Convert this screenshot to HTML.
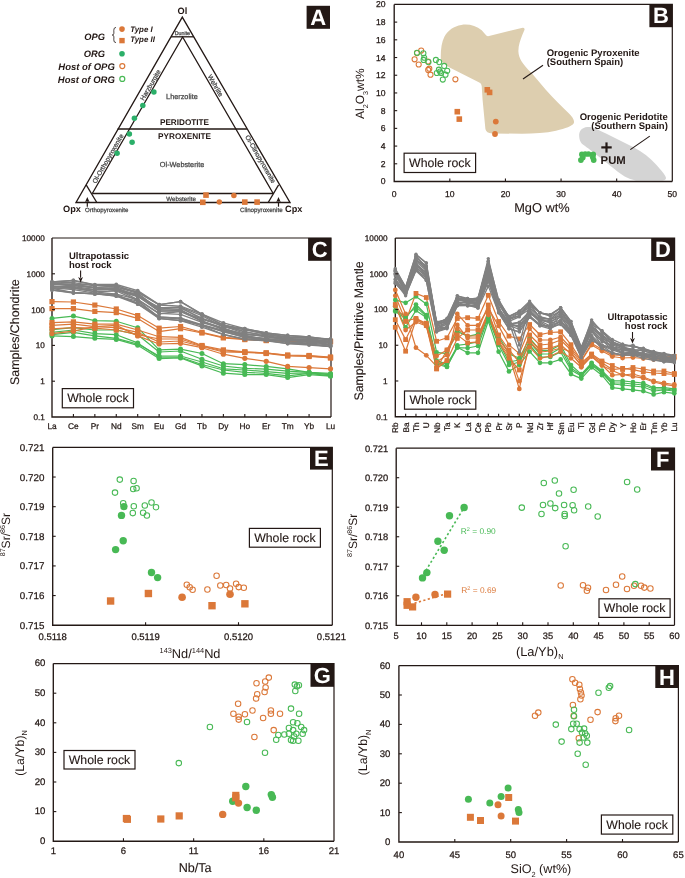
<!DOCTYPE html>
<html><head><meta charset="utf-8"><style>
html,body{margin:0;padding:0;background:#fff;}
svg{display:block;font-family:"Liberation Sans", sans-serif;will-change:transform;text-rendering:geometricPrecision;}
</style></head><body>
<svg width="685" height="878" viewBox="0 0 685 878">
<rect width="685" height="878" fill="#fff"/>
<path d="M76 202.5 L182.3 17.2 L290 202.5 Z" fill="none" stroke="#231815" stroke-width="1.35" stroke-linejoin="miter"/>
<line x1="171" y1="36.8" x2="193.7" y2="36.8" stroke="#231815" stroke-width="1.3"/>
<path d="M92.3 193.5 L182.6 37.0 L273.2 193.5" fill="none" stroke="#231815" stroke-width="1.3"/>
<line x1="117.6" y1="128.9" x2="246.9" y2="128.9" stroke="#231815" stroke-width="1.5"/>
<line x1="92.3" y1="193.5" x2="273.2" y2="193.5" stroke="#231815" stroke-width="1.3"/>
<line x1="86.2" y1="184.9" x2="96.8" y2="202.5" stroke="#231815" stroke-width="1.3"/>
<line x1="278.6" y1="184.9" x2="268.2" y2="202.5" stroke="#231815" stroke-width="1.3"/>
<text x="182.4" y="14" font-size="9.2" text-anchor="middle" font-weight="bold" fill="#231815">Ol</text>
<text x="72" y="212.3" font-size="9.2" text-anchor="middle" font-weight="bold" fill="#231815">Opx</text>
<text x="293.8" y="212.3" font-size="9.2" text-anchor="middle" font-weight="bold" fill="#231815">Cpx</text>
<text x="85" y="212.3" font-size="6.1" text-anchor="start" fill="#454545" stroke="#454545" stroke-width="0.25">Orthopyroxenite</text>
<text x="282.6" y="212.3" font-size="6.2" text-anchor="end" fill="#454545" stroke="#454545" stroke-width="0.25">Clinopyroxenite</text>
<line x1="87.3" y1="206.7" x2="87.3" y2="201.6" stroke="#231815" stroke-width="1.2"/>
<path d="M87.3 197.1 L85.1 201.9 L87.3 201.3 L89.5 201.9 Z" fill="#231815"/>
<line x1="278.5" y1="206.7" x2="278.5" y2="201.6" stroke="#231815" stroke-width="1.2"/>
<path d="M278.5 197.1 L276.3 201.9 L278.5 201.3 L280.7 201.9 Z" fill="#231815"/>
<text x="182.4" y="35" font-size="5.3" text-anchor="middle" fill="#454545" stroke="#454545" stroke-width="0.25">Dunite</text>
<text x="181.9" y="99.4" font-size="7.3" text-anchor="middle" fill="#454545" stroke="#454545" stroke-width="0.25">Lherzolite</text>
<text x="184.5" y="124.9" font-size="8.2" text-anchor="middle" font-weight="bold" fill="#231815">PERIDOTITE</text>
<text x="184.5" y="138.8" font-size="8.2" text-anchor="middle" font-weight="bold" fill="#231815">PYROXENITE</text>
<text x="182.1" y="166.9" font-size="7.3" text-anchor="middle" fill="#454545" stroke="#454545" stroke-width="0.25">Ol-Websterite</text>
<text x="181.1" y="200.5" font-size="6.2" text-anchor="middle" fill="#454545" stroke="#454545" stroke-width="0.25">Websterite</text>
<text x="152.36" y="86.19" font-size="6.6" text-anchor="middle" fill="#454545" stroke="#454545" stroke-width="0.25" transform="rotate(-60 152.36 86.19)">Harzburgite</text>
<text x="213.54" y="86.79" font-size="6.6" text-anchor="middle" fill="#454545" stroke="#454545" stroke-width="0.25" transform="rotate(60 213.54 86.79)">Wehrlite</text>
<text x="109.86" y="159.79" font-size="6.6" text-anchor="middle" fill="#454545" stroke="#454545" stroke-width="0.25" transform="rotate(-60 109.86 159.79)">Ol-Orthopyroxenite</text>
<text x="258.54" y="160.29" font-size="6.6" text-anchor="middle" fill="#454545" stroke="#454545" stroke-width="0.25" transform="rotate(60 258.54 160.29)">Ol-Clinopyroxenite</text>
<text x="105" y="40.3" font-size="9.3" text-anchor="end" font-weight="bold" font-style="italic" fill="#231815">OPG</text>
<text x="105" y="57.2" font-size="9.3" text-anchor="end" font-weight="bold" font-style="italic" fill="#231815">ORG</text>
<text x="114.8" y="69.9" font-size="9.5" text-anchor="end" font-weight="bold" font-style="italic" fill="#231815">Host of OPG</text>
<text x="114.8" y="82.6" font-size="9.5" text-anchor="end" font-weight="bold" font-style="italic" fill="#231815">Host of ORG</text>
<text x="130.2" y="32.4" font-size="7.9" text-anchor="start" font-weight="bold" font-style="italic" fill="#231815">Type I</text>
<text x="130.2" y="42.3" font-size="7.9" text-anchor="start" font-weight="bold" font-style="italic" fill="#231815">Type II</text>
<path d="M116.0 27.4 Q113.6 27.6 113.8 30.2 L113.9 33.2 Q113.9 34.9 112.2 35.0 Q113.9 35.2 113.9 36.9 L113.8 39.9 Q113.6 42.5 116.0 42.6" fill="none" stroke="#231815" stroke-width="0.8"/>
<circle cx="122" cy="29.1" r="2.8" fill="#DB7839" stroke="none" stroke-width="1"/>
<rect x="119.3" y="37.9" width="5.4" height="5.4" fill="#DB7839"/>
<circle cx="122" cy="53.8" r="2.8" fill="#2BAF69" stroke="none" stroke-width="1"/>
<circle cx="122.3" cy="66.1" r="2.5" fill="none" stroke="#DB7839" stroke-width="1.2"/>
<circle cx="122.3" cy="78.9" r="2.5" fill="none" stroke="#48B955" stroke-width="1.2"/>
<circle cx="153.9" cy="92.1" r="2.75" fill="#2BAF69" stroke="none" stroke-width="1"/>
<circle cx="142.8" cy="105.5" r="2.75" fill="#2BAF69" stroke="none" stroke-width="1"/>
<circle cx="134.4" cy="118.3" r="2.75" fill="#2BAF69" stroke="none" stroke-width="1"/>
<circle cx="129.4" cy="134.1" r="2.75" fill="#2BAF69" stroke="none" stroke-width="1"/>
<circle cx="132.1" cy="142.2" r="2.75" fill="#2BAF69" stroke="none" stroke-width="1"/>
<circle cx="117.1" cy="153.3" r="2.75" fill="#2BAF69" stroke="none" stroke-width="1"/>
<rect x="203.2" y="192.3" width="5.6" height="5.6" fill="#DB7839"/>
<rect x="200" y="199.5" width="5.6" height="5.6" fill="#DB7839"/>
<rect x="242" y="199.3" width="5.6" height="5.6" fill="#DB7839"/>
<rect x="254.3" y="199.3" width="5.6" height="5.6" fill="#DB7839"/>
<circle cx="233.9" cy="195.6" r="2.75" fill="#DB7839" stroke="none" stroke-width="1"/>
<circle cx="219.3" cy="201.9" r="2.75" fill="#DB7839" stroke="none" stroke-width="1"/>
<rect x="306.6" y="5.8" width="23.4" height="23" fill="#231815"/>
<text x="318.3" y="24.6" font-size="22" text-anchor="middle" font-weight="bold" fill="#fff">A</text>
<path d="M440.8 58.5 C440.6 50 441.5 42 444.5 36.5 C448 30 454 26.2 461.3 24.9 C468.6 23.7 476 25.6 481.7 30.3 L486.1 35.3 Q487.3 36.6 489 36.1 L521.6 27.9 Q525.6 27.3 524.2 30.6 L522.4 34.8 C520.2 40.5 518.2 46 518.4 51.5 C518.7 58 522.5 64.5 531.4 72.7 L546 90 C554 99 562 106.5 568.5 113 C573 117.5 575 121 573.6 123.6 C572 126 566 128.6 556 130.8 C546 133 534 133.8 522 133.8 L492 133.4 Q486.2 133.2 485.4 129 L482.6 100 L481.7 86 Q481.5 83.5 479.3 82.6 L449.6 67.5 Q441.2 63.2 440.8 58.5 Z" fill="#DDCEAF"/>
<path d="M579.2 136.5 C578.6 131 582 127.4 587.4 127 C592 126.7 598 129.4 606 133.6 L634 147.6 C643 152.5 650 158 656 164.5 C661 170 665 174.5 665.9 177.5 C666.4 179.8 664 180.6 660 180.6 L636 180.4 C628 179.6 621 174.5 614.7 169.3 L598 156 C591 150.5 585 146 581.9 143.8 C580 141.5 579.3 139 579.2 136.5 Z" fill="#D4D4D4"/>
<path d="M394.2 4.4 H672.3 V181.5" fill="none" stroke="#231815" stroke-width="1.2"/>
<path d="M394.2 4.4 V181.5 H672.3" fill="none" stroke="#231815" stroke-width="1.35"/>
<line x1="394.2" y1="163.79" x2="397.2" y2="163.79" stroke="#231815" stroke-width="1.1"/>
<text x="385.6" y="166.79" font-size="8.6" text-anchor="end" fill="#231815" stroke="#231815" stroke-width="0.25">2</text>
<line x1="394.2" y1="146.08" x2="397.2" y2="146.08" stroke="#231815" stroke-width="1.1"/>
<text x="385.6" y="149.08" font-size="8.6" text-anchor="end" fill="#231815" stroke="#231815" stroke-width="0.25">4</text>
<line x1="394.2" y1="128.37" x2="397.2" y2="128.37" stroke="#231815" stroke-width="1.1"/>
<text x="385.6" y="131.37" font-size="8.6" text-anchor="end" fill="#231815" stroke="#231815" stroke-width="0.25">6</text>
<line x1="394.2" y1="110.66" x2="397.2" y2="110.66" stroke="#231815" stroke-width="1.1"/>
<text x="385.6" y="113.66" font-size="8.6" text-anchor="end" fill="#231815" stroke="#231815" stroke-width="0.25">8</text>
<line x1="394.2" y1="92.95" x2="397.2" y2="92.95" stroke="#231815" stroke-width="1.1"/>
<text x="385.6" y="95.95" font-size="8.6" text-anchor="end" fill="#231815" stroke="#231815" stroke-width="0.25">10</text>
<line x1="394.2" y1="75.24" x2="397.2" y2="75.24" stroke="#231815" stroke-width="1.1"/>
<text x="385.6" y="78.24" font-size="8.6" text-anchor="end" fill="#231815" stroke="#231815" stroke-width="0.25">12</text>
<line x1="394.2" y1="57.53" x2="397.2" y2="57.53" stroke="#231815" stroke-width="1.1"/>
<text x="385.6" y="60.53" font-size="8.6" text-anchor="end" fill="#231815" stroke="#231815" stroke-width="0.25">14</text>
<line x1="394.2" y1="39.82" x2="397.2" y2="39.82" stroke="#231815" stroke-width="1.1"/>
<text x="385.6" y="42.82" font-size="8.6" text-anchor="end" fill="#231815" stroke="#231815" stroke-width="0.25">16</text>
<line x1="394.2" y1="22.11" x2="397.2" y2="22.11" stroke="#231815" stroke-width="1.1"/>
<text x="385.6" y="25.11" font-size="8.6" text-anchor="end" fill="#231815" stroke="#231815" stroke-width="0.25">18</text>
<text x="385.6" y="184.4" font-size="8.6" text-anchor="end" fill="#231815" stroke="#231815" stroke-width="0.25">0</text>
<text x="385.6" y="7.3" font-size="8.6" text-anchor="end" fill="#231815" stroke="#231815" stroke-width="0.25">20</text>
<line x1="449.82" y1="181.5" x2="449.82" y2="178.5" stroke="#231815" stroke-width="1.1"/>
<text x="449.82" y="196.6" font-size="8.6" text-anchor="middle" fill="#231815" stroke="#231815" stroke-width="0.25">10</text>
<line x1="505.44" y1="181.5" x2="505.44" y2="178.5" stroke="#231815" stroke-width="1.1"/>
<text x="505.44" y="196.6" font-size="8.6" text-anchor="middle" fill="#231815" stroke="#231815" stroke-width="0.25">20</text>
<line x1="561.06" y1="181.5" x2="561.06" y2="178.5" stroke="#231815" stroke-width="1.1"/>
<text x="561.06" y="196.6" font-size="8.6" text-anchor="middle" fill="#231815" stroke="#231815" stroke-width="0.25">30</text>
<line x1="616.68" y1="181.5" x2="616.68" y2="178.5" stroke="#231815" stroke-width="1.1"/>
<text x="616.68" y="196.6" font-size="8.6" text-anchor="middle" fill="#231815" stroke="#231815" stroke-width="0.25">40</text>
<text x="394.2" y="196.6" font-size="8.6" text-anchor="middle" fill="#231815" stroke="#231815" stroke-width="0.25">0</text>
<text x="672.3" y="196.6" font-size="8.6" text-anchor="middle" fill="#231815" stroke="#231815" stroke-width="0.25">50</text>
<text x="541.9" y="212.2" font-size="12.8" text-anchor="middle" fill="#231815" stroke="#231815" stroke-width="0.12">MgO wt%</text>
<text x="363.7" y="93.6" font-size="12" text-anchor="middle" fill="#231815" transform="rotate(-90 363.7 93.6)">Al<tspan font-size="7.2" dy="4.0">2</tspan><tspan dy="-4.0">O</tspan><tspan font-size="7.2" dy="4.0">3</tspan><tspan dy="-4.0">wt%</tspan></text>
<rect x="404.1" y="153.2" width="71.5" height="19.3" fill="#fff" stroke="#231815" stroke-width="1.2"/>
<text x="439.85" y="166.85" font-size="12.3" text-anchor="middle" fill="#231815" stroke="#231815" stroke-width="0.12">Whole rock</text>
<line x1="523" y1="79" x2="543" y2="65.2" stroke="#231815" stroke-width="1.1"/>
<line x1="630.3" y1="149.6" x2="649.8" y2="136.1" stroke="#231815" stroke-width="1.1"/>
<text x="546.7" y="55.8" font-size="9.5" text-anchor="start" font-weight="bold" fill="#231815">Orogenic Pyroxenite</text>
<text x="546.7" y="65.1" font-size="9.5" text-anchor="start" font-weight="bold" fill="#231815">(Southern Spain)</text>
<text x="667.8" y="119.7" font-size="9.5" text-anchor="end" font-weight="bold" fill="#231815">Orogenic Peridotite</text>
<text x="667.8" y="129.2" font-size="9.5" text-anchor="end" font-weight="bold" fill="#231815">(Southern Spain)</text>
<circle cx="421.2" cy="50.6" r="2.55" fill="none" stroke="#DB7839" stroke-width="1.05"/>
<circle cx="417" cy="53.1" r="2.55" fill="none" stroke="#DB7839" stroke-width="1.05"/>
<circle cx="414.6" cy="59.3" r="2.55" fill="none" stroke="#DB7839" stroke-width="1.05"/>
<circle cx="418.7" cy="64.5" r="2.55" fill="none" stroke="#DB7839" stroke-width="1.05"/>
<circle cx="428" cy="61.5" r="2.55" fill="none" stroke="#DB7839" stroke-width="1.05"/>
<circle cx="429.3" cy="68.7" r="2.55" fill="none" stroke="#DB7839" stroke-width="1.05"/>
<circle cx="428.2" cy="69.9" r="2.55" fill="none" stroke="#DB7839" stroke-width="1.05"/>
<circle cx="430.5" cy="74.7" r="2.55" fill="none" stroke="#DB7839" stroke-width="1.05"/>
<circle cx="455.4" cy="79.3" r="2.55" fill="none" stroke="#DB7839" stroke-width="1.05"/>
<circle cx="417" cy="52.8" r="2.55" fill="none" stroke="#48B955" stroke-width="1.05"/>
<circle cx="423.4" cy="53.3" r="2.55" fill="none" stroke="#48B955" stroke-width="1.05"/>
<circle cx="424.2" cy="57.7" r="2.55" fill="none" stroke="#48B955" stroke-width="1.05"/>
<circle cx="423.6" cy="59.9" r="2.55" fill="none" stroke="#48B955" stroke-width="1.05"/>
<circle cx="428.5" cy="62.1" r="2.55" fill="none" stroke="#48B955" stroke-width="1.05"/>
<circle cx="435.9" cy="59.9" r="2.55" fill="none" stroke="#48B955" stroke-width="1.05"/>
<circle cx="439.2" cy="62.1" r="2.55" fill="none" stroke="#48B955" stroke-width="1.05"/>
<circle cx="444.2" cy="65.9" r="2.55" fill="none" stroke="#48B955" stroke-width="1.05"/>
<circle cx="447.2" cy="70.8" r="2.55" fill="none" stroke="#48B955" stroke-width="1.05"/>
<circle cx="436.8" cy="73" r="2.55" fill="none" stroke="#48B955" stroke-width="1.05"/>
<circle cx="441.1" cy="73" r="2.55" fill="none" stroke="#48B955" stroke-width="1.05"/>
<circle cx="442.8" cy="79.6" r="2.55" fill="none" stroke="#48B955" stroke-width="1.05"/>
<circle cx="438.9" cy="69.7" r="2.55" fill="none" stroke="#48B955" stroke-width="1.05"/>
<circle cx="445.5" cy="74.7" r="2.55" fill="none" stroke="#48B955" stroke-width="1.05"/>
<circle cx="440" cy="71.5" r="2.55" fill="none" stroke="#48B955" stroke-width="1.05"/>
<rect x="484.5" y="87" width="5.6" height="5.6" fill="#DB7839"/>
<rect x="486.8" y="89.6" width="5.6" height="5.6" fill="#DB7839"/>
<rect x="454.5" y="108.9" width="5.6" height="5.6" fill="#DB7839"/>
<rect x="456.5" y="116.3" width="5.6" height="5.6" fill="#DB7839"/>
<circle cx="495.8" cy="121.6" r="2.9" fill="#DB7839" stroke="none" stroke-width="1"/>
<circle cx="495" cy="134" r="2.9" fill="#DB7839" stroke="none" stroke-width="1"/>
<circle cx="581.9" cy="154.4" r="2.85" fill="#48B955" stroke="none" stroke-width="1"/>
<circle cx="585.2" cy="154" r="2.85" fill="#48B955" stroke="none" stroke-width="1"/>
<circle cx="588.5" cy="154" r="2.85" fill="#48B955" stroke="none" stroke-width="1"/>
<circle cx="593.2" cy="154.4" r="2.85" fill="#48B955" stroke="none" stroke-width="1"/>
<circle cx="580.9" cy="160.1" r="2.85" fill="#48B955" stroke="none" stroke-width="1"/>
<circle cx="593.7" cy="160.1" r="2.85" fill="#48B955" stroke="none" stroke-width="1"/>
<circle cx="582.8" cy="157.6" r="2.85" fill="#48B955" stroke="none" stroke-width="1"/>
<circle cx="592.8" cy="157.3" r="2.85" fill="#48B955" stroke="none" stroke-width="1"/>
<line x1="601.3" y1="147.4" x2="611.7" y2="147.4" stroke="#231815" stroke-width="2.2"/>
<line x1="606.5" y1="142.4" x2="606.5" y2="152.6" stroke="#231815" stroke-width="2.2"/>
<text x="600.6" y="163.5" font-size="11.3" text-anchor="start" font-weight="bold" fill="#231815">PUM</text>
<rect x="649.4" y="4.2" width="23" height="23" fill="#231815"/>
<text x="660.9" y="23" font-size="22" text-anchor="middle" font-weight="bold" fill="#fff">B</text>
<path d="M52 238 H331 V417" fill="none" stroke="#231815" stroke-width="1.2"/>
<path d="M52 238 V417 H331" fill="none" stroke="#231815" stroke-width="1.35"/>
<polyline points="52,318.4 73.42,316.1 94.85,320.7 116.27,321.2 137.69,327.7 159.12,349.9 180.54,349.1 201.96,353.5 223.38,363.7 244.81,364.6 266.23,366.4 287.65,368.8 309.08,372.3 330.5,373.4" fill="none" stroke="#48B955" stroke-width="1.2" stroke-linejoin="round"/>
<polyline points="52,329.6 73.42,327.7 94.85,330 116.27,330 137.69,334.7 159.12,352 180.54,351 201.96,359.3 223.38,366 244.81,368.3 266.23,369.2 287.65,371.1 309.08,372.3 330.5,374.6" fill="none" stroke="#48B955" stroke-width="1.2" stroke-linejoin="round"/>
<polyline points="52,332.4 73.42,330 94.85,333.6 116.27,334.7 137.69,342.9 159.12,357.2 180.54,357.2 201.96,364.5 223.38,370 244.81,372.3 266.23,373.4 287.65,375.8 309.08,373.4 330.5,375.8" fill="none" stroke="#48B955" stroke-width="1.2" stroke-linejoin="round"/>
<polyline points="52,335.9 73.42,336.6 94.85,338.3 116.27,339.4 137.69,345.3 159.12,358.6 180.54,357.9 201.96,365.9 223.38,373.2 244.81,374.6 266.23,374.6 287.65,377.6 309.08,374.6 330.5,376.2" fill="none" stroke="#48B955" stroke-width="1.2" stroke-linejoin="round"/>
<polyline points="52,334.7 73.42,332.4 94.85,335.9 116.27,338.3 137.69,344.1 159.12,356 180.54,356 201.96,362 223.38,368.8 244.81,370 266.23,371.6 287.65,373.4 309.08,373 330.5,374.6" fill="none" stroke="#48B955" stroke-width="1.2" stroke-linejoin="round"/>
<polyline points="52,301.6 73.42,302 94.85,305.1 116.27,309 137.69,315.6 159.12,328.2 180.54,326.5 201.96,332.3 223.38,337.4 244.81,338.9 266.23,340.3 287.65,341.2 309.08,341.2 330.5,341.2" fill="none" stroke="#DB7839" stroke-width="1.2" stroke-linejoin="round"/>
<polyline points="52,308.6 73.42,308.6 94.85,311.4 116.27,312.6 137.69,318.4 159.12,331.6 180.54,328.7 201.96,333 223.38,337.9 244.81,339.6 266.23,340.6 287.65,341.5 309.08,341.5 330.5,341.8" fill="none" stroke="#DB7839" stroke-width="1.2" stroke-linejoin="round"/>
<polyline points="52,322.6 73.42,321.9 94.85,324.2 116.27,324.2 137.69,330 159.12,336.7 180.54,337.4 201.96,345.5 223.38,349.9 244.81,351.9 266.23,352.9 287.65,355.5 309.08,355.9 330.5,357.6" fill="none" stroke="#DB7839" stroke-width="1.2" stroke-linejoin="round"/>
<polyline points="52,325.4 73.42,324.2 94.85,326.6 116.27,327.7 137.69,332.4 159.12,342 180.54,341 201.96,346.5 223.38,352 244.81,352.5 266.23,353.5 287.65,356 309.08,356.5 330.5,358" fill="none" stroke="#DB7839" stroke-width="1.2" stroke-linejoin="round"/>
<polyline points="52,333.6 73.42,331.2 94.85,326.6 116.27,325.4 137.69,335.9 159.12,344 180.54,343.3 201.96,347.7 223.38,354.2 244.81,358.3 266.23,361.3 287.65,366.4 309.08,367.6 330.5,368.8" fill="none" stroke="#DB7839" stroke-width="1.2" stroke-linejoin="round"/>
<polyline points="52,328.9 73.42,327.7 94.85,328.2 116.27,330 137.69,334.7 159.12,339 180.54,339 201.96,346 223.38,351 244.81,352 266.23,353 287.65,355 309.08,355.5 330.5,357" fill="none" stroke="#DB7839" stroke-width="1.2" stroke-linejoin="round"/>
<circle cx="52" cy="318.4" r="2.5" fill="#48B955" stroke="none" stroke-width="1"/>
<circle cx="73.42" cy="316.1" r="2.5" fill="#48B955" stroke="none" stroke-width="1"/>
<circle cx="94.85" cy="320.7" r="2.5" fill="#48B955" stroke="none" stroke-width="1"/>
<circle cx="116.27" cy="321.2" r="2.5" fill="#48B955" stroke="none" stroke-width="1"/>
<circle cx="137.69" cy="327.7" r="2.5" fill="#48B955" stroke="none" stroke-width="1"/>
<circle cx="159.12" cy="349.9" r="2.5" fill="#48B955" stroke="none" stroke-width="1"/>
<circle cx="180.54" cy="349.1" r="2.5" fill="#48B955" stroke="none" stroke-width="1"/>
<circle cx="201.96" cy="353.5" r="2.5" fill="#48B955" stroke="none" stroke-width="1"/>
<circle cx="223.38" cy="363.7" r="2.5" fill="#48B955" stroke="none" stroke-width="1"/>
<circle cx="244.81" cy="364.6" r="2.5" fill="#48B955" stroke="none" stroke-width="1"/>
<circle cx="266.23" cy="366.4" r="2.5" fill="#48B955" stroke="none" stroke-width="1"/>
<circle cx="287.65" cy="368.8" r="2.5" fill="#48B955" stroke="none" stroke-width="1"/>
<circle cx="309.08" cy="372.3" r="2.5" fill="#48B955" stroke="none" stroke-width="1"/>
<circle cx="330.5" cy="373.4" r="2.5" fill="#48B955" stroke="none" stroke-width="1"/>
<circle cx="52" cy="329.6" r="2.5" fill="#48B955" stroke="none" stroke-width="1"/>
<circle cx="73.42" cy="327.7" r="2.5" fill="#48B955" stroke="none" stroke-width="1"/>
<circle cx="94.85" cy="330" r="2.5" fill="#48B955" stroke="none" stroke-width="1"/>
<circle cx="116.27" cy="330" r="2.5" fill="#48B955" stroke="none" stroke-width="1"/>
<circle cx="137.69" cy="334.7" r="2.5" fill="#48B955" stroke="none" stroke-width="1"/>
<circle cx="159.12" cy="352" r="2.5" fill="#48B955" stroke="none" stroke-width="1"/>
<circle cx="180.54" cy="351" r="2.5" fill="#48B955" stroke="none" stroke-width="1"/>
<circle cx="201.96" cy="359.3" r="2.5" fill="#48B955" stroke="none" stroke-width="1"/>
<circle cx="223.38" cy="366" r="2.5" fill="#48B955" stroke="none" stroke-width="1"/>
<circle cx="244.81" cy="368.3" r="2.5" fill="#48B955" stroke="none" stroke-width="1"/>
<circle cx="266.23" cy="369.2" r="2.5" fill="#48B955" stroke="none" stroke-width="1"/>
<circle cx="287.65" cy="371.1" r="2.5" fill="#48B955" stroke="none" stroke-width="1"/>
<circle cx="309.08" cy="372.3" r="2.5" fill="#48B955" stroke="none" stroke-width="1"/>
<circle cx="330.5" cy="374.6" r="2.5" fill="#48B955" stroke="none" stroke-width="1"/>
<circle cx="52" cy="332.4" r="2.5" fill="#48B955" stroke="none" stroke-width="1"/>
<circle cx="73.42" cy="330" r="2.5" fill="#48B955" stroke="none" stroke-width="1"/>
<circle cx="94.85" cy="333.6" r="2.5" fill="#48B955" stroke="none" stroke-width="1"/>
<circle cx="116.27" cy="334.7" r="2.5" fill="#48B955" stroke="none" stroke-width="1"/>
<circle cx="137.69" cy="342.9" r="2.5" fill="#48B955" stroke="none" stroke-width="1"/>
<circle cx="159.12" cy="357.2" r="2.5" fill="#48B955" stroke="none" stroke-width="1"/>
<circle cx="180.54" cy="357.2" r="2.5" fill="#48B955" stroke="none" stroke-width="1"/>
<circle cx="201.96" cy="364.5" r="2.5" fill="#48B955" stroke="none" stroke-width="1"/>
<circle cx="223.38" cy="370" r="2.5" fill="#48B955" stroke="none" stroke-width="1"/>
<circle cx="244.81" cy="372.3" r="2.5" fill="#48B955" stroke="none" stroke-width="1"/>
<circle cx="266.23" cy="373.4" r="2.5" fill="#48B955" stroke="none" stroke-width="1"/>
<circle cx="287.65" cy="375.8" r="2.5" fill="#48B955" stroke="none" stroke-width="1"/>
<circle cx="309.08" cy="373.4" r="2.5" fill="#48B955" stroke="none" stroke-width="1"/>
<circle cx="330.5" cy="375.8" r="2.5" fill="#48B955" stroke="none" stroke-width="1"/>
<circle cx="52" cy="335.9" r="2.5" fill="#48B955" stroke="none" stroke-width="1"/>
<circle cx="73.42" cy="336.6" r="2.5" fill="#48B955" stroke="none" stroke-width="1"/>
<circle cx="94.85" cy="338.3" r="2.5" fill="#48B955" stroke="none" stroke-width="1"/>
<circle cx="116.27" cy="339.4" r="2.5" fill="#48B955" stroke="none" stroke-width="1"/>
<circle cx="137.69" cy="345.3" r="2.5" fill="#48B955" stroke="none" stroke-width="1"/>
<circle cx="159.12" cy="358.6" r="2.5" fill="#48B955" stroke="none" stroke-width="1"/>
<circle cx="180.54" cy="357.9" r="2.5" fill="#48B955" stroke="none" stroke-width="1"/>
<circle cx="201.96" cy="365.9" r="2.5" fill="#48B955" stroke="none" stroke-width="1"/>
<circle cx="223.38" cy="373.2" r="2.5" fill="#48B955" stroke="none" stroke-width="1"/>
<circle cx="244.81" cy="374.6" r="2.5" fill="#48B955" stroke="none" stroke-width="1"/>
<circle cx="266.23" cy="374.6" r="2.5" fill="#48B955" stroke="none" stroke-width="1"/>
<circle cx="287.65" cy="377.6" r="2.5" fill="#48B955" stroke="none" stroke-width="1"/>
<circle cx="309.08" cy="374.6" r="2.5" fill="#48B955" stroke="none" stroke-width="1"/>
<circle cx="330.5" cy="376.2" r="2.5" fill="#48B955" stroke="none" stroke-width="1"/>
<circle cx="52" cy="334.7" r="2.5" fill="#48B955" stroke="none" stroke-width="1"/>
<circle cx="73.42" cy="332.4" r="2.5" fill="#48B955" stroke="none" stroke-width="1"/>
<circle cx="94.85" cy="335.9" r="2.5" fill="#48B955" stroke="none" stroke-width="1"/>
<circle cx="116.27" cy="338.3" r="2.5" fill="#48B955" stroke="none" stroke-width="1"/>
<circle cx="137.69" cy="344.1" r="2.5" fill="#48B955" stroke="none" stroke-width="1"/>
<circle cx="159.12" cy="356" r="2.5" fill="#48B955" stroke="none" stroke-width="1"/>
<circle cx="180.54" cy="356" r="2.5" fill="#48B955" stroke="none" stroke-width="1"/>
<circle cx="201.96" cy="362" r="2.5" fill="#48B955" stroke="none" stroke-width="1"/>
<circle cx="223.38" cy="368.8" r="2.5" fill="#48B955" stroke="none" stroke-width="1"/>
<circle cx="244.81" cy="370" r="2.5" fill="#48B955" stroke="none" stroke-width="1"/>
<circle cx="266.23" cy="371.6" r="2.5" fill="#48B955" stroke="none" stroke-width="1"/>
<circle cx="287.65" cy="373.4" r="2.5" fill="#48B955" stroke="none" stroke-width="1"/>
<circle cx="309.08" cy="373" r="2.5" fill="#48B955" stroke="none" stroke-width="1"/>
<circle cx="330.5" cy="374.6" r="2.5" fill="#48B955" stroke="none" stroke-width="1"/>
<rect x="49.4" y="299" width="5.2" height="5.2" fill="#DB7839"/>
<rect x="70.82" y="299.4" width="5.2" height="5.2" fill="#DB7839"/>
<rect x="92.25" y="302.5" width="5.2" height="5.2" fill="#DB7839"/>
<rect x="113.67" y="306.4" width="5.2" height="5.2" fill="#DB7839"/>
<rect x="135.09" y="313" width="5.2" height="5.2" fill="#DB7839"/>
<rect x="156.52" y="325.6" width="5.2" height="5.2" fill="#DB7839"/>
<rect x="177.94" y="323.9" width="5.2" height="5.2" fill="#DB7839"/>
<rect x="199.36" y="329.7" width="5.2" height="5.2" fill="#DB7839"/>
<rect x="220.78" y="334.8" width="5.2" height="5.2" fill="#DB7839"/>
<rect x="242.21" y="336.3" width="5.2" height="5.2" fill="#DB7839"/>
<rect x="263.63" y="337.7" width="5.2" height="5.2" fill="#DB7839"/>
<rect x="285.05" y="338.6" width="5.2" height="5.2" fill="#DB7839"/>
<rect x="306.48" y="338.6" width="5.2" height="5.2" fill="#DB7839"/>
<rect x="327.9" y="338.6" width="5.2" height="5.2" fill="#DB7839"/>
<rect x="49.4" y="306" width="5.2" height="5.2" fill="#DB7839"/>
<rect x="70.82" y="306" width="5.2" height="5.2" fill="#DB7839"/>
<rect x="92.25" y="308.8" width="5.2" height="5.2" fill="#DB7839"/>
<rect x="113.67" y="310" width="5.2" height="5.2" fill="#DB7839"/>
<rect x="135.09" y="315.8" width="5.2" height="5.2" fill="#DB7839"/>
<rect x="156.52" y="329" width="5.2" height="5.2" fill="#DB7839"/>
<rect x="177.94" y="326.1" width="5.2" height="5.2" fill="#DB7839"/>
<rect x="199.36" y="330.4" width="5.2" height="5.2" fill="#DB7839"/>
<rect x="220.78" y="335.3" width="5.2" height="5.2" fill="#DB7839"/>
<rect x="242.21" y="337" width="5.2" height="5.2" fill="#DB7839"/>
<rect x="263.63" y="338" width="5.2" height="5.2" fill="#DB7839"/>
<rect x="285.05" y="338.9" width="5.2" height="5.2" fill="#DB7839"/>
<rect x="306.48" y="338.9" width="5.2" height="5.2" fill="#DB7839"/>
<rect x="327.9" y="339.2" width="5.2" height="5.2" fill="#DB7839"/>
<rect x="49.4" y="320" width="5.2" height="5.2" fill="#DB7839"/>
<rect x="70.82" y="319.3" width="5.2" height="5.2" fill="#DB7839"/>
<rect x="92.25" y="321.6" width="5.2" height="5.2" fill="#DB7839"/>
<rect x="113.67" y="321.6" width="5.2" height="5.2" fill="#DB7839"/>
<rect x="135.09" y="327.4" width="5.2" height="5.2" fill="#DB7839"/>
<rect x="156.52" y="334.1" width="5.2" height="5.2" fill="#DB7839"/>
<rect x="177.94" y="334.8" width="5.2" height="5.2" fill="#DB7839"/>
<rect x="199.36" y="342.9" width="5.2" height="5.2" fill="#DB7839"/>
<rect x="220.78" y="347.3" width="5.2" height="5.2" fill="#DB7839"/>
<rect x="242.21" y="349.3" width="5.2" height="5.2" fill="#DB7839"/>
<rect x="263.63" y="350.3" width="5.2" height="5.2" fill="#DB7839"/>
<rect x="285.05" y="352.9" width="5.2" height="5.2" fill="#DB7839"/>
<rect x="306.48" y="353.3" width="5.2" height="5.2" fill="#DB7839"/>
<rect x="327.9" y="355" width="5.2" height="5.2" fill="#DB7839"/>
<rect x="49.4" y="322.8" width="5.2" height="5.2" fill="#DB7839"/>
<rect x="70.82" y="321.6" width="5.2" height="5.2" fill="#DB7839"/>
<rect x="92.25" y="324" width="5.2" height="5.2" fill="#DB7839"/>
<rect x="113.67" y="325.1" width="5.2" height="5.2" fill="#DB7839"/>
<rect x="135.09" y="329.8" width="5.2" height="5.2" fill="#DB7839"/>
<rect x="156.52" y="339.4" width="5.2" height="5.2" fill="#DB7839"/>
<rect x="177.94" y="338.4" width="5.2" height="5.2" fill="#DB7839"/>
<rect x="199.36" y="343.9" width="5.2" height="5.2" fill="#DB7839"/>
<rect x="220.78" y="349.4" width="5.2" height="5.2" fill="#DB7839"/>
<rect x="242.21" y="349.9" width="5.2" height="5.2" fill="#DB7839"/>
<rect x="263.63" y="350.9" width="5.2" height="5.2" fill="#DB7839"/>
<rect x="285.05" y="353.4" width="5.2" height="5.2" fill="#DB7839"/>
<rect x="306.48" y="353.9" width="5.2" height="5.2" fill="#DB7839"/>
<rect x="327.9" y="355.4" width="5.2" height="5.2" fill="#DB7839"/>
<circle cx="52" cy="333.6" r="2.6" fill="#DB7839" stroke="none" stroke-width="1"/>
<circle cx="73.42" cy="331.2" r="2.6" fill="#DB7839" stroke="none" stroke-width="1"/>
<circle cx="94.85" cy="326.6" r="2.6" fill="#DB7839" stroke="none" stroke-width="1"/>
<circle cx="116.27" cy="325.4" r="2.6" fill="#DB7839" stroke="none" stroke-width="1"/>
<circle cx="137.69" cy="335.9" r="2.6" fill="#DB7839" stroke="none" stroke-width="1"/>
<circle cx="159.12" cy="344" r="2.6" fill="#DB7839" stroke="none" stroke-width="1"/>
<circle cx="180.54" cy="343.3" r="2.6" fill="#DB7839" stroke="none" stroke-width="1"/>
<circle cx="201.96" cy="347.7" r="2.6" fill="#DB7839" stroke="none" stroke-width="1"/>
<circle cx="223.38" cy="354.2" r="2.6" fill="#DB7839" stroke="none" stroke-width="1"/>
<circle cx="244.81" cy="358.3" r="2.6" fill="#DB7839" stroke="none" stroke-width="1"/>
<circle cx="266.23" cy="361.3" r="2.6" fill="#DB7839" stroke="none" stroke-width="1"/>
<circle cx="287.65" cy="366.4" r="2.6" fill="#DB7839" stroke="none" stroke-width="1"/>
<circle cx="309.08" cy="367.6" r="2.6" fill="#DB7839" stroke="none" stroke-width="1"/>
<circle cx="330.5" cy="368.8" r="2.6" fill="#DB7839" stroke="none" stroke-width="1"/>
<rect x="49.4" y="326.3" width="5.2" height="5.2" fill="#DB7839"/>
<rect x="70.82" y="325.1" width="5.2" height="5.2" fill="#DB7839"/>
<rect x="92.25" y="325.6" width="5.2" height="5.2" fill="#DB7839"/>
<rect x="113.67" y="327.4" width="5.2" height="5.2" fill="#DB7839"/>
<rect x="135.09" y="332.1" width="5.2" height="5.2" fill="#DB7839"/>
<rect x="156.52" y="336.4" width="5.2" height="5.2" fill="#DB7839"/>
<rect x="177.94" y="336.4" width="5.2" height="5.2" fill="#DB7839"/>
<rect x="199.36" y="343.4" width="5.2" height="5.2" fill="#DB7839"/>
<rect x="220.78" y="348.4" width="5.2" height="5.2" fill="#DB7839"/>
<rect x="242.21" y="349.4" width="5.2" height="5.2" fill="#DB7839"/>
<rect x="263.63" y="350.4" width="5.2" height="5.2" fill="#DB7839"/>
<rect x="285.05" y="352.4" width="5.2" height="5.2" fill="#DB7839"/>
<rect x="306.48" y="352.9" width="5.2" height="5.2" fill="#DB7839"/>
<rect x="327.9" y="354.4" width="5.2" height="5.2" fill="#DB7839"/>
<polyline points="52,282 73.42,280.5 94.85,284.54 116.27,284.5 137.69,290.67 159.12,304.6 180.54,301.7 201.96,314.14 223.38,322.8 244.81,328.7 266.23,333 287.65,335.5 309.08,337 330.5,339.44" fill="none" stroke="#808080" stroke-width="1.35" stroke-linejoin="round"/>
<polyline points="52,282 73.42,280.5 94.85,285.13 116.27,287.12 137.69,291.77 159.12,305.01 180.54,306.22 201.96,314.1 223.38,325.09 244.81,328.7 266.23,333 287.65,335.5 309.08,337 330.5,339.94" fill="none" stroke="#808080" stroke-width="1.35" stroke-linejoin="round"/>
<polyline points="52,282.15 73.42,282.62 94.85,285.83 116.27,285.51 137.69,292.53 159.12,304.6 180.54,301.7 201.96,314.46 223.38,325.12 244.81,329.87 266.23,333.6 287.65,336.81 309.08,337.93 330.5,338.99" fill="none" stroke="#808080" stroke-width="1.35" stroke-linejoin="round"/>
<polyline points="52,284.45 73.42,284.03 94.85,285.08 116.27,287.11 137.69,293.32 159.12,309.26 180.54,307.07 201.96,315.72 223.38,327.16 244.81,329.38 266.23,334.53 287.65,337.84 309.08,337.6 330.5,340.07" fill="none" stroke="#808080" stroke-width="1.35" stroke-linejoin="round"/>
<polyline points="52,282.81 73.42,284.75 94.85,287.62 116.27,287.87 137.69,295.92 159.12,307.37 180.54,308.1 201.96,318.04 223.38,326.26 244.81,331.43 266.23,336.5 287.65,338.91 309.08,339.06 330.5,341.11" fill="none" stroke="#808080" stroke-width="1.35" stroke-linejoin="round"/>
<polyline points="52,283.4 73.42,285.78 94.85,287.86 116.27,290.37 137.69,296.56 159.12,308.16 180.54,307.25 201.96,319.26 223.38,324.69 244.81,332.18 266.23,334.92 287.65,337.06 309.08,338.4 330.5,341.94" fill="none" stroke="#808080" stroke-width="1.35" stroke-linejoin="round"/>
<polyline points="52,284.13 73.42,284.52 94.85,287.61 116.27,290.64 137.69,293.86 159.12,309.91 180.54,309.64 201.96,321.15 223.38,328.82 244.81,334.49 266.23,335.88 287.65,338.46 309.08,339.79 330.5,342.81" fill="none" stroke="#808080" stroke-width="1.35" stroke-linejoin="round"/>
<polyline points="52,287.05 73.42,284.93 94.85,287.5 116.27,288.76 137.69,295.5 159.12,311.01 180.54,311.18 201.96,319.09 223.38,326.17 244.81,333.47 266.23,336.78 287.65,339.42 309.08,342.04 330.5,342.78" fill="none" stroke="#808080" stroke-width="1.35" stroke-linejoin="round"/>
<polyline points="52,286.31 73.42,287.98 94.85,289.97 116.27,288.79 137.69,299.64 159.12,313.41 180.54,314.4 201.96,322.49 223.38,328.59 244.81,334.12 266.23,336.52 287.65,340.15 309.08,340.01 330.5,341.52" fill="none" stroke="#808080" stroke-width="1.35" stroke-linejoin="round"/>
<polyline points="52,285.96 73.42,286.72 94.85,289.42 116.27,289.55 137.69,296.17 159.12,311.19 180.54,310.37 201.96,321.32 223.38,327.82 244.81,336.71 266.23,338.77 287.65,339.29 309.08,341.09 330.5,342.86" fill="none" stroke="#808080" stroke-width="1.35" stroke-linejoin="round"/>
<polyline points="52,286.94 73.42,287.4 94.85,291.92 116.27,294.21 137.69,299.33 159.12,313.79 180.54,311.53 201.96,320.96 223.38,329.94 244.81,335.04 266.23,340.07 287.65,339.86 309.08,340.96 330.5,345.13" fill="none" stroke="#808080" stroke-width="1.35" stroke-linejoin="round"/>
<polyline points="52,287.95 73.42,288.38 94.85,291.49 116.27,290.98 137.69,300.54 159.12,317.19 180.54,318.12 201.96,324.63 223.38,330.37 244.81,336.17 266.23,338.52 287.65,342.15 309.08,342.96 330.5,345.17" fill="none" stroke="#808080" stroke-width="1.35" stroke-linejoin="round"/>
<polyline points="52,287.91 73.42,289.6 94.85,293.12 116.27,295.71 137.69,303.01 159.12,317.25 180.54,319.08 201.96,325.71 223.38,331.01 244.81,337.49 266.23,339.73 287.65,340.54 309.08,342.04 330.5,344.26" fill="none" stroke="#808080" stroke-width="1.35" stroke-linejoin="round"/>
<polyline points="52,288.24 73.42,292.67 94.85,294 116.27,294.25 137.69,304 159.12,318.5 180.54,320.7 201.96,324.81 223.38,331.76 244.81,337.07 266.23,339.82 287.65,341.58 309.08,344.29 330.5,346.5" fill="none" stroke="#808080" stroke-width="1.35" stroke-linejoin="round"/>
<polyline points="52,290 73.42,292.54 94.85,293.88 116.27,296 137.69,301.08 159.12,318.38 180.54,320.7 201.96,327.2 223.38,334.5 244.81,338.79 266.23,340.36 287.65,343.5 309.08,343.98 330.5,346.5" fill="none" stroke="#808080" stroke-width="1.35" stroke-linejoin="round"/>
<polyline points="52,290 73.42,293.01 94.85,293.64 116.27,296 137.69,304 159.12,316.85 180.54,318.15 201.96,325.55 223.38,334.5 244.81,339.6 266.23,340.85 287.65,343.5 309.08,345 330.5,346.5" fill="none" stroke="#808080" stroke-width="1.35" stroke-linejoin="round"/>
<circle cx="52" cy="282" r="1.9" fill="#808080" stroke="none" stroke-width="1"/>
<circle cx="73.42" cy="280.5" r="1.9" fill="#808080" stroke="none" stroke-width="1"/>
<circle cx="94.85" cy="284.54" r="1.9" fill="#808080" stroke="none" stroke-width="1"/>
<circle cx="116.27" cy="284.5" r="1.9" fill="#808080" stroke="none" stroke-width="1"/>
<circle cx="137.69" cy="290.67" r="1.9" fill="#808080" stroke="none" stroke-width="1"/>
<circle cx="159.12" cy="304.6" r="1.9" fill="#808080" stroke="none" stroke-width="1"/>
<circle cx="180.54" cy="301.7" r="1.9" fill="#808080" stroke="none" stroke-width="1"/>
<circle cx="201.96" cy="314.14" r="1.9" fill="#808080" stroke="none" stroke-width="1"/>
<circle cx="223.38" cy="322.8" r="1.9" fill="#808080" stroke="none" stroke-width="1"/>
<circle cx="244.81" cy="328.7" r="1.9" fill="#808080" stroke="none" stroke-width="1"/>
<circle cx="266.23" cy="333" r="1.9" fill="#808080" stroke="none" stroke-width="1"/>
<circle cx="287.65" cy="335.5" r="1.9" fill="#808080" stroke="none" stroke-width="1"/>
<circle cx="309.08" cy="337" r="1.9" fill="#808080" stroke="none" stroke-width="1"/>
<circle cx="330.5" cy="339.44" r="1.9" fill="#808080" stroke="none" stroke-width="1"/>
<circle cx="52" cy="282" r="1.9" fill="#808080" stroke="none" stroke-width="1"/>
<circle cx="73.42" cy="280.5" r="1.9" fill="#808080" stroke="none" stroke-width="1"/>
<circle cx="94.85" cy="285.13" r="1.9" fill="#808080" stroke="none" stroke-width="1"/>
<circle cx="116.27" cy="287.12" r="1.9" fill="#808080" stroke="none" stroke-width="1"/>
<circle cx="137.69" cy="291.77" r="1.9" fill="#808080" stroke="none" stroke-width="1"/>
<circle cx="159.12" cy="305.01" r="1.9" fill="#808080" stroke="none" stroke-width="1"/>
<circle cx="180.54" cy="306.22" r="1.9" fill="#808080" stroke="none" stroke-width="1"/>
<circle cx="201.96" cy="314.1" r="1.9" fill="#808080" stroke="none" stroke-width="1"/>
<circle cx="223.38" cy="325.09" r="1.9" fill="#808080" stroke="none" stroke-width="1"/>
<circle cx="244.81" cy="328.7" r="1.9" fill="#808080" stroke="none" stroke-width="1"/>
<circle cx="266.23" cy="333" r="1.9" fill="#808080" stroke="none" stroke-width="1"/>
<circle cx="287.65" cy="335.5" r="1.9" fill="#808080" stroke="none" stroke-width="1"/>
<circle cx="309.08" cy="337" r="1.9" fill="#808080" stroke="none" stroke-width="1"/>
<circle cx="330.5" cy="339.94" r="1.9" fill="#808080" stroke="none" stroke-width="1"/>
<circle cx="52" cy="282.15" r="1.9" fill="#808080" stroke="none" stroke-width="1"/>
<circle cx="73.42" cy="282.62" r="1.9" fill="#808080" stroke="none" stroke-width="1"/>
<circle cx="94.85" cy="285.83" r="1.9" fill="#808080" stroke="none" stroke-width="1"/>
<circle cx="116.27" cy="285.51" r="1.9" fill="#808080" stroke="none" stroke-width="1"/>
<circle cx="137.69" cy="292.53" r="1.9" fill="#808080" stroke="none" stroke-width="1"/>
<circle cx="159.12" cy="304.6" r="1.9" fill="#808080" stroke="none" stroke-width="1"/>
<circle cx="180.54" cy="301.7" r="1.9" fill="#808080" stroke="none" stroke-width="1"/>
<circle cx="201.96" cy="314.46" r="1.9" fill="#808080" stroke="none" stroke-width="1"/>
<circle cx="223.38" cy="325.12" r="1.9" fill="#808080" stroke="none" stroke-width="1"/>
<circle cx="244.81" cy="329.87" r="1.9" fill="#808080" stroke="none" stroke-width="1"/>
<circle cx="266.23" cy="333.6" r="1.9" fill="#808080" stroke="none" stroke-width="1"/>
<circle cx="287.65" cy="336.81" r="1.9" fill="#808080" stroke="none" stroke-width="1"/>
<circle cx="309.08" cy="337.93" r="1.9" fill="#808080" stroke="none" stroke-width="1"/>
<circle cx="330.5" cy="338.99" r="1.9" fill="#808080" stroke="none" stroke-width="1"/>
<circle cx="52" cy="284.45" r="1.9" fill="#808080" stroke="none" stroke-width="1"/>
<circle cx="73.42" cy="284.03" r="1.9" fill="#808080" stroke="none" stroke-width="1"/>
<circle cx="94.85" cy="285.08" r="1.9" fill="#808080" stroke="none" stroke-width="1"/>
<circle cx="116.27" cy="287.11" r="1.9" fill="#808080" stroke="none" stroke-width="1"/>
<circle cx="137.69" cy="293.32" r="1.9" fill="#808080" stroke="none" stroke-width="1"/>
<circle cx="159.12" cy="309.26" r="1.9" fill="#808080" stroke="none" stroke-width="1"/>
<circle cx="180.54" cy="307.07" r="1.9" fill="#808080" stroke="none" stroke-width="1"/>
<circle cx="201.96" cy="315.72" r="1.9" fill="#808080" stroke="none" stroke-width="1"/>
<circle cx="223.38" cy="327.16" r="1.9" fill="#808080" stroke="none" stroke-width="1"/>
<circle cx="244.81" cy="329.38" r="1.9" fill="#808080" stroke="none" stroke-width="1"/>
<circle cx="266.23" cy="334.53" r="1.9" fill="#808080" stroke="none" stroke-width="1"/>
<circle cx="287.65" cy="337.84" r="1.9" fill="#808080" stroke="none" stroke-width="1"/>
<circle cx="309.08" cy="337.6" r="1.9" fill="#808080" stroke="none" stroke-width="1"/>
<circle cx="330.5" cy="340.07" r="1.9" fill="#808080" stroke="none" stroke-width="1"/>
<circle cx="52" cy="282.81" r="1.9" fill="#808080" stroke="none" stroke-width="1"/>
<circle cx="73.42" cy="284.75" r="1.9" fill="#808080" stroke="none" stroke-width="1"/>
<circle cx="94.85" cy="287.62" r="1.9" fill="#808080" stroke="none" stroke-width="1"/>
<circle cx="116.27" cy="287.87" r="1.9" fill="#808080" stroke="none" stroke-width="1"/>
<circle cx="137.69" cy="295.92" r="1.9" fill="#808080" stroke="none" stroke-width="1"/>
<circle cx="159.12" cy="307.37" r="1.9" fill="#808080" stroke="none" stroke-width="1"/>
<circle cx="180.54" cy="308.1" r="1.9" fill="#808080" stroke="none" stroke-width="1"/>
<circle cx="201.96" cy="318.04" r="1.9" fill="#808080" stroke="none" stroke-width="1"/>
<circle cx="223.38" cy="326.26" r="1.9" fill="#808080" stroke="none" stroke-width="1"/>
<circle cx="244.81" cy="331.43" r="1.9" fill="#808080" stroke="none" stroke-width="1"/>
<circle cx="266.23" cy="336.5" r="1.9" fill="#808080" stroke="none" stroke-width="1"/>
<circle cx="287.65" cy="338.91" r="1.9" fill="#808080" stroke="none" stroke-width="1"/>
<circle cx="309.08" cy="339.06" r="1.9" fill="#808080" stroke="none" stroke-width="1"/>
<circle cx="330.5" cy="341.11" r="1.9" fill="#808080" stroke="none" stroke-width="1"/>
<circle cx="52" cy="283.4" r="1.9" fill="#808080" stroke="none" stroke-width="1"/>
<circle cx="73.42" cy="285.78" r="1.9" fill="#808080" stroke="none" stroke-width="1"/>
<circle cx="94.85" cy="287.86" r="1.9" fill="#808080" stroke="none" stroke-width="1"/>
<circle cx="116.27" cy="290.37" r="1.9" fill="#808080" stroke="none" stroke-width="1"/>
<circle cx="137.69" cy="296.56" r="1.9" fill="#808080" stroke="none" stroke-width="1"/>
<circle cx="159.12" cy="308.16" r="1.9" fill="#808080" stroke="none" stroke-width="1"/>
<circle cx="180.54" cy="307.25" r="1.9" fill="#808080" stroke="none" stroke-width="1"/>
<circle cx="201.96" cy="319.26" r="1.9" fill="#808080" stroke="none" stroke-width="1"/>
<circle cx="223.38" cy="324.69" r="1.9" fill="#808080" stroke="none" stroke-width="1"/>
<circle cx="244.81" cy="332.18" r="1.9" fill="#808080" stroke="none" stroke-width="1"/>
<circle cx="266.23" cy="334.92" r="1.9" fill="#808080" stroke="none" stroke-width="1"/>
<circle cx="287.65" cy="337.06" r="1.9" fill="#808080" stroke="none" stroke-width="1"/>
<circle cx="309.08" cy="338.4" r="1.9" fill="#808080" stroke="none" stroke-width="1"/>
<circle cx="330.5" cy="341.94" r="1.9" fill="#808080" stroke="none" stroke-width="1"/>
<circle cx="52" cy="284.13" r="1.9" fill="#808080" stroke="none" stroke-width="1"/>
<circle cx="73.42" cy="284.52" r="1.9" fill="#808080" stroke="none" stroke-width="1"/>
<circle cx="94.85" cy="287.61" r="1.9" fill="#808080" stroke="none" stroke-width="1"/>
<circle cx="116.27" cy="290.64" r="1.9" fill="#808080" stroke="none" stroke-width="1"/>
<circle cx="137.69" cy="293.86" r="1.9" fill="#808080" stroke="none" stroke-width="1"/>
<circle cx="159.12" cy="309.91" r="1.9" fill="#808080" stroke="none" stroke-width="1"/>
<circle cx="180.54" cy="309.64" r="1.9" fill="#808080" stroke="none" stroke-width="1"/>
<circle cx="201.96" cy="321.15" r="1.9" fill="#808080" stroke="none" stroke-width="1"/>
<circle cx="223.38" cy="328.82" r="1.9" fill="#808080" stroke="none" stroke-width="1"/>
<circle cx="244.81" cy="334.49" r="1.9" fill="#808080" stroke="none" stroke-width="1"/>
<circle cx="266.23" cy="335.88" r="1.9" fill="#808080" stroke="none" stroke-width="1"/>
<circle cx="287.65" cy="338.46" r="1.9" fill="#808080" stroke="none" stroke-width="1"/>
<circle cx="309.08" cy="339.79" r="1.9" fill="#808080" stroke="none" stroke-width="1"/>
<circle cx="330.5" cy="342.81" r="1.9" fill="#808080" stroke="none" stroke-width="1"/>
<circle cx="52" cy="287.05" r="1.9" fill="#808080" stroke="none" stroke-width="1"/>
<circle cx="73.42" cy="284.93" r="1.9" fill="#808080" stroke="none" stroke-width="1"/>
<circle cx="94.85" cy="287.5" r="1.9" fill="#808080" stroke="none" stroke-width="1"/>
<circle cx="116.27" cy="288.76" r="1.9" fill="#808080" stroke="none" stroke-width="1"/>
<circle cx="137.69" cy="295.5" r="1.9" fill="#808080" stroke="none" stroke-width="1"/>
<circle cx="159.12" cy="311.01" r="1.9" fill="#808080" stroke="none" stroke-width="1"/>
<circle cx="180.54" cy="311.18" r="1.9" fill="#808080" stroke="none" stroke-width="1"/>
<circle cx="201.96" cy="319.09" r="1.9" fill="#808080" stroke="none" stroke-width="1"/>
<circle cx="223.38" cy="326.17" r="1.9" fill="#808080" stroke="none" stroke-width="1"/>
<circle cx="244.81" cy="333.47" r="1.9" fill="#808080" stroke="none" stroke-width="1"/>
<circle cx="266.23" cy="336.78" r="1.9" fill="#808080" stroke="none" stroke-width="1"/>
<circle cx="287.65" cy="339.42" r="1.9" fill="#808080" stroke="none" stroke-width="1"/>
<circle cx="309.08" cy="342.04" r="1.9" fill="#808080" stroke="none" stroke-width="1"/>
<circle cx="330.5" cy="342.78" r="1.9" fill="#808080" stroke="none" stroke-width="1"/>
<circle cx="52" cy="286.31" r="1.9" fill="#808080" stroke="none" stroke-width="1"/>
<circle cx="73.42" cy="287.98" r="1.9" fill="#808080" stroke="none" stroke-width="1"/>
<circle cx="94.85" cy="289.97" r="1.9" fill="#808080" stroke="none" stroke-width="1"/>
<circle cx="116.27" cy="288.79" r="1.9" fill="#808080" stroke="none" stroke-width="1"/>
<circle cx="137.69" cy="299.64" r="1.9" fill="#808080" stroke="none" stroke-width="1"/>
<circle cx="159.12" cy="313.41" r="1.9" fill="#808080" stroke="none" stroke-width="1"/>
<circle cx="180.54" cy="314.4" r="1.9" fill="#808080" stroke="none" stroke-width="1"/>
<circle cx="201.96" cy="322.49" r="1.9" fill="#808080" stroke="none" stroke-width="1"/>
<circle cx="223.38" cy="328.59" r="1.9" fill="#808080" stroke="none" stroke-width="1"/>
<circle cx="244.81" cy="334.12" r="1.9" fill="#808080" stroke="none" stroke-width="1"/>
<circle cx="266.23" cy="336.52" r="1.9" fill="#808080" stroke="none" stroke-width="1"/>
<circle cx="287.65" cy="340.15" r="1.9" fill="#808080" stroke="none" stroke-width="1"/>
<circle cx="309.08" cy="340.01" r="1.9" fill="#808080" stroke="none" stroke-width="1"/>
<circle cx="330.5" cy="341.52" r="1.9" fill="#808080" stroke="none" stroke-width="1"/>
<circle cx="52" cy="285.96" r="1.9" fill="#808080" stroke="none" stroke-width="1"/>
<circle cx="73.42" cy="286.72" r="1.9" fill="#808080" stroke="none" stroke-width="1"/>
<circle cx="94.85" cy="289.42" r="1.9" fill="#808080" stroke="none" stroke-width="1"/>
<circle cx="116.27" cy="289.55" r="1.9" fill="#808080" stroke="none" stroke-width="1"/>
<circle cx="137.69" cy="296.17" r="1.9" fill="#808080" stroke="none" stroke-width="1"/>
<circle cx="159.12" cy="311.19" r="1.9" fill="#808080" stroke="none" stroke-width="1"/>
<circle cx="180.54" cy="310.37" r="1.9" fill="#808080" stroke="none" stroke-width="1"/>
<circle cx="201.96" cy="321.32" r="1.9" fill="#808080" stroke="none" stroke-width="1"/>
<circle cx="223.38" cy="327.82" r="1.9" fill="#808080" stroke="none" stroke-width="1"/>
<circle cx="244.81" cy="336.71" r="1.9" fill="#808080" stroke="none" stroke-width="1"/>
<circle cx="266.23" cy="338.77" r="1.9" fill="#808080" stroke="none" stroke-width="1"/>
<circle cx="287.65" cy="339.29" r="1.9" fill="#808080" stroke="none" stroke-width="1"/>
<circle cx="309.08" cy="341.09" r="1.9" fill="#808080" stroke="none" stroke-width="1"/>
<circle cx="330.5" cy="342.86" r="1.9" fill="#808080" stroke="none" stroke-width="1"/>
<circle cx="52" cy="286.94" r="1.9" fill="#808080" stroke="none" stroke-width="1"/>
<circle cx="73.42" cy="287.4" r="1.9" fill="#808080" stroke="none" stroke-width="1"/>
<circle cx="94.85" cy="291.92" r="1.9" fill="#808080" stroke="none" stroke-width="1"/>
<circle cx="116.27" cy="294.21" r="1.9" fill="#808080" stroke="none" stroke-width="1"/>
<circle cx="137.69" cy="299.33" r="1.9" fill="#808080" stroke="none" stroke-width="1"/>
<circle cx="159.12" cy="313.79" r="1.9" fill="#808080" stroke="none" stroke-width="1"/>
<circle cx="180.54" cy="311.53" r="1.9" fill="#808080" stroke="none" stroke-width="1"/>
<circle cx="201.96" cy="320.96" r="1.9" fill="#808080" stroke="none" stroke-width="1"/>
<circle cx="223.38" cy="329.94" r="1.9" fill="#808080" stroke="none" stroke-width="1"/>
<circle cx="244.81" cy="335.04" r="1.9" fill="#808080" stroke="none" stroke-width="1"/>
<circle cx="266.23" cy="340.07" r="1.9" fill="#808080" stroke="none" stroke-width="1"/>
<circle cx="287.65" cy="339.86" r="1.9" fill="#808080" stroke="none" stroke-width="1"/>
<circle cx="309.08" cy="340.96" r="1.9" fill="#808080" stroke="none" stroke-width="1"/>
<circle cx="330.5" cy="345.13" r="1.9" fill="#808080" stroke="none" stroke-width="1"/>
<circle cx="52" cy="287.95" r="1.9" fill="#808080" stroke="none" stroke-width="1"/>
<circle cx="73.42" cy="288.38" r="1.9" fill="#808080" stroke="none" stroke-width="1"/>
<circle cx="94.85" cy="291.49" r="1.9" fill="#808080" stroke="none" stroke-width="1"/>
<circle cx="116.27" cy="290.98" r="1.9" fill="#808080" stroke="none" stroke-width="1"/>
<circle cx="137.69" cy="300.54" r="1.9" fill="#808080" stroke="none" stroke-width="1"/>
<circle cx="159.12" cy="317.19" r="1.9" fill="#808080" stroke="none" stroke-width="1"/>
<circle cx="180.54" cy="318.12" r="1.9" fill="#808080" stroke="none" stroke-width="1"/>
<circle cx="201.96" cy="324.63" r="1.9" fill="#808080" stroke="none" stroke-width="1"/>
<circle cx="223.38" cy="330.37" r="1.9" fill="#808080" stroke="none" stroke-width="1"/>
<circle cx="244.81" cy="336.17" r="1.9" fill="#808080" stroke="none" stroke-width="1"/>
<circle cx="266.23" cy="338.52" r="1.9" fill="#808080" stroke="none" stroke-width="1"/>
<circle cx="287.65" cy="342.15" r="1.9" fill="#808080" stroke="none" stroke-width="1"/>
<circle cx="309.08" cy="342.96" r="1.9" fill="#808080" stroke="none" stroke-width="1"/>
<circle cx="330.5" cy="345.17" r="1.9" fill="#808080" stroke="none" stroke-width="1"/>
<circle cx="52" cy="287.91" r="1.9" fill="#808080" stroke="none" stroke-width="1"/>
<circle cx="73.42" cy="289.6" r="1.9" fill="#808080" stroke="none" stroke-width="1"/>
<circle cx="94.85" cy="293.12" r="1.9" fill="#808080" stroke="none" stroke-width="1"/>
<circle cx="116.27" cy="295.71" r="1.9" fill="#808080" stroke="none" stroke-width="1"/>
<circle cx="137.69" cy="303.01" r="1.9" fill="#808080" stroke="none" stroke-width="1"/>
<circle cx="159.12" cy="317.25" r="1.9" fill="#808080" stroke="none" stroke-width="1"/>
<circle cx="180.54" cy="319.08" r="1.9" fill="#808080" stroke="none" stroke-width="1"/>
<circle cx="201.96" cy="325.71" r="1.9" fill="#808080" stroke="none" stroke-width="1"/>
<circle cx="223.38" cy="331.01" r="1.9" fill="#808080" stroke="none" stroke-width="1"/>
<circle cx="244.81" cy="337.49" r="1.9" fill="#808080" stroke="none" stroke-width="1"/>
<circle cx="266.23" cy="339.73" r="1.9" fill="#808080" stroke="none" stroke-width="1"/>
<circle cx="287.65" cy="340.54" r="1.9" fill="#808080" stroke="none" stroke-width="1"/>
<circle cx="309.08" cy="342.04" r="1.9" fill="#808080" stroke="none" stroke-width="1"/>
<circle cx="330.5" cy="344.26" r="1.9" fill="#808080" stroke="none" stroke-width="1"/>
<circle cx="52" cy="288.24" r="1.9" fill="#808080" stroke="none" stroke-width="1"/>
<circle cx="73.42" cy="292.67" r="1.9" fill="#808080" stroke="none" stroke-width="1"/>
<circle cx="94.85" cy="294" r="1.9" fill="#808080" stroke="none" stroke-width="1"/>
<circle cx="116.27" cy="294.25" r="1.9" fill="#808080" stroke="none" stroke-width="1"/>
<circle cx="137.69" cy="304" r="1.9" fill="#808080" stroke="none" stroke-width="1"/>
<circle cx="159.12" cy="318.5" r="1.9" fill="#808080" stroke="none" stroke-width="1"/>
<circle cx="180.54" cy="320.7" r="1.9" fill="#808080" stroke="none" stroke-width="1"/>
<circle cx="201.96" cy="324.81" r="1.9" fill="#808080" stroke="none" stroke-width="1"/>
<circle cx="223.38" cy="331.76" r="1.9" fill="#808080" stroke="none" stroke-width="1"/>
<circle cx="244.81" cy="337.07" r="1.9" fill="#808080" stroke="none" stroke-width="1"/>
<circle cx="266.23" cy="339.82" r="1.9" fill="#808080" stroke="none" stroke-width="1"/>
<circle cx="287.65" cy="341.58" r="1.9" fill="#808080" stroke="none" stroke-width="1"/>
<circle cx="309.08" cy="344.29" r="1.9" fill="#808080" stroke="none" stroke-width="1"/>
<circle cx="330.5" cy="346.5" r="1.9" fill="#808080" stroke="none" stroke-width="1"/>
<circle cx="52" cy="290" r="1.9" fill="#808080" stroke="none" stroke-width="1"/>
<circle cx="73.42" cy="292.54" r="1.9" fill="#808080" stroke="none" stroke-width="1"/>
<circle cx="94.85" cy="293.88" r="1.9" fill="#808080" stroke="none" stroke-width="1"/>
<circle cx="116.27" cy="296" r="1.9" fill="#808080" stroke="none" stroke-width="1"/>
<circle cx="137.69" cy="301.08" r="1.9" fill="#808080" stroke="none" stroke-width="1"/>
<circle cx="159.12" cy="318.38" r="1.9" fill="#808080" stroke="none" stroke-width="1"/>
<circle cx="180.54" cy="320.7" r="1.9" fill="#808080" stroke="none" stroke-width="1"/>
<circle cx="201.96" cy="327.2" r="1.9" fill="#808080" stroke="none" stroke-width="1"/>
<circle cx="223.38" cy="334.5" r="1.9" fill="#808080" stroke="none" stroke-width="1"/>
<circle cx="244.81" cy="338.79" r="1.9" fill="#808080" stroke="none" stroke-width="1"/>
<circle cx="266.23" cy="340.36" r="1.9" fill="#808080" stroke="none" stroke-width="1"/>
<circle cx="287.65" cy="343.5" r="1.9" fill="#808080" stroke="none" stroke-width="1"/>
<circle cx="309.08" cy="343.98" r="1.9" fill="#808080" stroke="none" stroke-width="1"/>
<circle cx="330.5" cy="346.5" r="1.9" fill="#808080" stroke="none" stroke-width="1"/>
<circle cx="52" cy="290" r="1.9" fill="#808080" stroke="none" stroke-width="1"/>
<circle cx="73.42" cy="293.01" r="1.9" fill="#808080" stroke="none" stroke-width="1"/>
<circle cx="94.85" cy="293.64" r="1.9" fill="#808080" stroke="none" stroke-width="1"/>
<circle cx="116.27" cy="296" r="1.9" fill="#808080" stroke="none" stroke-width="1"/>
<circle cx="137.69" cy="304" r="1.9" fill="#808080" stroke="none" stroke-width="1"/>
<circle cx="159.12" cy="316.85" r="1.9" fill="#808080" stroke="none" stroke-width="1"/>
<circle cx="180.54" cy="318.15" r="1.9" fill="#808080" stroke="none" stroke-width="1"/>
<circle cx="201.96" cy="325.55" r="1.9" fill="#808080" stroke="none" stroke-width="1"/>
<circle cx="223.38" cy="334.5" r="1.9" fill="#808080" stroke="none" stroke-width="1"/>
<circle cx="244.81" cy="339.6" r="1.9" fill="#808080" stroke="none" stroke-width="1"/>
<circle cx="266.23" cy="340.85" r="1.9" fill="#808080" stroke="none" stroke-width="1"/>
<circle cx="287.65" cy="343.5" r="1.9" fill="#808080" stroke="none" stroke-width="1"/>
<circle cx="309.08" cy="345" r="1.9" fill="#808080" stroke="none" stroke-width="1"/>
<circle cx="330.5" cy="346.5" r="1.9" fill="#808080" stroke="none" stroke-width="1"/>
<line x1="52" y1="381.2" x2="55" y2="381.2" stroke="#231815" stroke-width="1.1"/>
<text x="44.8" y="384.1" font-size="8.2" text-anchor="end" fill="#231815" stroke="#231815" stroke-width="0.25">1</text>
<line x1="52" y1="345.4" x2="55" y2="345.4" stroke="#231815" stroke-width="1.1"/>
<text x="44.8" y="348.3" font-size="8.2" text-anchor="end" fill="#231815" stroke="#231815" stroke-width="0.25">10</text>
<line x1="52" y1="309.6" x2="55" y2="309.6" stroke="#231815" stroke-width="1.1"/>
<text x="44.8" y="312.5" font-size="8.2" text-anchor="end" fill="#231815" stroke="#231815" stroke-width="0.25">100</text>
<line x1="52" y1="273.8" x2="55" y2="273.8" stroke="#231815" stroke-width="1.1"/>
<text x="44.8" y="276.7" font-size="8.2" text-anchor="end" fill="#231815" stroke="#231815" stroke-width="0.25">1000</text>
<text x="44.8" y="419.9" font-size="8.2" text-anchor="end" fill="#231815" stroke="#231815" stroke-width="0.25">0.1</text>
<text x="44.8" y="240.9" font-size="8.2" text-anchor="end" fill="#231815" stroke="#231815" stroke-width="0.25">10000</text>
<line x1="73.42" y1="417" x2="73.42" y2="414" stroke="#231815" stroke-width="1.1"/>
<line x1="94.85" y1="417" x2="94.85" y2="414" stroke="#231815" stroke-width="1.1"/>
<line x1="116.27" y1="417" x2="116.27" y2="414" stroke="#231815" stroke-width="1.1"/>
<line x1="137.69" y1="417" x2="137.69" y2="414" stroke="#231815" stroke-width="1.1"/>
<line x1="159.12" y1="417" x2="159.12" y2="414" stroke="#231815" stroke-width="1.1"/>
<line x1="180.54" y1="417" x2="180.54" y2="414" stroke="#231815" stroke-width="1.1"/>
<line x1="201.96" y1="417" x2="201.96" y2="414" stroke="#231815" stroke-width="1.1"/>
<line x1="223.38" y1="417" x2="223.38" y2="414" stroke="#231815" stroke-width="1.1"/>
<line x1="244.81" y1="417" x2="244.81" y2="414" stroke="#231815" stroke-width="1.1"/>
<line x1="266.23" y1="417" x2="266.23" y2="414" stroke="#231815" stroke-width="1.1"/>
<line x1="287.65" y1="417" x2="287.65" y2="414" stroke="#231815" stroke-width="1.1"/>
<line x1="309.08" y1="417" x2="309.08" y2="414" stroke="#231815" stroke-width="1.1"/>
<text x="52" y="429.4" font-size="8.3" text-anchor="middle" fill="#231815" stroke="#231815" stroke-width="0.25">La</text>
<text x="73.42" y="429.4" font-size="8.3" text-anchor="middle" fill="#231815" stroke="#231815" stroke-width="0.25">Ce</text>
<text x="94.85" y="429.4" font-size="8.3" text-anchor="middle" fill="#231815" stroke="#231815" stroke-width="0.25">Pr</text>
<text x="116.27" y="429.4" font-size="8.3" text-anchor="middle" fill="#231815" stroke="#231815" stroke-width="0.25">Nd</text>
<text x="137.69" y="429.4" font-size="8.3" text-anchor="middle" fill="#231815" stroke="#231815" stroke-width="0.25">Sm</text>
<text x="159.12" y="429.4" font-size="8.3" text-anchor="middle" fill="#231815" stroke="#231815" stroke-width="0.25">Eu</text>
<text x="180.54" y="429.4" font-size="8.3" text-anchor="middle" fill="#231815" stroke="#231815" stroke-width="0.25">Gd</text>
<text x="201.96" y="429.4" font-size="8.3" text-anchor="middle" fill="#231815" stroke="#231815" stroke-width="0.25">Tb</text>
<text x="223.38" y="429.4" font-size="8.3" text-anchor="middle" fill="#231815" stroke="#231815" stroke-width="0.25">Dy</text>
<text x="244.81" y="429.4" font-size="8.3" text-anchor="middle" fill="#231815" stroke="#231815" stroke-width="0.25">Ho</text>
<text x="266.23" y="429.4" font-size="8.3" text-anchor="middle" fill="#231815" stroke="#231815" stroke-width="0.25">Er</text>
<text x="287.65" y="429.4" font-size="8.3" text-anchor="middle" fill="#231815" stroke="#231815" stroke-width="0.25">Tm</text>
<text x="309.08" y="429.4" font-size="8.3" text-anchor="middle" fill="#231815" stroke="#231815" stroke-width="0.25">Yb</text>
<text x="330.5" y="429.4" font-size="8.3" text-anchor="middle" fill="#231815" stroke="#231815" stroke-width="0.25">Lu</text>
<text x="19.4" y="332.1" font-size="12.45" text-anchor="middle" fill="#231815" stroke="#231815" stroke-width="0.12" transform="rotate(-90 19.4 332.1)">Samples/Chondrite</text>
<text x="68.9" y="258.6" font-size="9.5" text-anchor="start" font-weight="bold" fill="#231815">Ultrapotassic</text>
<text x="68.9" y="267.7" font-size="9.5" text-anchor="start" font-weight="bold" fill="#231815">host rock</text>
<line x1="80.6" y1="270.5" x2="80.6" y2="277.8" stroke="#231815" stroke-width="1.1"/>
<path d="M80.6 282.6 L78.2 277 L80.6 278.6 L83 277 Z" fill="#231815"/>
<rect x="62.3" y="388.6" width="71.2" height="19.2" fill="#fff" stroke="#231815" stroke-width="1.2"/>
<text x="97.9" y="402.2" font-size="12.3" text-anchor="middle" fill="#231815" stroke="#231815" stroke-width="0.12">Whole rock</text>
<rect x="308.1" y="237.9" width="23" height="22.9" fill="#231815"/>
<text x="319.6" y="256.7" font-size="22" text-anchor="middle" font-weight="bold" fill="#fff">C</text>
<path d="M395.3 238.1 H674.6 V416.7" fill="none" stroke="#231815" stroke-width="1.2"/>
<path d="M395.3 238.1 V416.7 H674.6" fill="none" stroke="#231815" stroke-width="1.35"/>
<polyline points="395.3,299.9 405.63,302.8 415.97,296.4 426.3,303.9 436.63,352.4 446.97,353.6 457.3,331.4 467.63,336.3 477.97,334.2 488.3,316.6 498.63,336.3 508.97,353.9 519.3,358.2 529.63,337.9 539.97,350.3 550.3,350.3 560.63,344.7 570.97,365 581.3,374.1 591.63,362.8 601.97,370.7 612.3,380.9 622.63,380.9 632.97,382 643.3,383.1 653.63,387.7 663.97,387.7 674.3,388.8" fill="none" stroke="#48B955" stroke-width="1.2" stroke-linejoin="round"/>
<polyline points="395.3,311.5 405.63,318.5 415.97,304.5 426.3,315 436.63,360.6 446.97,364.1 457.3,347.2 467.63,352.8 477.97,352.8 488.3,321 498.63,351.7 508.97,371.4 519.3,364.8 529.63,351.5 539.97,362.8 550.3,362.8 560.63,359.4 570.97,374.1 581.3,378.6 591.63,367.3 601.97,375.2 612.3,387.7 622.63,388.8 632.97,389.9 643.3,391.1 653.63,394.5 663.97,392.2 674.3,393.3" fill="none" stroke="#48B955" stroke-width="1.2" stroke-linejoin="round"/>
<polyline points="395.3,306.3 405.63,327.3 415.97,310.4 426.3,317.4 436.63,361.8 446.97,366.4 457.3,347.7 467.63,348 477.97,346 488.3,318 498.63,345 508.97,365 519.3,362 529.63,345 539.97,357 550.3,357 560.63,352 570.97,370 581.3,376 591.63,365 601.97,373 612.3,384 622.63,385 632.97,386 643.3,387 653.63,391 663.97,390 674.3,391" fill="none" stroke="#48B955" stroke-width="1.2" stroke-linejoin="round"/>
<polyline points="395.3,310.4 405.63,316.2 415.97,306.9 426.3,316.2 436.63,364.1 446.97,367 457.3,345.4 467.63,344 477.97,342 488.3,316 498.63,342 508.97,362 519.3,360 529.63,342 539.97,354 550.3,354 560.63,348 570.97,368 581.3,375 591.63,364 601.97,372 612.3,383 622.63,383 632.97,384 643.3,385 653.63,389 663.97,389 674.3,390" fill="none" stroke="#48B955" stroke-width="1.2" stroke-linejoin="round"/>
<polyline points="395.3,304.5 405.63,321.5 415.97,293.4 426.3,297.5 436.63,341.3 446.97,337.8 457.3,318.5 467.63,317.7 477.97,318.4 488.3,295.3 498.63,321.5 508.97,336.1 519.3,339 529.63,324.5 539.97,334.7 550.3,332.5 560.63,331.8 570.97,344.7 581.3,360.5 591.63,343.5 601.97,349.2 612.3,354.9 622.63,355.5 632.97,354.9 643.3,355.5 653.63,357.1 663.97,357.1 674.3,356.4" fill="none" stroke="#DB7839" stroke-width="1.2" stroke-linejoin="round"/>
<polyline points="395.3,289.9 405.63,313.9 415.97,347.7 426.3,355.3 436.63,366.4 446.97,360.6 457.3,313.9 467.63,325.4 477.97,325.4 488.3,308.4 498.63,325.9 508.97,344.9 519.3,353.6 529.63,328.8 539.97,340 550.3,340 560.63,337 570.97,348 581.3,361 591.63,345 601.97,351 612.3,356.5 622.63,358 632.97,357.5 643.3,358.5 653.63,359.5 663.97,360 674.3,359" fill="none" stroke="#DB7839" stroke-width="1.2" stroke-linejoin="round"/>
<polyline points="395.3,319.7 405.63,339.6 415.97,318.5 426.3,323.2 436.63,368.8 446.97,350 457.3,334.9 467.63,342.9 477.97,341.8 488.3,312.3 498.63,342.9 508.97,358.2 519.3,370 529.63,340.2 539.97,349.2 550.3,348.1 560.63,344.7 570.97,353.7 581.3,365 591.63,354.9 601.97,362.8 612.3,369.6 622.63,368.4 632.97,369.6 643.3,371.8 653.63,373 663.97,373.6 674.3,374.5" fill="none" stroke="#DB7839" stroke-width="1.2" stroke-linejoin="round"/>
<polyline points="395.3,327.3 405.63,351.2 415.97,319.7 426.3,325.5 436.63,368.8 446.97,360.6 457.3,338.4 467.63,330 477.97,330 488.3,305 498.63,335 508.97,350 519.3,362 529.63,335 539.97,345 550.3,344 560.63,340 570.97,350 581.3,363 591.63,354 601.97,361 612.3,365.5 622.63,369.5 632.97,367.5 643.3,369 653.63,371 663.97,371 674.3,373.5" fill="none" stroke="#DB7839" stroke-width="1.2" stroke-linejoin="round"/>
<polyline points="395.3,295.8 405.63,320.9 415.97,318.5 426.3,324.4 436.63,355.9 446.97,350 457.3,329 467.63,336 477.97,336 488.3,312 498.63,340 508.97,352 519.3,381.2 529.63,346.9 539.97,358.3 550.3,356 560.63,351.5 570.97,358.3 581.3,367.3 591.63,356 601.97,365 612.3,375.2 622.63,374.5 632.97,376.4 643.3,378.2 653.63,382 663.97,384.3 674.3,385.9" fill="none" stroke="#DB7839" stroke-width="1.2" stroke-linejoin="round"/>
<polyline points="395.3,306 405.63,330 415.97,322 426.3,326 436.63,362 446.97,355 457.3,325 467.63,338 477.97,338 488.3,315 498.63,342 508.97,355 519.3,388.9 529.63,342 539.97,352 550.3,351 560.63,348 570.97,352 581.3,366 591.63,356.5 601.97,365.5 612.3,370.5 622.63,375 632.97,374 643.3,377 653.63,381 663.97,383 674.3,384.5" fill="none" stroke="#DB7839" stroke-width="1.2" stroke-linejoin="round"/>
<circle cx="395.3" cy="299.9" r="2.35" fill="#48B955" stroke="none" stroke-width="1"/>
<circle cx="405.63" cy="302.8" r="2.35" fill="#48B955" stroke="none" stroke-width="1"/>
<circle cx="415.97" cy="296.4" r="2.35" fill="#48B955" stroke="none" stroke-width="1"/>
<circle cx="426.3" cy="303.9" r="2.35" fill="#48B955" stroke="none" stroke-width="1"/>
<circle cx="436.63" cy="352.4" r="2.35" fill="#48B955" stroke="none" stroke-width="1"/>
<circle cx="446.97" cy="353.6" r="2.35" fill="#48B955" stroke="none" stroke-width="1"/>
<circle cx="457.3" cy="331.4" r="2.35" fill="#48B955" stroke="none" stroke-width="1"/>
<circle cx="467.63" cy="336.3" r="2.35" fill="#48B955" stroke="none" stroke-width="1"/>
<circle cx="477.97" cy="334.2" r="2.35" fill="#48B955" stroke="none" stroke-width="1"/>
<circle cx="488.3" cy="316.6" r="2.35" fill="#48B955" stroke="none" stroke-width="1"/>
<circle cx="498.63" cy="336.3" r="2.35" fill="#48B955" stroke="none" stroke-width="1"/>
<circle cx="508.97" cy="353.9" r="2.35" fill="#48B955" stroke="none" stroke-width="1"/>
<circle cx="519.3" cy="358.2" r="2.35" fill="#48B955" stroke="none" stroke-width="1"/>
<circle cx="529.63" cy="337.9" r="2.35" fill="#48B955" stroke="none" stroke-width="1"/>
<circle cx="539.97" cy="350.3" r="2.35" fill="#48B955" stroke="none" stroke-width="1"/>
<circle cx="550.3" cy="350.3" r="2.35" fill="#48B955" stroke="none" stroke-width="1"/>
<circle cx="560.63" cy="344.7" r="2.35" fill="#48B955" stroke="none" stroke-width="1"/>
<circle cx="570.97" cy="365" r="2.35" fill="#48B955" stroke="none" stroke-width="1"/>
<circle cx="581.3" cy="374.1" r="2.35" fill="#48B955" stroke="none" stroke-width="1"/>
<circle cx="591.63" cy="362.8" r="2.35" fill="#48B955" stroke="none" stroke-width="1"/>
<circle cx="601.97" cy="370.7" r="2.35" fill="#48B955" stroke="none" stroke-width="1"/>
<circle cx="612.3" cy="380.9" r="2.35" fill="#48B955" stroke="none" stroke-width="1"/>
<circle cx="622.63" cy="380.9" r="2.35" fill="#48B955" stroke="none" stroke-width="1"/>
<circle cx="632.97" cy="382" r="2.35" fill="#48B955" stroke="none" stroke-width="1"/>
<circle cx="643.3" cy="383.1" r="2.35" fill="#48B955" stroke="none" stroke-width="1"/>
<circle cx="653.63" cy="387.7" r="2.35" fill="#48B955" stroke="none" stroke-width="1"/>
<circle cx="663.97" cy="387.7" r="2.35" fill="#48B955" stroke="none" stroke-width="1"/>
<circle cx="674.3" cy="388.8" r="2.35" fill="#48B955" stroke="none" stroke-width="1"/>
<circle cx="395.3" cy="311.5" r="2.35" fill="#48B955" stroke="none" stroke-width="1"/>
<circle cx="405.63" cy="318.5" r="2.35" fill="#48B955" stroke="none" stroke-width="1"/>
<circle cx="415.97" cy="304.5" r="2.35" fill="#48B955" stroke="none" stroke-width="1"/>
<circle cx="426.3" cy="315" r="2.35" fill="#48B955" stroke="none" stroke-width="1"/>
<circle cx="436.63" cy="360.6" r="2.35" fill="#48B955" stroke="none" stroke-width="1"/>
<circle cx="446.97" cy="364.1" r="2.35" fill="#48B955" stroke="none" stroke-width="1"/>
<circle cx="457.3" cy="347.2" r="2.35" fill="#48B955" stroke="none" stroke-width="1"/>
<circle cx="467.63" cy="352.8" r="2.35" fill="#48B955" stroke="none" stroke-width="1"/>
<circle cx="477.97" cy="352.8" r="2.35" fill="#48B955" stroke="none" stroke-width="1"/>
<circle cx="488.3" cy="321" r="2.35" fill="#48B955" stroke="none" stroke-width="1"/>
<circle cx="498.63" cy="351.7" r="2.35" fill="#48B955" stroke="none" stroke-width="1"/>
<circle cx="508.97" cy="371.4" r="2.35" fill="#48B955" stroke="none" stroke-width="1"/>
<circle cx="519.3" cy="364.8" r="2.35" fill="#48B955" stroke="none" stroke-width="1"/>
<circle cx="529.63" cy="351.5" r="2.35" fill="#48B955" stroke="none" stroke-width="1"/>
<circle cx="539.97" cy="362.8" r="2.35" fill="#48B955" stroke="none" stroke-width="1"/>
<circle cx="550.3" cy="362.8" r="2.35" fill="#48B955" stroke="none" stroke-width="1"/>
<circle cx="560.63" cy="359.4" r="2.35" fill="#48B955" stroke="none" stroke-width="1"/>
<circle cx="570.97" cy="374.1" r="2.35" fill="#48B955" stroke="none" stroke-width="1"/>
<circle cx="581.3" cy="378.6" r="2.35" fill="#48B955" stroke="none" stroke-width="1"/>
<circle cx="591.63" cy="367.3" r="2.35" fill="#48B955" stroke="none" stroke-width="1"/>
<circle cx="601.97" cy="375.2" r="2.35" fill="#48B955" stroke="none" stroke-width="1"/>
<circle cx="612.3" cy="387.7" r="2.35" fill="#48B955" stroke="none" stroke-width="1"/>
<circle cx="622.63" cy="388.8" r="2.35" fill="#48B955" stroke="none" stroke-width="1"/>
<circle cx="632.97" cy="389.9" r="2.35" fill="#48B955" stroke="none" stroke-width="1"/>
<circle cx="643.3" cy="391.1" r="2.35" fill="#48B955" stroke="none" stroke-width="1"/>
<circle cx="653.63" cy="394.5" r="2.35" fill="#48B955" stroke="none" stroke-width="1"/>
<circle cx="663.97" cy="392.2" r="2.35" fill="#48B955" stroke="none" stroke-width="1"/>
<circle cx="674.3" cy="393.3" r="2.35" fill="#48B955" stroke="none" stroke-width="1"/>
<circle cx="395.3" cy="306.3" r="2.35" fill="#48B955" stroke="none" stroke-width="1"/>
<circle cx="405.63" cy="327.3" r="2.35" fill="#48B955" stroke="none" stroke-width="1"/>
<circle cx="415.97" cy="310.4" r="2.35" fill="#48B955" stroke="none" stroke-width="1"/>
<circle cx="426.3" cy="317.4" r="2.35" fill="#48B955" stroke="none" stroke-width="1"/>
<circle cx="436.63" cy="361.8" r="2.35" fill="#48B955" stroke="none" stroke-width="1"/>
<circle cx="446.97" cy="366.4" r="2.35" fill="#48B955" stroke="none" stroke-width="1"/>
<circle cx="457.3" cy="347.7" r="2.35" fill="#48B955" stroke="none" stroke-width="1"/>
<circle cx="467.63" cy="348" r="2.35" fill="#48B955" stroke="none" stroke-width="1"/>
<circle cx="477.97" cy="346" r="2.35" fill="#48B955" stroke="none" stroke-width="1"/>
<circle cx="488.3" cy="318" r="2.35" fill="#48B955" stroke="none" stroke-width="1"/>
<circle cx="498.63" cy="345" r="2.35" fill="#48B955" stroke="none" stroke-width="1"/>
<circle cx="508.97" cy="365" r="2.35" fill="#48B955" stroke="none" stroke-width="1"/>
<circle cx="519.3" cy="362" r="2.35" fill="#48B955" stroke="none" stroke-width="1"/>
<circle cx="529.63" cy="345" r="2.35" fill="#48B955" stroke="none" stroke-width="1"/>
<circle cx="539.97" cy="357" r="2.35" fill="#48B955" stroke="none" stroke-width="1"/>
<circle cx="550.3" cy="357" r="2.35" fill="#48B955" stroke="none" stroke-width="1"/>
<circle cx="560.63" cy="352" r="2.35" fill="#48B955" stroke="none" stroke-width="1"/>
<circle cx="570.97" cy="370" r="2.35" fill="#48B955" stroke="none" stroke-width="1"/>
<circle cx="581.3" cy="376" r="2.35" fill="#48B955" stroke="none" stroke-width="1"/>
<circle cx="591.63" cy="365" r="2.35" fill="#48B955" stroke="none" stroke-width="1"/>
<circle cx="601.97" cy="373" r="2.35" fill="#48B955" stroke="none" stroke-width="1"/>
<circle cx="612.3" cy="384" r="2.35" fill="#48B955" stroke="none" stroke-width="1"/>
<circle cx="622.63" cy="385" r="2.35" fill="#48B955" stroke="none" stroke-width="1"/>
<circle cx="632.97" cy="386" r="2.35" fill="#48B955" stroke="none" stroke-width="1"/>
<circle cx="643.3" cy="387" r="2.35" fill="#48B955" stroke="none" stroke-width="1"/>
<circle cx="653.63" cy="391" r="2.35" fill="#48B955" stroke="none" stroke-width="1"/>
<circle cx="663.97" cy="390" r="2.35" fill="#48B955" stroke="none" stroke-width="1"/>
<circle cx="674.3" cy="391" r="2.35" fill="#48B955" stroke="none" stroke-width="1"/>
<circle cx="395.3" cy="310.4" r="2.35" fill="#48B955" stroke="none" stroke-width="1"/>
<circle cx="405.63" cy="316.2" r="2.35" fill="#48B955" stroke="none" stroke-width="1"/>
<circle cx="415.97" cy="306.9" r="2.35" fill="#48B955" stroke="none" stroke-width="1"/>
<circle cx="426.3" cy="316.2" r="2.35" fill="#48B955" stroke="none" stroke-width="1"/>
<circle cx="436.63" cy="364.1" r="2.35" fill="#48B955" stroke="none" stroke-width="1"/>
<circle cx="446.97" cy="367" r="2.35" fill="#48B955" stroke="none" stroke-width="1"/>
<circle cx="457.3" cy="345.4" r="2.35" fill="#48B955" stroke="none" stroke-width="1"/>
<circle cx="467.63" cy="344" r="2.35" fill="#48B955" stroke="none" stroke-width="1"/>
<circle cx="477.97" cy="342" r="2.35" fill="#48B955" stroke="none" stroke-width="1"/>
<circle cx="488.3" cy="316" r="2.35" fill="#48B955" stroke="none" stroke-width="1"/>
<circle cx="498.63" cy="342" r="2.35" fill="#48B955" stroke="none" stroke-width="1"/>
<circle cx="508.97" cy="362" r="2.35" fill="#48B955" stroke="none" stroke-width="1"/>
<circle cx="519.3" cy="360" r="2.35" fill="#48B955" stroke="none" stroke-width="1"/>
<circle cx="529.63" cy="342" r="2.35" fill="#48B955" stroke="none" stroke-width="1"/>
<circle cx="539.97" cy="354" r="2.35" fill="#48B955" stroke="none" stroke-width="1"/>
<circle cx="550.3" cy="354" r="2.35" fill="#48B955" stroke="none" stroke-width="1"/>
<circle cx="560.63" cy="348" r="2.35" fill="#48B955" stroke="none" stroke-width="1"/>
<circle cx="570.97" cy="368" r="2.35" fill="#48B955" stroke="none" stroke-width="1"/>
<circle cx="581.3" cy="375" r="2.35" fill="#48B955" stroke="none" stroke-width="1"/>
<circle cx="591.63" cy="364" r="2.35" fill="#48B955" stroke="none" stroke-width="1"/>
<circle cx="601.97" cy="372" r="2.35" fill="#48B955" stroke="none" stroke-width="1"/>
<circle cx="612.3" cy="383" r="2.35" fill="#48B955" stroke="none" stroke-width="1"/>
<circle cx="622.63" cy="383" r="2.35" fill="#48B955" stroke="none" stroke-width="1"/>
<circle cx="632.97" cy="384" r="2.35" fill="#48B955" stroke="none" stroke-width="1"/>
<circle cx="643.3" cy="385" r="2.35" fill="#48B955" stroke="none" stroke-width="1"/>
<circle cx="653.63" cy="389" r="2.35" fill="#48B955" stroke="none" stroke-width="1"/>
<circle cx="663.97" cy="389" r="2.35" fill="#48B955" stroke="none" stroke-width="1"/>
<circle cx="674.3" cy="390" r="2.35" fill="#48B955" stroke="none" stroke-width="1"/>
<rect x="392.9" y="302.1" width="4.8" height="4.8" fill="#DB7839"/>
<rect x="403.23" y="319.1" width="4.8" height="4.8" fill="#DB7839"/>
<rect x="413.57" y="291" width="4.8" height="4.8" fill="#DB7839"/>
<rect x="423.9" y="295.1" width="4.8" height="4.8" fill="#DB7839"/>
<rect x="434.23" y="338.9" width="4.8" height="4.8" fill="#DB7839"/>
<rect x="444.57" y="335.4" width="4.8" height="4.8" fill="#DB7839"/>
<rect x="454.9" y="316.1" width="4.8" height="4.8" fill="#DB7839"/>
<rect x="465.23" y="315.3" width="4.8" height="4.8" fill="#DB7839"/>
<rect x="475.57" y="316" width="4.8" height="4.8" fill="#DB7839"/>
<rect x="485.9" y="292.9" width="4.8" height="4.8" fill="#DB7839"/>
<rect x="496.23" y="319.1" width="4.8" height="4.8" fill="#DB7839"/>
<rect x="506.57" y="333.7" width="4.8" height="4.8" fill="#DB7839"/>
<rect x="516.9" y="336.6" width="4.8" height="4.8" fill="#DB7839"/>
<rect x="527.23" y="322.1" width="4.8" height="4.8" fill="#DB7839"/>
<rect x="537.57" y="332.3" width="4.8" height="4.8" fill="#DB7839"/>
<rect x="547.9" y="330.1" width="4.8" height="4.8" fill="#DB7839"/>
<rect x="558.23" y="329.4" width="4.8" height="4.8" fill="#DB7839"/>
<rect x="568.57" y="342.3" width="4.8" height="4.8" fill="#DB7839"/>
<rect x="578.9" y="358.1" width="4.8" height="4.8" fill="#DB7839"/>
<rect x="589.23" y="341.1" width="4.8" height="4.8" fill="#DB7839"/>
<rect x="599.57" y="346.8" width="4.8" height="4.8" fill="#DB7839"/>
<rect x="609.9" y="352.5" width="4.8" height="4.8" fill="#DB7839"/>
<rect x="620.23" y="353.1" width="4.8" height="4.8" fill="#DB7839"/>
<rect x="630.57" y="352.5" width="4.8" height="4.8" fill="#DB7839"/>
<rect x="640.9" y="353.1" width="4.8" height="4.8" fill="#DB7839"/>
<rect x="651.23" y="354.7" width="4.8" height="4.8" fill="#DB7839"/>
<rect x="661.57" y="354.7" width="4.8" height="4.8" fill="#DB7839"/>
<rect x="671.9" y="354" width="4.8" height="4.8" fill="#DB7839"/>
<circle cx="395.3" cy="289.9" r="2.4" fill="#DB7839" stroke="none" stroke-width="1"/>
<circle cx="405.63" cy="313.9" r="2.4" fill="#DB7839" stroke="none" stroke-width="1"/>
<circle cx="415.97" cy="347.7" r="2.4" fill="#DB7839" stroke="none" stroke-width="1"/>
<circle cx="426.3" cy="355.3" r="2.4" fill="#DB7839" stroke="none" stroke-width="1"/>
<circle cx="436.63" cy="366.4" r="2.4" fill="#DB7839" stroke="none" stroke-width="1"/>
<circle cx="446.97" cy="360.6" r="2.4" fill="#DB7839" stroke="none" stroke-width="1"/>
<circle cx="457.3" cy="313.9" r="2.4" fill="#DB7839" stroke="none" stroke-width="1"/>
<circle cx="467.63" cy="325.4" r="2.4" fill="#DB7839" stroke="none" stroke-width="1"/>
<circle cx="477.97" cy="325.4" r="2.4" fill="#DB7839" stroke="none" stroke-width="1"/>
<circle cx="488.3" cy="308.4" r="2.4" fill="#DB7839" stroke="none" stroke-width="1"/>
<circle cx="498.63" cy="325.9" r="2.4" fill="#DB7839" stroke="none" stroke-width="1"/>
<circle cx="508.97" cy="344.9" r="2.4" fill="#DB7839" stroke="none" stroke-width="1"/>
<circle cx="519.3" cy="353.6" r="2.4" fill="#DB7839" stroke="none" stroke-width="1"/>
<circle cx="529.63" cy="328.8" r="2.4" fill="#DB7839" stroke="none" stroke-width="1"/>
<circle cx="539.97" cy="340" r="2.4" fill="#DB7839" stroke="none" stroke-width="1"/>
<circle cx="550.3" cy="340" r="2.4" fill="#DB7839" stroke="none" stroke-width="1"/>
<circle cx="560.63" cy="337" r="2.4" fill="#DB7839" stroke="none" stroke-width="1"/>
<circle cx="570.97" cy="348" r="2.4" fill="#DB7839" stroke="none" stroke-width="1"/>
<circle cx="581.3" cy="361" r="2.4" fill="#DB7839" stroke="none" stroke-width="1"/>
<circle cx="591.63" cy="345" r="2.4" fill="#DB7839" stroke="none" stroke-width="1"/>
<circle cx="601.97" cy="351" r="2.4" fill="#DB7839" stroke="none" stroke-width="1"/>
<circle cx="612.3" cy="356.5" r="2.4" fill="#DB7839" stroke="none" stroke-width="1"/>
<circle cx="622.63" cy="358" r="2.4" fill="#DB7839" stroke="none" stroke-width="1"/>
<circle cx="632.97" cy="357.5" r="2.4" fill="#DB7839" stroke="none" stroke-width="1"/>
<circle cx="643.3" cy="358.5" r="2.4" fill="#DB7839" stroke="none" stroke-width="1"/>
<circle cx="653.63" cy="359.5" r="2.4" fill="#DB7839" stroke="none" stroke-width="1"/>
<circle cx="663.97" cy="360" r="2.4" fill="#DB7839" stroke="none" stroke-width="1"/>
<circle cx="674.3" cy="359" r="2.4" fill="#DB7839" stroke="none" stroke-width="1"/>
<rect x="392.9" y="317.3" width="4.8" height="4.8" fill="#DB7839"/>
<rect x="403.23" y="337.2" width="4.8" height="4.8" fill="#DB7839"/>
<rect x="413.57" y="316.1" width="4.8" height="4.8" fill="#DB7839"/>
<rect x="423.9" y="320.8" width="4.8" height="4.8" fill="#DB7839"/>
<rect x="434.23" y="366.4" width="4.8" height="4.8" fill="#DB7839"/>
<rect x="444.57" y="347.6" width="4.8" height="4.8" fill="#DB7839"/>
<rect x="454.9" y="332.5" width="4.8" height="4.8" fill="#DB7839"/>
<rect x="465.23" y="340.5" width="4.8" height="4.8" fill="#DB7839"/>
<rect x="475.57" y="339.4" width="4.8" height="4.8" fill="#DB7839"/>
<rect x="485.9" y="309.9" width="4.8" height="4.8" fill="#DB7839"/>
<rect x="496.23" y="340.5" width="4.8" height="4.8" fill="#DB7839"/>
<rect x="506.57" y="355.8" width="4.8" height="4.8" fill="#DB7839"/>
<rect x="516.9" y="367.6" width="4.8" height="4.8" fill="#DB7839"/>
<rect x="527.23" y="337.8" width="4.8" height="4.8" fill="#DB7839"/>
<rect x="537.57" y="346.8" width="4.8" height="4.8" fill="#DB7839"/>
<rect x="547.9" y="345.7" width="4.8" height="4.8" fill="#DB7839"/>
<rect x="558.23" y="342.3" width="4.8" height="4.8" fill="#DB7839"/>
<rect x="568.57" y="351.3" width="4.8" height="4.8" fill="#DB7839"/>
<rect x="578.9" y="362.6" width="4.8" height="4.8" fill="#DB7839"/>
<rect x="589.23" y="352.5" width="4.8" height="4.8" fill="#DB7839"/>
<rect x="599.57" y="360.4" width="4.8" height="4.8" fill="#DB7839"/>
<rect x="609.9" y="367.2" width="4.8" height="4.8" fill="#DB7839"/>
<rect x="620.23" y="366" width="4.8" height="4.8" fill="#DB7839"/>
<rect x="630.57" y="367.2" width="4.8" height="4.8" fill="#DB7839"/>
<rect x="640.9" y="369.4" width="4.8" height="4.8" fill="#DB7839"/>
<rect x="651.23" y="370.6" width="4.8" height="4.8" fill="#DB7839"/>
<rect x="661.57" y="371.2" width="4.8" height="4.8" fill="#DB7839"/>
<rect x="671.9" y="372.1" width="4.8" height="4.8" fill="#DB7839"/>
<rect x="392.9" y="324.9" width="4.8" height="4.8" fill="#DB7839"/>
<rect x="403.23" y="348.8" width="4.8" height="4.8" fill="#DB7839"/>
<rect x="413.57" y="317.3" width="4.8" height="4.8" fill="#DB7839"/>
<rect x="423.9" y="323.1" width="4.8" height="4.8" fill="#DB7839"/>
<rect x="434.23" y="366.4" width="4.8" height="4.8" fill="#DB7839"/>
<rect x="444.57" y="358.2" width="4.8" height="4.8" fill="#DB7839"/>
<rect x="454.9" y="336" width="4.8" height="4.8" fill="#DB7839"/>
<rect x="465.23" y="327.6" width="4.8" height="4.8" fill="#DB7839"/>
<rect x="475.57" y="327.6" width="4.8" height="4.8" fill="#DB7839"/>
<rect x="485.9" y="302.6" width="4.8" height="4.8" fill="#DB7839"/>
<rect x="496.23" y="332.6" width="4.8" height="4.8" fill="#DB7839"/>
<rect x="506.57" y="347.6" width="4.8" height="4.8" fill="#DB7839"/>
<rect x="516.9" y="359.6" width="4.8" height="4.8" fill="#DB7839"/>
<rect x="527.23" y="332.6" width="4.8" height="4.8" fill="#DB7839"/>
<rect x="537.57" y="342.6" width="4.8" height="4.8" fill="#DB7839"/>
<rect x="547.9" y="341.6" width="4.8" height="4.8" fill="#DB7839"/>
<rect x="558.23" y="337.6" width="4.8" height="4.8" fill="#DB7839"/>
<rect x="568.57" y="347.6" width="4.8" height="4.8" fill="#DB7839"/>
<rect x="578.9" y="360.6" width="4.8" height="4.8" fill="#DB7839"/>
<rect x="589.23" y="351.6" width="4.8" height="4.8" fill="#DB7839"/>
<rect x="599.57" y="358.6" width="4.8" height="4.8" fill="#DB7839"/>
<rect x="609.9" y="363.1" width="4.8" height="4.8" fill="#DB7839"/>
<rect x="620.23" y="367.1" width="4.8" height="4.8" fill="#DB7839"/>
<rect x="630.57" y="365.1" width="4.8" height="4.8" fill="#DB7839"/>
<rect x="640.9" y="366.6" width="4.8" height="4.8" fill="#DB7839"/>
<rect x="651.23" y="368.6" width="4.8" height="4.8" fill="#DB7839"/>
<rect x="661.57" y="368.6" width="4.8" height="4.8" fill="#DB7839"/>
<rect x="671.9" y="371.1" width="4.8" height="4.8" fill="#DB7839"/>
<circle cx="395.3" cy="295.8" r="2.4" fill="#DB7839" stroke="none" stroke-width="1"/>
<circle cx="405.63" cy="320.9" r="2.4" fill="#DB7839" stroke="none" stroke-width="1"/>
<circle cx="415.97" cy="318.5" r="2.4" fill="#DB7839" stroke="none" stroke-width="1"/>
<circle cx="426.3" cy="324.4" r="2.4" fill="#DB7839" stroke="none" stroke-width="1"/>
<circle cx="436.63" cy="355.9" r="2.4" fill="#DB7839" stroke="none" stroke-width="1"/>
<circle cx="446.97" cy="350" r="2.4" fill="#DB7839" stroke="none" stroke-width="1"/>
<circle cx="457.3" cy="329" r="2.4" fill="#DB7839" stroke="none" stroke-width="1"/>
<circle cx="467.63" cy="336" r="2.4" fill="#DB7839" stroke="none" stroke-width="1"/>
<circle cx="477.97" cy="336" r="2.4" fill="#DB7839" stroke="none" stroke-width="1"/>
<circle cx="488.3" cy="312" r="2.4" fill="#DB7839" stroke="none" stroke-width="1"/>
<circle cx="498.63" cy="340" r="2.4" fill="#DB7839" stroke="none" stroke-width="1"/>
<circle cx="508.97" cy="352" r="2.4" fill="#DB7839" stroke="none" stroke-width="1"/>
<circle cx="519.3" cy="381.2" r="2.4" fill="#DB7839" stroke="none" stroke-width="1"/>
<circle cx="529.63" cy="346.9" r="2.4" fill="#DB7839" stroke="none" stroke-width="1"/>
<circle cx="539.97" cy="358.3" r="2.4" fill="#DB7839" stroke="none" stroke-width="1"/>
<circle cx="550.3" cy="356" r="2.4" fill="#DB7839" stroke="none" stroke-width="1"/>
<circle cx="560.63" cy="351.5" r="2.4" fill="#DB7839" stroke="none" stroke-width="1"/>
<circle cx="570.97" cy="358.3" r="2.4" fill="#DB7839" stroke="none" stroke-width="1"/>
<circle cx="581.3" cy="367.3" r="2.4" fill="#DB7839" stroke="none" stroke-width="1"/>
<circle cx="591.63" cy="356" r="2.4" fill="#DB7839" stroke="none" stroke-width="1"/>
<circle cx="601.97" cy="365" r="2.4" fill="#DB7839" stroke="none" stroke-width="1"/>
<circle cx="612.3" cy="375.2" r="2.4" fill="#DB7839" stroke="none" stroke-width="1"/>
<circle cx="622.63" cy="374.5" r="2.4" fill="#DB7839" stroke="none" stroke-width="1"/>
<circle cx="632.97" cy="376.4" r="2.4" fill="#DB7839" stroke="none" stroke-width="1"/>
<circle cx="643.3" cy="378.2" r="2.4" fill="#DB7839" stroke="none" stroke-width="1"/>
<circle cx="653.63" cy="382" r="2.4" fill="#DB7839" stroke="none" stroke-width="1"/>
<circle cx="663.97" cy="384.3" r="2.4" fill="#DB7839" stroke="none" stroke-width="1"/>
<circle cx="674.3" cy="385.9" r="2.4" fill="#DB7839" stroke="none" stroke-width="1"/>
<circle cx="395.3" cy="306" r="2.4" fill="#DB7839" stroke="none" stroke-width="1"/>
<circle cx="405.63" cy="330" r="2.4" fill="#DB7839" stroke="none" stroke-width="1"/>
<circle cx="415.97" cy="322" r="2.4" fill="#DB7839" stroke="none" stroke-width="1"/>
<circle cx="426.3" cy="326" r="2.4" fill="#DB7839" stroke="none" stroke-width="1"/>
<circle cx="436.63" cy="362" r="2.4" fill="#DB7839" stroke="none" stroke-width="1"/>
<circle cx="446.97" cy="355" r="2.4" fill="#DB7839" stroke="none" stroke-width="1"/>
<circle cx="457.3" cy="325" r="2.4" fill="#DB7839" stroke="none" stroke-width="1"/>
<circle cx="467.63" cy="338" r="2.4" fill="#DB7839" stroke="none" stroke-width="1"/>
<circle cx="477.97" cy="338" r="2.4" fill="#DB7839" stroke="none" stroke-width="1"/>
<circle cx="488.3" cy="315" r="2.4" fill="#DB7839" stroke="none" stroke-width="1"/>
<circle cx="498.63" cy="342" r="2.4" fill="#DB7839" stroke="none" stroke-width="1"/>
<circle cx="508.97" cy="355" r="2.4" fill="#DB7839" stroke="none" stroke-width="1"/>
<circle cx="519.3" cy="388.9" r="2.4" fill="#DB7839" stroke="none" stroke-width="1"/>
<circle cx="529.63" cy="342" r="2.4" fill="#DB7839" stroke="none" stroke-width="1"/>
<circle cx="539.97" cy="352" r="2.4" fill="#DB7839" stroke="none" stroke-width="1"/>
<circle cx="550.3" cy="351" r="2.4" fill="#DB7839" stroke="none" stroke-width="1"/>
<circle cx="560.63" cy="348" r="2.4" fill="#DB7839" stroke="none" stroke-width="1"/>
<circle cx="570.97" cy="352" r="2.4" fill="#DB7839" stroke="none" stroke-width="1"/>
<circle cx="581.3" cy="366" r="2.4" fill="#DB7839" stroke="none" stroke-width="1"/>
<circle cx="591.63" cy="356.5" r="2.4" fill="#DB7839" stroke="none" stroke-width="1"/>
<circle cx="601.97" cy="365.5" r="2.4" fill="#DB7839" stroke="none" stroke-width="1"/>
<circle cx="612.3" cy="370.5" r="2.4" fill="#DB7839" stroke="none" stroke-width="1"/>
<circle cx="622.63" cy="375" r="2.4" fill="#DB7839" stroke="none" stroke-width="1"/>
<circle cx="632.97" cy="374" r="2.4" fill="#DB7839" stroke="none" stroke-width="1"/>
<circle cx="643.3" cy="377" r="2.4" fill="#DB7839" stroke="none" stroke-width="1"/>
<circle cx="653.63" cy="381" r="2.4" fill="#DB7839" stroke="none" stroke-width="1"/>
<circle cx="663.97" cy="383" r="2.4" fill="#DB7839" stroke="none" stroke-width="1"/>
<circle cx="674.3" cy="384.5" r="2.4" fill="#DB7839" stroke="none" stroke-width="1"/>
<polyline points="395.3,268.5 405.63,287.15 415.97,254.2 426.3,263 436.63,323.7 446.97,318.29 457.3,295.89 467.63,299.37 477.97,298 488.3,258.6 498.63,301.15 508.97,316.4 519.3,311.3 529.63,301.1 539.97,312.8 550.3,314.65 560.63,307.7 570.97,321.5 581.3,347 591.63,321.66 601.97,330.7 612.3,339.4 622.63,344.14 632.97,346.8 643.3,348.2 653.63,352.23 663.97,353.4 674.3,355.29" fill="none" stroke="#808080" stroke-width="1.3" stroke-linejoin="round"/>
<polyline points="395.3,269.6 405.63,287 415.97,254.88 426.3,263 436.63,322 446.97,319.57 457.3,295.8 467.63,298.47 477.97,299.58 488.3,260.91 498.63,299.6 508.97,317.26 519.3,312.99 529.63,303.75 539.97,312.8 550.3,315.43 560.63,307.7 570.97,321.5 581.3,348.81 591.63,319.84 601.97,332.21 612.3,341.52 622.63,346.21 632.97,345.66 643.3,349.24 653.63,351.41 663.97,353.96 674.3,356.2" fill="none" stroke="#808080" stroke-width="1.3" stroke-linejoin="round"/>
<polyline points="395.3,270.17 405.63,288.21 415.97,256.13 426.3,267.97 436.63,323.97 446.97,320.57 457.3,298.61 467.63,298.34 477.97,299.61 488.3,266.54 498.63,302.87 508.97,316.4 519.3,311.3 529.63,302.78 539.97,312.8 550.3,314.66 560.63,307.7 570.97,324.1 581.3,349.57 591.63,324.32 601.97,330.71 612.3,342.16 622.63,345.88 632.97,345.2 643.3,350.85 653.63,353.59 663.97,353.6 674.3,357.39" fill="none" stroke="#808080" stroke-width="1.3" stroke-linejoin="round"/>
<polyline points="395.3,270.84 405.63,288.61 415.97,260.2 426.3,268.38 436.63,322.66 446.97,319.49 457.3,297.71 467.63,299.14 477.97,298.86 488.3,262.01 498.63,303.13 508.97,316.58 519.3,345 529.63,303.77 539.97,312.98 550.3,316.05 560.63,311.6 570.97,324.19 581.3,347.35 591.63,326.4 601.97,335.89 612.3,344.26 622.63,344.32 632.97,346.33 643.3,348.42 653.63,353.54 663.97,354.28 674.3,355.61" fill="none" stroke="#808080" stroke-width="1.3" stroke-linejoin="round"/>
<polyline points="395.3,271.94 405.63,290.5 415.97,260.22 426.3,265.85 436.63,323.24 446.97,322.11 457.3,298.53 467.63,300.83 477.97,299.12 488.3,261.13 498.63,303.79 508.97,319.17 519.3,313.27 529.63,307.67 539.97,316.71 550.3,319.44 560.63,309.38 570.97,326.8 581.3,348.06 591.63,326.81 601.97,334.85 612.3,342.01 622.63,346.87 632.97,349.64 643.3,349.88 653.63,351.91 663.97,355.58 674.3,356.38" fill="none" stroke="#808080" stroke-width="1.3" stroke-linejoin="round"/>
<polyline points="395.3,271.16 405.63,288.68 415.97,256.69 426.3,266.59 436.63,324.45 446.97,320.37 457.3,299.82 467.63,300.08 477.97,301.44 488.3,264.08 498.63,303 508.97,318.12 519.3,315.86 529.63,303.32 539.97,317.99 550.3,319.03 560.63,311.07 570.97,325.75 581.3,352.3 591.63,322.17 601.97,338.31 612.3,343.32 622.63,347.34 632.97,349.96 643.3,350.97 653.63,353.79 663.97,356.59 674.3,358.89" fill="none" stroke="#808080" stroke-width="1.3" stroke-linejoin="round"/>
<polyline points="395.3,273.43 405.63,291.35 415.97,261.62 426.3,270.42 436.63,325.41 446.97,321.22 457.3,297.92 467.63,300.13 477.97,300.43 488.3,271.48 498.63,303.39 508.97,319.55 519.3,315.92 529.63,309.12 539.97,319.46 550.3,320.57 560.63,312.68 570.97,325.45 581.3,350.4 591.63,326.36 601.97,335.18 612.3,344.23 622.63,347.1 632.97,351.15 643.3,353.71 653.63,354.52 663.97,355.78 674.3,359.32" fill="none" stroke="#808080" stroke-width="1.3" stroke-linejoin="round"/>
<polyline points="395.3,274.22 405.63,290.4 415.97,258.46 426.3,269.91 436.63,326.28 446.97,322.52 457.3,299.07 467.63,301.87 477.97,300.85 488.3,268.44 498.63,303.43 508.97,321.38 519.3,316.89 529.63,305.38 539.97,317.61 550.3,319.18 560.63,315.57 570.97,327.77 581.3,352.96 591.63,329.32 601.97,339.87 612.3,347.21 622.63,348.33 632.97,349.32 643.3,354.38 653.63,353.76 663.97,357.75 674.3,358.92" fill="none" stroke="#808080" stroke-width="1.3" stroke-linejoin="round"/>
<polyline points="395.3,273.7 405.63,292.46 415.97,264.78 426.3,272.55 436.63,327.84 446.97,324.44 457.3,299.46 467.63,302.48 477.97,303.52 488.3,275.91 498.63,307.65 508.97,324.06 519.3,322.17 529.63,311.43 539.97,320.21 550.3,322.52 560.63,314.47 570.97,326.14 581.3,351.16 591.63,328.34 601.97,337.07 612.3,347.84 622.63,349.74 632.97,351.21 643.3,353.71 653.63,356.17 663.97,357.57 674.3,357.64" fill="none" stroke="#808080" stroke-width="1.3" stroke-linejoin="round"/>
<polyline points="395.3,278.88 405.63,292.74 415.97,263.5 426.3,273.07 436.63,328.2 446.97,322.17 457.3,302.21 467.63,302.16 477.97,302.5 488.3,271.94 498.63,308.11 508.97,322.06 519.3,352 529.63,312.91 539.97,320.14 550.3,321.8 560.63,317.02 570.97,330.3 581.3,354.44 591.63,331.76 601.97,341.63 612.3,344.98 622.63,348.77 632.97,350.41 643.3,354.77 653.63,355.47 663.97,358.33 674.3,358.14" fill="none" stroke="#808080" stroke-width="1.3" stroke-linejoin="round"/>
<polyline points="395.3,275.74 405.63,291.77 415.97,265.53 426.3,275.15 436.63,328.88 446.97,323.75 457.3,302.05 467.63,303.39 477.97,304.74 488.3,272.21 498.63,309.72 508.97,322.81 519.3,327.64 529.63,313.69 539.97,318.71 550.3,323.11 560.63,320.13 570.97,332.61 581.3,353.86 591.63,330.37 601.97,339.97 612.3,350.08 622.63,349.74 632.97,352.4 643.3,353.21 653.63,356.82 663.97,360.02 674.3,358.94" fill="none" stroke="#808080" stroke-width="1.3" stroke-linejoin="round"/>
<polyline points="395.3,280.94 405.63,293.08 415.97,267.84 426.3,276.31 436.63,327.91 446.97,326.84 457.3,302.56 467.63,302.54 477.97,303.6 488.3,277.7 498.63,308.44 508.97,324.04 519.3,322.74 529.63,311.26 539.97,320.94 550.3,326.03 560.63,316.24 570.97,332.39 581.3,356.15 591.63,330.57 601.97,345.67 612.3,349.79 622.63,353.29 632.97,351.93 643.3,354.68 653.63,356.96 663.97,360.68 674.3,360.67" fill="none" stroke="#808080" stroke-width="1.3" stroke-linejoin="round"/>
<polyline points="395.3,279.35 405.63,293.37 415.97,265.24 426.3,273.28 436.63,328.07 446.97,327.28 457.3,302.46 467.63,305.98 477.97,305.26 488.3,277.17 498.63,309.55 508.97,324.32 519.3,325.74 529.63,315.82 539.97,324.44 550.3,326.79 560.63,321.09 570.97,334.08 581.3,357.27 591.63,335.37 601.97,345.46 612.3,347.39 622.63,353.3 632.97,353.26 643.3,356.69 653.63,358.42 663.97,359.05 674.3,359.67" fill="none" stroke="#808080" stroke-width="1.3" stroke-linejoin="round"/>
<polyline points="395.3,283.48 405.63,292.97 415.97,267.44 426.3,276.23 436.63,329.4 446.97,327.58 457.3,305.54 467.63,304.39 477.97,307.56 488.3,279.27 498.63,310.6 508.97,326 519.3,325.5 529.63,312.22 539.97,322.07 550.3,328.2 560.63,321.33 570.97,331.46 581.3,357.83 591.63,340.31 601.97,344.84 612.3,348.69 622.63,351.8 632.97,352.52 643.3,355.83 653.63,357.12 663.97,359.44 674.3,360.71" fill="none" stroke="#808080" stroke-width="1.3" stroke-linejoin="round"/>
<polyline points="395.3,282.45 405.63,295.8 415.97,270.12 426.3,277.76 436.63,330.44 446.97,327.42 457.3,304.02 467.63,305.19 477.97,305.89 488.3,280.78 498.63,312.8 508.97,325.58 519.3,329.26 529.63,315.94 539.97,325.9 550.3,325.48 560.63,321.02 570.97,332.48 581.3,356.48 591.63,337.31 601.97,348.5 612.3,353 622.63,355.2 632.97,352.93 643.3,355.34 653.63,359.83 663.97,361.8 674.3,361.78" fill="none" stroke="#808080" stroke-width="1.3" stroke-linejoin="round"/>
<polyline points="395.3,283.52 405.63,293.67 415.97,269.02 426.3,280.5 436.63,332 446.97,328.7 457.3,305.7 467.63,305.45 477.97,306.76 488.3,281.28 498.63,312.08 508.97,328.8 519.3,331.8 529.63,317.2 539.97,325.78 550.3,328.8 560.63,323.19 570.97,334.88 581.3,355.72 591.63,340.5 601.97,345.67 612.3,353 622.63,355.08 632.97,354.74 643.3,356.32 653.63,358.86 663.97,361.69 674.3,362.8" fill="none" stroke="#808080" stroke-width="1.3" stroke-linejoin="round"/>
<polyline points="395.3,281.84 405.63,294.44 415.97,270.7 426.3,280.5 436.63,331.6 446.97,327.61 457.3,305.7 467.63,305.25 477.97,308.21 488.3,286.11 498.63,312.8 508.97,328.8 519.3,331.8 529.63,317.06 539.97,324.65 550.3,327.47 560.63,324.5 570.97,335.5 581.3,357.52 591.63,336.7 601.97,348.49 612.3,353 622.63,354.87 632.97,355.24 643.3,358.3 653.63,360.3 663.97,360.97 674.3,361.53" fill="none" stroke="#808080" stroke-width="1.3" stroke-linejoin="round"/>
<circle cx="395.3" cy="268.5" r="1.7" fill="#808080" stroke="none" stroke-width="1"/>
<circle cx="405.63" cy="287.15" r="1.7" fill="#808080" stroke="none" stroke-width="1"/>
<circle cx="415.97" cy="254.2" r="1.7" fill="#808080" stroke="none" stroke-width="1"/>
<circle cx="426.3" cy="263" r="1.7" fill="#808080" stroke="none" stroke-width="1"/>
<circle cx="436.63" cy="323.7" r="1.7" fill="#808080" stroke="none" stroke-width="1"/>
<circle cx="446.97" cy="318.29" r="1.7" fill="#808080" stroke="none" stroke-width="1"/>
<circle cx="457.3" cy="295.89" r="1.7" fill="#808080" stroke="none" stroke-width="1"/>
<circle cx="467.63" cy="299.37" r="1.7" fill="#808080" stroke="none" stroke-width="1"/>
<circle cx="477.97" cy="298" r="1.7" fill="#808080" stroke="none" stroke-width="1"/>
<circle cx="488.3" cy="258.6" r="1.7" fill="#808080" stroke="none" stroke-width="1"/>
<circle cx="498.63" cy="301.15" r="1.7" fill="#808080" stroke="none" stroke-width="1"/>
<circle cx="508.97" cy="316.4" r="1.7" fill="#808080" stroke="none" stroke-width="1"/>
<circle cx="519.3" cy="311.3" r="1.7" fill="#808080" stroke="none" stroke-width="1"/>
<circle cx="529.63" cy="301.1" r="1.7" fill="#808080" stroke="none" stroke-width="1"/>
<circle cx="539.97" cy="312.8" r="1.7" fill="#808080" stroke="none" stroke-width="1"/>
<circle cx="550.3" cy="314.65" r="1.7" fill="#808080" stroke="none" stroke-width="1"/>
<circle cx="560.63" cy="307.7" r="1.7" fill="#808080" stroke="none" stroke-width="1"/>
<circle cx="570.97" cy="321.5" r="1.7" fill="#808080" stroke="none" stroke-width="1"/>
<circle cx="581.3" cy="347" r="1.7" fill="#808080" stroke="none" stroke-width="1"/>
<circle cx="591.63" cy="321.66" r="1.7" fill="#808080" stroke="none" stroke-width="1"/>
<circle cx="601.97" cy="330.7" r="1.7" fill="#808080" stroke="none" stroke-width="1"/>
<circle cx="612.3" cy="339.4" r="1.7" fill="#808080" stroke="none" stroke-width="1"/>
<circle cx="622.63" cy="344.14" r="1.7" fill="#808080" stroke="none" stroke-width="1"/>
<circle cx="632.97" cy="346.8" r="1.7" fill="#808080" stroke="none" stroke-width="1"/>
<circle cx="643.3" cy="348.2" r="1.7" fill="#808080" stroke="none" stroke-width="1"/>
<circle cx="653.63" cy="352.23" r="1.7" fill="#808080" stroke="none" stroke-width="1"/>
<circle cx="663.97" cy="353.4" r="1.7" fill="#808080" stroke="none" stroke-width="1"/>
<circle cx="674.3" cy="355.29" r="1.7" fill="#808080" stroke="none" stroke-width="1"/>
<circle cx="395.3" cy="269.6" r="1.7" fill="#808080" stroke="none" stroke-width="1"/>
<circle cx="405.63" cy="287" r="1.7" fill="#808080" stroke="none" stroke-width="1"/>
<circle cx="415.97" cy="254.88" r="1.7" fill="#808080" stroke="none" stroke-width="1"/>
<circle cx="426.3" cy="263" r="1.7" fill="#808080" stroke="none" stroke-width="1"/>
<circle cx="436.63" cy="322" r="1.7" fill="#808080" stroke="none" stroke-width="1"/>
<circle cx="446.97" cy="319.57" r="1.7" fill="#808080" stroke="none" stroke-width="1"/>
<circle cx="457.3" cy="295.8" r="1.7" fill="#808080" stroke="none" stroke-width="1"/>
<circle cx="467.63" cy="298.47" r="1.7" fill="#808080" stroke="none" stroke-width="1"/>
<circle cx="477.97" cy="299.58" r="1.7" fill="#808080" stroke="none" stroke-width="1"/>
<circle cx="488.3" cy="260.91" r="1.7" fill="#808080" stroke="none" stroke-width="1"/>
<circle cx="498.63" cy="299.6" r="1.7" fill="#808080" stroke="none" stroke-width="1"/>
<circle cx="508.97" cy="317.26" r="1.7" fill="#808080" stroke="none" stroke-width="1"/>
<circle cx="519.3" cy="312.99" r="1.7" fill="#808080" stroke="none" stroke-width="1"/>
<circle cx="529.63" cy="303.75" r="1.7" fill="#808080" stroke="none" stroke-width="1"/>
<circle cx="539.97" cy="312.8" r="1.7" fill="#808080" stroke="none" stroke-width="1"/>
<circle cx="550.3" cy="315.43" r="1.7" fill="#808080" stroke="none" stroke-width="1"/>
<circle cx="560.63" cy="307.7" r="1.7" fill="#808080" stroke="none" stroke-width="1"/>
<circle cx="570.97" cy="321.5" r="1.7" fill="#808080" stroke="none" stroke-width="1"/>
<circle cx="581.3" cy="348.81" r="1.7" fill="#808080" stroke="none" stroke-width="1"/>
<circle cx="591.63" cy="319.84" r="1.7" fill="#808080" stroke="none" stroke-width="1"/>
<circle cx="601.97" cy="332.21" r="1.7" fill="#808080" stroke="none" stroke-width="1"/>
<circle cx="612.3" cy="341.52" r="1.7" fill="#808080" stroke="none" stroke-width="1"/>
<circle cx="622.63" cy="346.21" r="1.7" fill="#808080" stroke="none" stroke-width="1"/>
<circle cx="632.97" cy="345.66" r="1.7" fill="#808080" stroke="none" stroke-width="1"/>
<circle cx="643.3" cy="349.24" r="1.7" fill="#808080" stroke="none" stroke-width="1"/>
<circle cx="653.63" cy="351.41" r="1.7" fill="#808080" stroke="none" stroke-width="1"/>
<circle cx="663.97" cy="353.96" r="1.7" fill="#808080" stroke="none" stroke-width="1"/>
<circle cx="674.3" cy="356.2" r="1.7" fill="#808080" stroke="none" stroke-width="1"/>
<circle cx="395.3" cy="270.17" r="1.7" fill="#808080" stroke="none" stroke-width="1"/>
<circle cx="405.63" cy="288.21" r="1.7" fill="#808080" stroke="none" stroke-width="1"/>
<circle cx="415.97" cy="256.13" r="1.7" fill="#808080" stroke="none" stroke-width="1"/>
<circle cx="426.3" cy="267.97" r="1.7" fill="#808080" stroke="none" stroke-width="1"/>
<circle cx="436.63" cy="323.97" r="1.7" fill="#808080" stroke="none" stroke-width="1"/>
<circle cx="446.97" cy="320.57" r="1.7" fill="#808080" stroke="none" stroke-width="1"/>
<circle cx="457.3" cy="298.61" r="1.7" fill="#808080" stroke="none" stroke-width="1"/>
<circle cx="467.63" cy="298.34" r="1.7" fill="#808080" stroke="none" stroke-width="1"/>
<circle cx="477.97" cy="299.61" r="1.7" fill="#808080" stroke="none" stroke-width="1"/>
<circle cx="488.3" cy="266.54" r="1.7" fill="#808080" stroke="none" stroke-width="1"/>
<circle cx="498.63" cy="302.87" r="1.7" fill="#808080" stroke="none" stroke-width="1"/>
<circle cx="508.97" cy="316.4" r="1.7" fill="#808080" stroke="none" stroke-width="1"/>
<circle cx="519.3" cy="311.3" r="1.7" fill="#808080" stroke="none" stroke-width="1"/>
<circle cx="529.63" cy="302.78" r="1.7" fill="#808080" stroke="none" stroke-width="1"/>
<circle cx="539.97" cy="312.8" r="1.7" fill="#808080" stroke="none" stroke-width="1"/>
<circle cx="550.3" cy="314.66" r="1.7" fill="#808080" stroke="none" stroke-width="1"/>
<circle cx="560.63" cy="307.7" r="1.7" fill="#808080" stroke="none" stroke-width="1"/>
<circle cx="570.97" cy="324.1" r="1.7" fill="#808080" stroke="none" stroke-width="1"/>
<circle cx="581.3" cy="349.57" r="1.7" fill="#808080" stroke="none" stroke-width="1"/>
<circle cx="591.63" cy="324.32" r="1.7" fill="#808080" stroke="none" stroke-width="1"/>
<circle cx="601.97" cy="330.71" r="1.7" fill="#808080" stroke="none" stroke-width="1"/>
<circle cx="612.3" cy="342.16" r="1.7" fill="#808080" stroke="none" stroke-width="1"/>
<circle cx="622.63" cy="345.88" r="1.7" fill="#808080" stroke="none" stroke-width="1"/>
<circle cx="632.97" cy="345.2" r="1.7" fill="#808080" stroke="none" stroke-width="1"/>
<circle cx="643.3" cy="350.85" r="1.7" fill="#808080" stroke="none" stroke-width="1"/>
<circle cx="653.63" cy="353.59" r="1.7" fill="#808080" stroke="none" stroke-width="1"/>
<circle cx="663.97" cy="353.6" r="1.7" fill="#808080" stroke="none" stroke-width="1"/>
<circle cx="674.3" cy="357.39" r="1.7" fill="#808080" stroke="none" stroke-width="1"/>
<circle cx="395.3" cy="270.84" r="1.7" fill="#808080" stroke="none" stroke-width="1"/>
<circle cx="405.63" cy="288.61" r="1.7" fill="#808080" stroke="none" stroke-width="1"/>
<circle cx="415.97" cy="260.2" r="1.7" fill="#808080" stroke="none" stroke-width="1"/>
<circle cx="426.3" cy="268.38" r="1.7" fill="#808080" stroke="none" stroke-width="1"/>
<circle cx="436.63" cy="322.66" r="1.7" fill="#808080" stroke="none" stroke-width="1"/>
<circle cx="446.97" cy="319.49" r="1.7" fill="#808080" stroke="none" stroke-width="1"/>
<circle cx="457.3" cy="297.71" r="1.7" fill="#808080" stroke="none" stroke-width="1"/>
<circle cx="467.63" cy="299.14" r="1.7" fill="#808080" stroke="none" stroke-width="1"/>
<circle cx="477.97" cy="298.86" r="1.7" fill="#808080" stroke="none" stroke-width="1"/>
<circle cx="488.3" cy="262.01" r="1.7" fill="#808080" stroke="none" stroke-width="1"/>
<circle cx="498.63" cy="303.13" r="1.7" fill="#808080" stroke="none" stroke-width="1"/>
<circle cx="508.97" cy="316.58" r="1.7" fill="#808080" stroke="none" stroke-width="1"/>
<circle cx="519.3" cy="345" r="1.7" fill="#808080" stroke="none" stroke-width="1"/>
<circle cx="529.63" cy="303.77" r="1.7" fill="#808080" stroke="none" stroke-width="1"/>
<circle cx="539.97" cy="312.98" r="1.7" fill="#808080" stroke="none" stroke-width="1"/>
<circle cx="550.3" cy="316.05" r="1.7" fill="#808080" stroke="none" stroke-width="1"/>
<circle cx="560.63" cy="311.6" r="1.7" fill="#808080" stroke="none" stroke-width="1"/>
<circle cx="570.97" cy="324.19" r="1.7" fill="#808080" stroke="none" stroke-width="1"/>
<circle cx="581.3" cy="347.35" r="1.7" fill="#808080" stroke="none" stroke-width="1"/>
<circle cx="591.63" cy="326.4" r="1.7" fill="#808080" stroke="none" stroke-width="1"/>
<circle cx="601.97" cy="335.89" r="1.7" fill="#808080" stroke="none" stroke-width="1"/>
<circle cx="612.3" cy="344.26" r="1.7" fill="#808080" stroke="none" stroke-width="1"/>
<circle cx="622.63" cy="344.32" r="1.7" fill="#808080" stroke="none" stroke-width="1"/>
<circle cx="632.97" cy="346.33" r="1.7" fill="#808080" stroke="none" stroke-width="1"/>
<circle cx="643.3" cy="348.42" r="1.7" fill="#808080" stroke="none" stroke-width="1"/>
<circle cx="653.63" cy="353.54" r="1.7" fill="#808080" stroke="none" stroke-width="1"/>
<circle cx="663.97" cy="354.28" r="1.7" fill="#808080" stroke="none" stroke-width="1"/>
<circle cx="674.3" cy="355.61" r="1.7" fill="#808080" stroke="none" stroke-width="1"/>
<circle cx="395.3" cy="271.94" r="1.7" fill="#808080" stroke="none" stroke-width="1"/>
<circle cx="405.63" cy="290.5" r="1.7" fill="#808080" stroke="none" stroke-width="1"/>
<circle cx="415.97" cy="260.22" r="1.7" fill="#808080" stroke="none" stroke-width="1"/>
<circle cx="426.3" cy="265.85" r="1.7" fill="#808080" stroke="none" stroke-width="1"/>
<circle cx="436.63" cy="323.24" r="1.7" fill="#808080" stroke="none" stroke-width="1"/>
<circle cx="446.97" cy="322.11" r="1.7" fill="#808080" stroke="none" stroke-width="1"/>
<circle cx="457.3" cy="298.53" r="1.7" fill="#808080" stroke="none" stroke-width="1"/>
<circle cx="467.63" cy="300.83" r="1.7" fill="#808080" stroke="none" stroke-width="1"/>
<circle cx="477.97" cy="299.12" r="1.7" fill="#808080" stroke="none" stroke-width="1"/>
<circle cx="488.3" cy="261.13" r="1.7" fill="#808080" stroke="none" stroke-width="1"/>
<circle cx="498.63" cy="303.79" r="1.7" fill="#808080" stroke="none" stroke-width="1"/>
<circle cx="508.97" cy="319.17" r="1.7" fill="#808080" stroke="none" stroke-width="1"/>
<circle cx="519.3" cy="313.27" r="1.7" fill="#808080" stroke="none" stroke-width="1"/>
<circle cx="529.63" cy="307.67" r="1.7" fill="#808080" stroke="none" stroke-width="1"/>
<circle cx="539.97" cy="316.71" r="1.7" fill="#808080" stroke="none" stroke-width="1"/>
<circle cx="550.3" cy="319.44" r="1.7" fill="#808080" stroke="none" stroke-width="1"/>
<circle cx="560.63" cy="309.38" r="1.7" fill="#808080" stroke="none" stroke-width="1"/>
<circle cx="570.97" cy="326.8" r="1.7" fill="#808080" stroke="none" stroke-width="1"/>
<circle cx="581.3" cy="348.06" r="1.7" fill="#808080" stroke="none" stroke-width="1"/>
<circle cx="591.63" cy="326.81" r="1.7" fill="#808080" stroke="none" stroke-width="1"/>
<circle cx="601.97" cy="334.85" r="1.7" fill="#808080" stroke="none" stroke-width="1"/>
<circle cx="612.3" cy="342.01" r="1.7" fill="#808080" stroke="none" stroke-width="1"/>
<circle cx="622.63" cy="346.87" r="1.7" fill="#808080" stroke="none" stroke-width="1"/>
<circle cx="632.97" cy="349.64" r="1.7" fill="#808080" stroke="none" stroke-width="1"/>
<circle cx="643.3" cy="349.88" r="1.7" fill="#808080" stroke="none" stroke-width="1"/>
<circle cx="653.63" cy="351.91" r="1.7" fill="#808080" stroke="none" stroke-width="1"/>
<circle cx="663.97" cy="355.58" r="1.7" fill="#808080" stroke="none" stroke-width="1"/>
<circle cx="674.3" cy="356.38" r="1.7" fill="#808080" stroke="none" stroke-width="1"/>
<circle cx="395.3" cy="271.16" r="1.7" fill="#808080" stroke="none" stroke-width="1"/>
<circle cx="405.63" cy="288.68" r="1.7" fill="#808080" stroke="none" stroke-width="1"/>
<circle cx="415.97" cy="256.69" r="1.7" fill="#808080" stroke="none" stroke-width="1"/>
<circle cx="426.3" cy="266.59" r="1.7" fill="#808080" stroke="none" stroke-width="1"/>
<circle cx="436.63" cy="324.45" r="1.7" fill="#808080" stroke="none" stroke-width="1"/>
<circle cx="446.97" cy="320.37" r="1.7" fill="#808080" stroke="none" stroke-width="1"/>
<circle cx="457.3" cy="299.82" r="1.7" fill="#808080" stroke="none" stroke-width="1"/>
<circle cx="467.63" cy="300.08" r="1.7" fill="#808080" stroke="none" stroke-width="1"/>
<circle cx="477.97" cy="301.44" r="1.7" fill="#808080" stroke="none" stroke-width="1"/>
<circle cx="488.3" cy="264.08" r="1.7" fill="#808080" stroke="none" stroke-width="1"/>
<circle cx="498.63" cy="303" r="1.7" fill="#808080" stroke="none" stroke-width="1"/>
<circle cx="508.97" cy="318.12" r="1.7" fill="#808080" stroke="none" stroke-width="1"/>
<circle cx="519.3" cy="315.86" r="1.7" fill="#808080" stroke="none" stroke-width="1"/>
<circle cx="529.63" cy="303.32" r="1.7" fill="#808080" stroke="none" stroke-width="1"/>
<circle cx="539.97" cy="317.99" r="1.7" fill="#808080" stroke="none" stroke-width="1"/>
<circle cx="550.3" cy="319.03" r="1.7" fill="#808080" stroke="none" stroke-width="1"/>
<circle cx="560.63" cy="311.07" r="1.7" fill="#808080" stroke="none" stroke-width="1"/>
<circle cx="570.97" cy="325.75" r="1.7" fill="#808080" stroke="none" stroke-width="1"/>
<circle cx="581.3" cy="352.3" r="1.7" fill="#808080" stroke="none" stroke-width="1"/>
<circle cx="591.63" cy="322.17" r="1.7" fill="#808080" stroke="none" stroke-width="1"/>
<circle cx="601.97" cy="338.31" r="1.7" fill="#808080" stroke="none" stroke-width="1"/>
<circle cx="612.3" cy="343.32" r="1.7" fill="#808080" stroke="none" stroke-width="1"/>
<circle cx="622.63" cy="347.34" r="1.7" fill="#808080" stroke="none" stroke-width="1"/>
<circle cx="632.97" cy="349.96" r="1.7" fill="#808080" stroke="none" stroke-width="1"/>
<circle cx="643.3" cy="350.97" r="1.7" fill="#808080" stroke="none" stroke-width="1"/>
<circle cx="653.63" cy="353.79" r="1.7" fill="#808080" stroke="none" stroke-width="1"/>
<circle cx="663.97" cy="356.59" r="1.7" fill="#808080" stroke="none" stroke-width="1"/>
<circle cx="674.3" cy="358.89" r="1.7" fill="#808080" stroke="none" stroke-width="1"/>
<circle cx="395.3" cy="273.43" r="1.7" fill="#808080" stroke="none" stroke-width="1"/>
<circle cx="405.63" cy="291.35" r="1.7" fill="#808080" stroke="none" stroke-width="1"/>
<circle cx="415.97" cy="261.62" r="1.7" fill="#808080" stroke="none" stroke-width="1"/>
<circle cx="426.3" cy="270.42" r="1.7" fill="#808080" stroke="none" stroke-width="1"/>
<circle cx="436.63" cy="325.41" r="1.7" fill="#808080" stroke="none" stroke-width="1"/>
<circle cx="446.97" cy="321.22" r="1.7" fill="#808080" stroke="none" stroke-width="1"/>
<circle cx="457.3" cy="297.92" r="1.7" fill="#808080" stroke="none" stroke-width="1"/>
<circle cx="467.63" cy="300.13" r="1.7" fill="#808080" stroke="none" stroke-width="1"/>
<circle cx="477.97" cy="300.43" r="1.7" fill="#808080" stroke="none" stroke-width="1"/>
<circle cx="488.3" cy="271.48" r="1.7" fill="#808080" stroke="none" stroke-width="1"/>
<circle cx="498.63" cy="303.39" r="1.7" fill="#808080" stroke="none" stroke-width="1"/>
<circle cx="508.97" cy="319.55" r="1.7" fill="#808080" stroke="none" stroke-width="1"/>
<circle cx="519.3" cy="315.92" r="1.7" fill="#808080" stroke="none" stroke-width="1"/>
<circle cx="529.63" cy="309.12" r="1.7" fill="#808080" stroke="none" stroke-width="1"/>
<circle cx="539.97" cy="319.46" r="1.7" fill="#808080" stroke="none" stroke-width="1"/>
<circle cx="550.3" cy="320.57" r="1.7" fill="#808080" stroke="none" stroke-width="1"/>
<circle cx="560.63" cy="312.68" r="1.7" fill="#808080" stroke="none" stroke-width="1"/>
<circle cx="570.97" cy="325.45" r="1.7" fill="#808080" stroke="none" stroke-width="1"/>
<circle cx="581.3" cy="350.4" r="1.7" fill="#808080" stroke="none" stroke-width="1"/>
<circle cx="591.63" cy="326.36" r="1.7" fill="#808080" stroke="none" stroke-width="1"/>
<circle cx="601.97" cy="335.18" r="1.7" fill="#808080" stroke="none" stroke-width="1"/>
<circle cx="612.3" cy="344.23" r="1.7" fill="#808080" stroke="none" stroke-width="1"/>
<circle cx="622.63" cy="347.1" r="1.7" fill="#808080" stroke="none" stroke-width="1"/>
<circle cx="632.97" cy="351.15" r="1.7" fill="#808080" stroke="none" stroke-width="1"/>
<circle cx="643.3" cy="353.71" r="1.7" fill="#808080" stroke="none" stroke-width="1"/>
<circle cx="653.63" cy="354.52" r="1.7" fill="#808080" stroke="none" stroke-width="1"/>
<circle cx="663.97" cy="355.78" r="1.7" fill="#808080" stroke="none" stroke-width="1"/>
<circle cx="674.3" cy="359.32" r="1.7" fill="#808080" stroke="none" stroke-width="1"/>
<circle cx="395.3" cy="274.22" r="1.7" fill="#808080" stroke="none" stroke-width="1"/>
<circle cx="405.63" cy="290.4" r="1.7" fill="#808080" stroke="none" stroke-width="1"/>
<circle cx="415.97" cy="258.46" r="1.7" fill="#808080" stroke="none" stroke-width="1"/>
<circle cx="426.3" cy="269.91" r="1.7" fill="#808080" stroke="none" stroke-width="1"/>
<circle cx="436.63" cy="326.28" r="1.7" fill="#808080" stroke="none" stroke-width="1"/>
<circle cx="446.97" cy="322.52" r="1.7" fill="#808080" stroke="none" stroke-width="1"/>
<circle cx="457.3" cy="299.07" r="1.7" fill="#808080" stroke="none" stroke-width="1"/>
<circle cx="467.63" cy="301.87" r="1.7" fill="#808080" stroke="none" stroke-width="1"/>
<circle cx="477.97" cy="300.85" r="1.7" fill="#808080" stroke="none" stroke-width="1"/>
<circle cx="488.3" cy="268.44" r="1.7" fill="#808080" stroke="none" stroke-width="1"/>
<circle cx="498.63" cy="303.43" r="1.7" fill="#808080" stroke="none" stroke-width="1"/>
<circle cx="508.97" cy="321.38" r="1.7" fill="#808080" stroke="none" stroke-width="1"/>
<circle cx="519.3" cy="316.89" r="1.7" fill="#808080" stroke="none" stroke-width="1"/>
<circle cx="529.63" cy="305.38" r="1.7" fill="#808080" stroke="none" stroke-width="1"/>
<circle cx="539.97" cy="317.61" r="1.7" fill="#808080" stroke="none" stroke-width="1"/>
<circle cx="550.3" cy="319.18" r="1.7" fill="#808080" stroke="none" stroke-width="1"/>
<circle cx="560.63" cy="315.57" r="1.7" fill="#808080" stroke="none" stroke-width="1"/>
<circle cx="570.97" cy="327.77" r="1.7" fill="#808080" stroke="none" stroke-width="1"/>
<circle cx="581.3" cy="352.96" r="1.7" fill="#808080" stroke="none" stroke-width="1"/>
<circle cx="591.63" cy="329.32" r="1.7" fill="#808080" stroke="none" stroke-width="1"/>
<circle cx="601.97" cy="339.87" r="1.7" fill="#808080" stroke="none" stroke-width="1"/>
<circle cx="612.3" cy="347.21" r="1.7" fill="#808080" stroke="none" stroke-width="1"/>
<circle cx="622.63" cy="348.33" r="1.7" fill="#808080" stroke="none" stroke-width="1"/>
<circle cx="632.97" cy="349.32" r="1.7" fill="#808080" stroke="none" stroke-width="1"/>
<circle cx="643.3" cy="354.38" r="1.7" fill="#808080" stroke="none" stroke-width="1"/>
<circle cx="653.63" cy="353.76" r="1.7" fill="#808080" stroke="none" stroke-width="1"/>
<circle cx="663.97" cy="357.75" r="1.7" fill="#808080" stroke="none" stroke-width="1"/>
<circle cx="674.3" cy="358.92" r="1.7" fill="#808080" stroke="none" stroke-width="1"/>
<circle cx="395.3" cy="273.7" r="1.7" fill="#808080" stroke="none" stroke-width="1"/>
<circle cx="405.63" cy="292.46" r="1.7" fill="#808080" stroke="none" stroke-width="1"/>
<circle cx="415.97" cy="264.78" r="1.7" fill="#808080" stroke="none" stroke-width="1"/>
<circle cx="426.3" cy="272.55" r="1.7" fill="#808080" stroke="none" stroke-width="1"/>
<circle cx="436.63" cy="327.84" r="1.7" fill="#808080" stroke="none" stroke-width="1"/>
<circle cx="446.97" cy="324.44" r="1.7" fill="#808080" stroke="none" stroke-width="1"/>
<circle cx="457.3" cy="299.46" r="1.7" fill="#808080" stroke="none" stroke-width="1"/>
<circle cx="467.63" cy="302.48" r="1.7" fill="#808080" stroke="none" stroke-width="1"/>
<circle cx="477.97" cy="303.52" r="1.7" fill="#808080" stroke="none" stroke-width="1"/>
<circle cx="488.3" cy="275.91" r="1.7" fill="#808080" stroke="none" stroke-width="1"/>
<circle cx="498.63" cy="307.65" r="1.7" fill="#808080" stroke="none" stroke-width="1"/>
<circle cx="508.97" cy="324.06" r="1.7" fill="#808080" stroke="none" stroke-width="1"/>
<circle cx="519.3" cy="322.17" r="1.7" fill="#808080" stroke="none" stroke-width="1"/>
<circle cx="529.63" cy="311.43" r="1.7" fill="#808080" stroke="none" stroke-width="1"/>
<circle cx="539.97" cy="320.21" r="1.7" fill="#808080" stroke="none" stroke-width="1"/>
<circle cx="550.3" cy="322.52" r="1.7" fill="#808080" stroke="none" stroke-width="1"/>
<circle cx="560.63" cy="314.47" r="1.7" fill="#808080" stroke="none" stroke-width="1"/>
<circle cx="570.97" cy="326.14" r="1.7" fill="#808080" stroke="none" stroke-width="1"/>
<circle cx="581.3" cy="351.16" r="1.7" fill="#808080" stroke="none" stroke-width="1"/>
<circle cx="591.63" cy="328.34" r="1.7" fill="#808080" stroke="none" stroke-width="1"/>
<circle cx="601.97" cy="337.07" r="1.7" fill="#808080" stroke="none" stroke-width="1"/>
<circle cx="612.3" cy="347.84" r="1.7" fill="#808080" stroke="none" stroke-width="1"/>
<circle cx="622.63" cy="349.74" r="1.7" fill="#808080" stroke="none" stroke-width="1"/>
<circle cx="632.97" cy="351.21" r="1.7" fill="#808080" stroke="none" stroke-width="1"/>
<circle cx="643.3" cy="353.71" r="1.7" fill="#808080" stroke="none" stroke-width="1"/>
<circle cx="653.63" cy="356.17" r="1.7" fill="#808080" stroke="none" stroke-width="1"/>
<circle cx="663.97" cy="357.57" r="1.7" fill="#808080" stroke="none" stroke-width="1"/>
<circle cx="674.3" cy="357.64" r="1.7" fill="#808080" stroke="none" stroke-width="1"/>
<circle cx="395.3" cy="278.88" r="1.7" fill="#808080" stroke="none" stroke-width="1"/>
<circle cx="405.63" cy="292.74" r="1.7" fill="#808080" stroke="none" stroke-width="1"/>
<circle cx="415.97" cy="263.5" r="1.7" fill="#808080" stroke="none" stroke-width="1"/>
<circle cx="426.3" cy="273.07" r="1.7" fill="#808080" stroke="none" stroke-width="1"/>
<circle cx="436.63" cy="328.2" r="1.7" fill="#808080" stroke="none" stroke-width="1"/>
<circle cx="446.97" cy="322.17" r="1.7" fill="#808080" stroke="none" stroke-width="1"/>
<circle cx="457.3" cy="302.21" r="1.7" fill="#808080" stroke="none" stroke-width="1"/>
<circle cx="467.63" cy="302.16" r="1.7" fill="#808080" stroke="none" stroke-width="1"/>
<circle cx="477.97" cy="302.5" r="1.7" fill="#808080" stroke="none" stroke-width="1"/>
<circle cx="488.3" cy="271.94" r="1.7" fill="#808080" stroke="none" stroke-width="1"/>
<circle cx="498.63" cy="308.11" r="1.7" fill="#808080" stroke="none" stroke-width="1"/>
<circle cx="508.97" cy="322.06" r="1.7" fill="#808080" stroke="none" stroke-width="1"/>
<circle cx="519.3" cy="352" r="1.7" fill="#808080" stroke="none" stroke-width="1"/>
<circle cx="529.63" cy="312.91" r="1.7" fill="#808080" stroke="none" stroke-width="1"/>
<circle cx="539.97" cy="320.14" r="1.7" fill="#808080" stroke="none" stroke-width="1"/>
<circle cx="550.3" cy="321.8" r="1.7" fill="#808080" stroke="none" stroke-width="1"/>
<circle cx="560.63" cy="317.02" r="1.7" fill="#808080" stroke="none" stroke-width="1"/>
<circle cx="570.97" cy="330.3" r="1.7" fill="#808080" stroke="none" stroke-width="1"/>
<circle cx="581.3" cy="354.44" r="1.7" fill="#808080" stroke="none" stroke-width="1"/>
<circle cx="591.63" cy="331.76" r="1.7" fill="#808080" stroke="none" stroke-width="1"/>
<circle cx="601.97" cy="341.63" r="1.7" fill="#808080" stroke="none" stroke-width="1"/>
<circle cx="612.3" cy="344.98" r="1.7" fill="#808080" stroke="none" stroke-width="1"/>
<circle cx="622.63" cy="348.77" r="1.7" fill="#808080" stroke="none" stroke-width="1"/>
<circle cx="632.97" cy="350.41" r="1.7" fill="#808080" stroke="none" stroke-width="1"/>
<circle cx="643.3" cy="354.77" r="1.7" fill="#808080" stroke="none" stroke-width="1"/>
<circle cx="653.63" cy="355.47" r="1.7" fill="#808080" stroke="none" stroke-width="1"/>
<circle cx="663.97" cy="358.33" r="1.7" fill="#808080" stroke="none" stroke-width="1"/>
<circle cx="674.3" cy="358.14" r="1.7" fill="#808080" stroke="none" stroke-width="1"/>
<circle cx="395.3" cy="275.74" r="1.7" fill="#808080" stroke="none" stroke-width="1"/>
<circle cx="405.63" cy="291.77" r="1.7" fill="#808080" stroke="none" stroke-width="1"/>
<circle cx="415.97" cy="265.53" r="1.7" fill="#808080" stroke="none" stroke-width="1"/>
<circle cx="426.3" cy="275.15" r="1.7" fill="#808080" stroke="none" stroke-width="1"/>
<circle cx="436.63" cy="328.88" r="1.7" fill="#808080" stroke="none" stroke-width="1"/>
<circle cx="446.97" cy="323.75" r="1.7" fill="#808080" stroke="none" stroke-width="1"/>
<circle cx="457.3" cy="302.05" r="1.7" fill="#808080" stroke="none" stroke-width="1"/>
<circle cx="467.63" cy="303.39" r="1.7" fill="#808080" stroke="none" stroke-width="1"/>
<circle cx="477.97" cy="304.74" r="1.7" fill="#808080" stroke="none" stroke-width="1"/>
<circle cx="488.3" cy="272.21" r="1.7" fill="#808080" stroke="none" stroke-width="1"/>
<circle cx="498.63" cy="309.72" r="1.7" fill="#808080" stroke="none" stroke-width="1"/>
<circle cx="508.97" cy="322.81" r="1.7" fill="#808080" stroke="none" stroke-width="1"/>
<circle cx="519.3" cy="327.64" r="1.7" fill="#808080" stroke="none" stroke-width="1"/>
<circle cx="529.63" cy="313.69" r="1.7" fill="#808080" stroke="none" stroke-width="1"/>
<circle cx="539.97" cy="318.71" r="1.7" fill="#808080" stroke="none" stroke-width="1"/>
<circle cx="550.3" cy="323.11" r="1.7" fill="#808080" stroke="none" stroke-width="1"/>
<circle cx="560.63" cy="320.13" r="1.7" fill="#808080" stroke="none" stroke-width="1"/>
<circle cx="570.97" cy="332.61" r="1.7" fill="#808080" stroke="none" stroke-width="1"/>
<circle cx="581.3" cy="353.86" r="1.7" fill="#808080" stroke="none" stroke-width="1"/>
<circle cx="591.63" cy="330.37" r="1.7" fill="#808080" stroke="none" stroke-width="1"/>
<circle cx="601.97" cy="339.97" r="1.7" fill="#808080" stroke="none" stroke-width="1"/>
<circle cx="612.3" cy="350.08" r="1.7" fill="#808080" stroke="none" stroke-width="1"/>
<circle cx="622.63" cy="349.74" r="1.7" fill="#808080" stroke="none" stroke-width="1"/>
<circle cx="632.97" cy="352.4" r="1.7" fill="#808080" stroke="none" stroke-width="1"/>
<circle cx="643.3" cy="353.21" r="1.7" fill="#808080" stroke="none" stroke-width="1"/>
<circle cx="653.63" cy="356.82" r="1.7" fill="#808080" stroke="none" stroke-width="1"/>
<circle cx="663.97" cy="360.02" r="1.7" fill="#808080" stroke="none" stroke-width="1"/>
<circle cx="674.3" cy="358.94" r="1.7" fill="#808080" stroke="none" stroke-width="1"/>
<circle cx="395.3" cy="280.94" r="1.7" fill="#808080" stroke="none" stroke-width="1"/>
<circle cx="405.63" cy="293.08" r="1.7" fill="#808080" stroke="none" stroke-width="1"/>
<circle cx="415.97" cy="267.84" r="1.7" fill="#808080" stroke="none" stroke-width="1"/>
<circle cx="426.3" cy="276.31" r="1.7" fill="#808080" stroke="none" stroke-width="1"/>
<circle cx="436.63" cy="327.91" r="1.7" fill="#808080" stroke="none" stroke-width="1"/>
<circle cx="446.97" cy="326.84" r="1.7" fill="#808080" stroke="none" stroke-width="1"/>
<circle cx="457.3" cy="302.56" r="1.7" fill="#808080" stroke="none" stroke-width="1"/>
<circle cx="467.63" cy="302.54" r="1.7" fill="#808080" stroke="none" stroke-width="1"/>
<circle cx="477.97" cy="303.6" r="1.7" fill="#808080" stroke="none" stroke-width="1"/>
<circle cx="488.3" cy="277.7" r="1.7" fill="#808080" stroke="none" stroke-width="1"/>
<circle cx="498.63" cy="308.44" r="1.7" fill="#808080" stroke="none" stroke-width="1"/>
<circle cx="508.97" cy="324.04" r="1.7" fill="#808080" stroke="none" stroke-width="1"/>
<circle cx="519.3" cy="322.74" r="1.7" fill="#808080" stroke="none" stroke-width="1"/>
<circle cx="529.63" cy="311.26" r="1.7" fill="#808080" stroke="none" stroke-width="1"/>
<circle cx="539.97" cy="320.94" r="1.7" fill="#808080" stroke="none" stroke-width="1"/>
<circle cx="550.3" cy="326.03" r="1.7" fill="#808080" stroke="none" stroke-width="1"/>
<circle cx="560.63" cy="316.24" r="1.7" fill="#808080" stroke="none" stroke-width="1"/>
<circle cx="570.97" cy="332.39" r="1.7" fill="#808080" stroke="none" stroke-width="1"/>
<circle cx="581.3" cy="356.15" r="1.7" fill="#808080" stroke="none" stroke-width="1"/>
<circle cx="591.63" cy="330.57" r="1.7" fill="#808080" stroke="none" stroke-width="1"/>
<circle cx="601.97" cy="345.67" r="1.7" fill="#808080" stroke="none" stroke-width="1"/>
<circle cx="612.3" cy="349.79" r="1.7" fill="#808080" stroke="none" stroke-width="1"/>
<circle cx="622.63" cy="353.29" r="1.7" fill="#808080" stroke="none" stroke-width="1"/>
<circle cx="632.97" cy="351.93" r="1.7" fill="#808080" stroke="none" stroke-width="1"/>
<circle cx="643.3" cy="354.68" r="1.7" fill="#808080" stroke="none" stroke-width="1"/>
<circle cx="653.63" cy="356.96" r="1.7" fill="#808080" stroke="none" stroke-width="1"/>
<circle cx="663.97" cy="360.68" r="1.7" fill="#808080" stroke="none" stroke-width="1"/>
<circle cx="674.3" cy="360.67" r="1.7" fill="#808080" stroke="none" stroke-width="1"/>
<circle cx="395.3" cy="279.35" r="1.7" fill="#808080" stroke="none" stroke-width="1"/>
<circle cx="405.63" cy="293.37" r="1.7" fill="#808080" stroke="none" stroke-width="1"/>
<circle cx="415.97" cy="265.24" r="1.7" fill="#808080" stroke="none" stroke-width="1"/>
<circle cx="426.3" cy="273.28" r="1.7" fill="#808080" stroke="none" stroke-width="1"/>
<circle cx="436.63" cy="328.07" r="1.7" fill="#808080" stroke="none" stroke-width="1"/>
<circle cx="446.97" cy="327.28" r="1.7" fill="#808080" stroke="none" stroke-width="1"/>
<circle cx="457.3" cy="302.46" r="1.7" fill="#808080" stroke="none" stroke-width="1"/>
<circle cx="467.63" cy="305.98" r="1.7" fill="#808080" stroke="none" stroke-width="1"/>
<circle cx="477.97" cy="305.26" r="1.7" fill="#808080" stroke="none" stroke-width="1"/>
<circle cx="488.3" cy="277.17" r="1.7" fill="#808080" stroke="none" stroke-width="1"/>
<circle cx="498.63" cy="309.55" r="1.7" fill="#808080" stroke="none" stroke-width="1"/>
<circle cx="508.97" cy="324.32" r="1.7" fill="#808080" stroke="none" stroke-width="1"/>
<circle cx="519.3" cy="325.74" r="1.7" fill="#808080" stroke="none" stroke-width="1"/>
<circle cx="529.63" cy="315.82" r="1.7" fill="#808080" stroke="none" stroke-width="1"/>
<circle cx="539.97" cy="324.44" r="1.7" fill="#808080" stroke="none" stroke-width="1"/>
<circle cx="550.3" cy="326.79" r="1.7" fill="#808080" stroke="none" stroke-width="1"/>
<circle cx="560.63" cy="321.09" r="1.7" fill="#808080" stroke="none" stroke-width="1"/>
<circle cx="570.97" cy="334.08" r="1.7" fill="#808080" stroke="none" stroke-width="1"/>
<circle cx="581.3" cy="357.27" r="1.7" fill="#808080" stroke="none" stroke-width="1"/>
<circle cx="591.63" cy="335.37" r="1.7" fill="#808080" stroke="none" stroke-width="1"/>
<circle cx="601.97" cy="345.46" r="1.7" fill="#808080" stroke="none" stroke-width="1"/>
<circle cx="612.3" cy="347.39" r="1.7" fill="#808080" stroke="none" stroke-width="1"/>
<circle cx="622.63" cy="353.3" r="1.7" fill="#808080" stroke="none" stroke-width="1"/>
<circle cx="632.97" cy="353.26" r="1.7" fill="#808080" stroke="none" stroke-width="1"/>
<circle cx="643.3" cy="356.69" r="1.7" fill="#808080" stroke="none" stroke-width="1"/>
<circle cx="653.63" cy="358.42" r="1.7" fill="#808080" stroke="none" stroke-width="1"/>
<circle cx="663.97" cy="359.05" r="1.7" fill="#808080" stroke="none" stroke-width="1"/>
<circle cx="674.3" cy="359.67" r="1.7" fill="#808080" stroke="none" stroke-width="1"/>
<circle cx="395.3" cy="283.48" r="1.7" fill="#808080" stroke="none" stroke-width="1"/>
<circle cx="405.63" cy="292.97" r="1.7" fill="#808080" stroke="none" stroke-width="1"/>
<circle cx="415.97" cy="267.44" r="1.7" fill="#808080" stroke="none" stroke-width="1"/>
<circle cx="426.3" cy="276.23" r="1.7" fill="#808080" stroke="none" stroke-width="1"/>
<circle cx="436.63" cy="329.4" r="1.7" fill="#808080" stroke="none" stroke-width="1"/>
<circle cx="446.97" cy="327.58" r="1.7" fill="#808080" stroke="none" stroke-width="1"/>
<circle cx="457.3" cy="305.54" r="1.7" fill="#808080" stroke="none" stroke-width="1"/>
<circle cx="467.63" cy="304.39" r="1.7" fill="#808080" stroke="none" stroke-width="1"/>
<circle cx="477.97" cy="307.56" r="1.7" fill="#808080" stroke="none" stroke-width="1"/>
<circle cx="488.3" cy="279.27" r="1.7" fill="#808080" stroke="none" stroke-width="1"/>
<circle cx="498.63" cy="310.6" r="1.7" fill="#808080" stroke="none" stroke-width="1"/>
<circle cx="508.97" cy="326" r="1.7" fill="#808080" stroke="none" stroke-width="1"/>
<circle cx="519.3" cy="325.5" r="1.7" fill="#808080" stroke="none" stroke-width="1"/>
<circle cx="529.63" cy="312.22" r="1.7" fill="#808080" stroke="none" stroke-width="1"/>
<circle cx="539.97" cy="322.07" r="1.7" fill="#808080" stroke="none" stroke-width="1"/>
<circle cx="550.3" cy="328.2" r="1.7" fill="#808080" stroke="none" stroke-width="1"/>
<circle cx="560.63" cy="321.33" r="1.7" fill="#808080" stroke="none" stroke-width="1"/>
<circle cx="570.97" cy="331.46" r="1.7" fill="#808080" stroke="none" stroke-width="1"/>
<circle cx="581.3" cy="357.83" r="1.7" fill="#808080" stroke="none" stroke-width="1"/>
<circle cx="591.63" cy="340.31" r="1.7" fill="#808080" stroke="none" stroke-width="1"/>
<circle cx="601.97" cy="344.84" r="1.7" fill="#808080" stroke="none" stroke-width="1"/>
<circle cx="612.3" cy="348.69" r="1.7" fill="#808080" stroke="none" stroke-width="1"/>
<circle cx="622.63" cy="351.8" r="1.7" fill="#808080" stroke="none" stroke-width="1"/>
<circle cx="632.97" cy="352.52" r="1.7" fill="#808080" stroke="none" stroke-width="1"/>
<circle cx="643.3" cy="355.83" r="1.7" fill="#808080" stroke="none" stroke-width="1"/>
<circle cx="653.63" cy="357.12" r="1.7" fill="#808080" stroke="none" stroke-width="1"/>
<circle cx="663.97" cy="359.44" r="1.7" fill="#808080" stroke="none" stroke-width="1"/>
<circle cx="674.3" cy="360.71" r="1.7" fill="#808080" stroke="none" stroke-width="1"/>
<circle cx="395.3" cy="282.45" r="1.7" fill="#808080" stroke="none" stroke-width="1"/>
<circle cx="405.63" cy="295.8" r="1.7" fill="#808080" stroke="none" stroke-width="1"/>
<circle cx="415.97" cy="270.12" r="1.7" fill="#808080" stroke="none" stroke-width="1"/>
<circle cx="426.3" cy="277.76" r="1.7" fill="#808080" stroke="none" stroke-width="1"/>
<circle cx="436.63" cy="330.44" r="1.7" fill="#808080" stroke="none" stroke-width="1"/>
<circle cx="446.97" cy="327.42" r="1.7" fill="#808080" stroke="none" stroke-width="1"/>
<circle cx="457.3" cy="304.02" r="1.7" fill="#808080" stroke="none" stroke-width="1"/>
<circle cx="467.63" cy="305.19" r="1.7" fill="#808080" stroke="none" stroke-width="1"/>
<circle cx="477.97" cy="305.89" r="1.7" fill="#808080" stroke="none" stroke-width="1"/>
<circle cx="488.3" cy="280.78" r="1.7" fill="#808080" stroke="none" stroke-width="1"/>
<circle cx="498.63" cy="312.8" r="1.7" fill="#808080" stroke="none" stroke-width="1"/>
<circle cx="508.97" cy="325.58" r="1.7" fill="#808080" stroke="none" stroke-width="1"/>
<circle cx="519.3" cy="329.26" r="1.7" fill="#808080" stroke="none" stroke-width="1"/>
<circle cx="529.63" cy="315.94" r="1.7" fill="#808080" stroke="none" stroke-width="1"/>
<circle cx="539.97" cy="325.9" r="1.7" fill="#808080" stroke="none" stroke-width="1"/>
<circle cx="550.3" cy="325.48" r="1.7" fill="#808080" stroke="none" stroke-width="1"/>
<circle cx="560.63" cy="321.02" r="1.7" fill="#808080" stroke="none" stroke-width="1"/>
<circle cx="570.97" cy="332.48" r="1.7" fill="#808080" stroke="none" stroke-width="1"/>
<circle cx="581.3" cy="356.48" r="1.7" fill="#808080" stroke="none" stroke-width="1"/>
<circle cx="591.63" cy="337.31" r="1.7" fill="#808080" stroke="none" stroke-width="1"/>
<circle cx="601.97" cy="348.5" r="1.7" fill="#808080" stroke="none" stroke-width="1"/>
<circle cx="612.3" cy="353" r="1.7" fill="#808080" stroke="none" stroke-width="1"/>
<circle cx="622.63" cy="355.2" r="1.7" fill="#808080" stroke="none" stroke-width="1"/>
<circle cx="632.97" cy="352.93" r="1.7" fill="#808080" stroke="none" stroke-width="1"/>
<circle cx="643.3" cy="355.34" r="1.7" fill="#808080" stroke="none" stroke-width="1"/>
<circle cx="653.63" cy="359.83" r="1.7" fill="#808080" stroke="none" stroke-width="1"/>
<circle cx="663.97" cy="361.8" r="1.7" fill="#808080" stroke="none" stroke-width="1"/>
<circle cx="674.3" cy="361.78" r="1.7" fill="#808080" stroke="none" stroke-width="1"/>
<circle cx="395.3" cy="283.52" r="1.7" fill="#808080" stroke="none" stroke-width="1"/>
<circle cx="405.63" cy="293.67" r="1.7" fill="#808080" stroke="none" stroke-width="1"/>
<circle cx="415.97" cy="269.02" r="1.7" fill="#808080" stroke="none" stroke-width="1"/>
<circle cx="426.3" cy="280.5" r="1.7" fill="#808080" stroke="none" stroke-width="1"/>
<circle cx="436.63" cy="332" r="1.7" fill="#808080" stroke="none" stroke-width="1"/>
<circle cx="446.97" cy="328.7" r="1.7" fill="#808080" stroke="none" stroke-width="1"/>
<circle cx="457.3" cy="305.7" r="1.7" fill="#808080" stroke="none" stroke-width="1"/>
<circle cx="467.63" cy="305.45" r="1.7" fill="#808080" stroke="none" stroke-width="1"/>
<circle cx="477.97" cy="306.76" r="1.7" fill="#808080" stroke="none" stroke-width="1"/>
<circle cx="488.3" cy="281.28" r="1.7" fill="#808080" stroke="none" stroke-width="1"/>
<circle cx="498.63" cy="312.08" r="1.7" fill="#808080" stroke="none" stroke-width="1"/>
<circle cx="508.97" cy="328.8" r="1.7" fill="#808080" stroke="none" stroke-width="1"/>
<circle cx="519.3" cy="331.8" r="1.7" fill="#808080" stroke="none" stroke-width="1"/>
<circle cx="529.63" cy="317.2" r="1.7" fill="#808080" stroke="none" stroke-width="1"/>
<circle cx="539.97" cy="325.78" r="1.7" fill="#808080" stroke="none" stroke-width="1"/>
<circle cx="550.3" cy="328.8" r="1.7" fill="#808080" stroke="none" stroke-width="1"/>
<circle cx="560.63" cy="323.19" r="1.7" fill="#808080" stroke="none" stroke-width="1"/>
<circle cx="570.97" cy="334.88" r="1.7" fill="#808080" stroke="none" stroke-width="1"/>
<circle cx="581.3" cy="355.72" r="1.7" fill="#808080" stroke="none" stroke-width="1"/>
<circle cx="591.63" cy="340.5" r="1.7" fill="#808080" stroke="none" stroke-width="1"/>
<circle cx="601.97" cy="345.67" r="1.7" fill="#808080" stroke="none" stroke-width="1"/>
<circle cx="612.3" cy="353" r="1.7" fill="#808080" stroke="none" stroke-width="1"/>
<circle cx="622.63" cy="355.08" r="1.7" fill="#808080" stroke="none" stroke-width="1"/>
<circle cx="632.97" cy="354.74" r="1.7" fill="#808080" stroke="none" stroke-width="1"/>
<circle cx="643.3" cy="356.32" r="1.7" fill="#808080" stroke="none" stroke-width="1"/>
<circle cx="653.63" cy="358.86" r="1.7" fill="#808080" stroke="none" stroke-width="1"/>
<circle cx="663.97" cy="361.69" r="1.7" fill="#808080" stroke="none" stroke-width="1"/>
<circle cx="674.3" cy="362.8" r="1.7" fill="#808080" stroke="none" stroke-width="1"/>
<circle cx="395.3" cy="281.84" r="1.7" fill="#808080" stroke="none" stroke-width="1"/>
<circle cx="405.63" cy="294.44" r="1.7" fill="#808080" stroke="none" stroke-width="1"/>
<circle cx="415.97" cy="270.7" r="1.7" fill="#808080" stroke="none" stroke-width="1"/>
<circle cx="426.3" cy="280.5" r="1.7" fill="#808080" stroke="none" stroke-width="1"/>
<circle cx="436.63" cy="331.6" r="1.7" fill="#808080" stroke="none" stroke-width="1"/>
<circle cx="446.97" cy="327.61" r="1.7" fill="#808080" stroke="none" stroke-width="1"/>
<circle cx="457.3" cy="305.7" r="1.7" fill="#808080" stroke="none" stroke-width="1"/>
<circle cx="467.63" cy="305.25" r="1.7" fill="#808080" stroke="none" stroke-width="1"/>
<circle cx="477.97" cy="308.21" r="1.7" fill="#808080" stroke="none" stroke-width="1"/>
<circle cx="488.3" cy="286.11" r="1.7" fill="#808080" stroke="none" stroke-width="1"/>
<circle cx="498.63" cy="312.8" r="1.7" fill="#808080" stroke="none" stroke-width="1"/>
<circle cx="508.97" cy="328.8" r="1.7" fill="#808080" stroke="none" stroke-width="1"/>
<circle cx="519.3" cy="331.8" r="1.7" fill="#808080" stroke="none" stroke-width="1"/>
<circle cx="529.63" cy="317.06" r="1.7" fill="#808080" stroke="none" stroke-width="1"/>
<circle cx="539.97" cy="324.65" r="1.7" fill="#808080" stroke="none" stroke-width="1"/>
<circle cx="550.3" cy="327.47" r="1.7" fill="#808080" stroke="none" stroke-width="1"/>
<circle cx="560.63" cy="324.5" r="1.7" fill="#808080" stroke="none" stroke-width="1"/>
<circle cx="570.97" cy="335.5" r="1.7" fill="#808080" stroke="none" stroke-width="1"/>
<circle cx="581.3" cy="357.52" r="1.7" fill="#808080" stroke="none" stroke-width="1"/>
<circle cx="591.63" cy="336.7" r="1.7" fill="#808080" stroke="none" stroke-width="1"/>
<circle cx="601.97" cy="348.49" r="1.7" fill="#808080" stroke="none" stroke-width="1"/>
<circle cx="612.3" cy="353" r="1.7" fill="#808080" stroke="none" stroke-width="1"/>
<circle cx="622.63" cy="354.87" r="1.7" fill="#808080" stroke="none" stroke-width="1"/>
<circle cx="632.97" cy="355.24" r="1.7" fill="#808080" stroke="none" stroke-width="1"/>
<circle cx="643.3" cy="358.3" r="1.7" fill="#808080" stroke="none" stroke-width="1"/>
<circle cx="653.63" cy="360.3" r="1.7" fill="#808080" stroke="none" stroke-width="1"/>
<circle cx="663.97" cy="360.97" r="1.7" fill="#808080" stroke="none" stroke-width="1"/>
<circle cx="674.3" cy="361.53" r="1.7" fill="#808080" stroke="none" stroke-width="1"/>
<line x1="395.3" y1="380.98" x2="398.3" y2="380.98" stroke="#231815" stroke-width="1.1"/>
<text x="387.6" y="383.88" font-size="8.2" text-anchor="end" fill="#231815" stroke="#231815" stroke-width="0.25">1</text>
<line x1="395.3" y1="345.26" x2="398.3" y2="345.26" stroke="#231815" stroke-width="1.1"/>
<text x="387.6" y="348.16" font-size="8.2" text-anchor="end" fill="#231815" stroke="#231815" stroke-width="0.25">10</text>
<line x1="395.3" y1="309.54" x2="398.3" y2="309.54" stroke="#231815" stroke-width="1.1"/>
<text x="387.6" y="312.44" font-size="8.2" text-anchor="end" fill="#231815" stroke="#231815" stroke-width="0.25">100</text>
<line x1="395.3" y1="273.82" x2="398.3" y2="273.82" stroke="#231815" stroke-width="1.1"/>
<text x="387.6" y="276.72" font-size="8.2" text-anchor="end" fill="#231815" stroke="#231815" stroke-width="0.25">1000</text>
<text x="387.6" y="419.6" font-size="8.2" text-anchor="end" fill="#231815" stroke="#231815" stroke-width="0.25">0.1</text>
<text x="387.6" y="241" font-size="8.2" text-anchor="end" fill="#231815" stroke="#231815" stroke-width="0.25">10000</text>
<line x1="405.63" y1="416.7" x2="405.63" y2="413.7" stroke="#231815" stroke-width="1.1"/>
<line x1="415.97" y1="416.7" x2="415.97" y2="413.7" stroke="#231815" stroke-width="1.1"/>
<line x1="426.3" y1="416.7" x2="426.3" y2="413.7" stroke="#231815" stroke-width="1.1"/>
<line x1="436.63" y1="416.7" x2="436.63" y2="413.7" stroke="#231815" stroke-width="1.1"/>
<line x1="446.97" y1="416.7" x2="446.97" y2="413.7" stroke="#231815" stroke-width="1.1"/>
<line x1="457.3" y1="416.7" x2="457.3" y2="413.7" stroke="#231815" stroke-width="1.1"/>
<line x1="467.63" y1="416.7" x2="467.63" y2="413.7" stroke="#231815" stroke-width="1.1"/>
<line x1="477.97" y1="416.7" x2="477.97" y2="413.7" stroke="#231815" stroke-width="1.1"/>
<line x1="488.3" y1="416.7" x2="488.3" y2="413.7" stroke="#231815" stroke-width="1.1"/>
<line x1="498.63" y1="416.7" x2="498.63" y2="413.7" stroke="#231815" stroke-width="1.1"/>
<line x1="508.97" y1="416.7" x2="508.97" y2="413.7" stroke="#231815" stroke-width="1.1"/>
<line x1="519.3" y1="416.7" x2="519.3" y2="413.7" stroke="#231815" stroke-width="1.1"/>
<line x1="529.63" y1="416.7" x2="529.63" y2="413.7" stroke="#231815" stroke-width="1.1"/>
<line x1="539.97" y1="416.7" x2="539.97" y2="413.7" stroke="#231815" stroke-width="1.1"/>
<line x1="550.3" y1="416.7" x2="550.3" y2="413.7" stroke="#231815" stroke-width="1.1"/>
<line x1="560.63" y1="416.7" x2="560.63" y2="413.7" stroke="#231815" stroke-width="1.1"/>
<line x1="570.97" y1="416.7" x2="570.97" y2="413.7" stroke="#231815" stroke-width="1.1"/>
<line x1="581.3" y1="416.7" x2="581.3" y2="413.7" stroke="#231815" stroke-width="1.1"/>
<line x1="591.63" y1="416.7" x2="591.63" y2="413.7" stroke="#231815" stroke-width="1.1"/>
<line x1="601.97" y1="416.7" x2="601.97" y2="413.7" stroke="#231815" stroke-width="1.1"/>
<line x1="612.3" y1="416.7" x2="612.3" y2="413.7" stroke="#231815" stroke-width="1.1"/>
<line x1="622.63" y1="416.7" x2="622.63" y2="413.7" stroke="#231815" stroke-width="1.1"/>
<line x1="632.97" y1="416.7" x2="632.97" y2="413.7" stroke="#231815" stroke-width="1.1"/>
<line x1="643.3" y1="416.7" x2="643.3" y2="413.7" stroke="#231815" stroke-width="1.1"/>
<line x1="653.63" y1="416.7" x2="653.63" y2="413.7" stroke="#231815" stroke-width="1.1"/>
<line x1="663.97" y1="416.7" x2="663.97" y2="413.7" stroke="#231815" stroke-width="1.1"/>
<text x="398.2" y="422.4" font-size="8.2" text-anchor="end" fill="#231815" stroke="#231815" stroke-width="0.25" transform="rotate(-90 398.2 422.4)">Rb</text>
<text x="408.53" y="422.4" font-size="8.2" text-anchor="end" fill="#231815" stroke="#231815" stroke-width="0.25" transform="rotate(-90 408.53 422.4)">Ba</text>
<text x="418.87" y="422.4" font-size="8.2" text-anchor="end" fill="#231815" stroke="#231815" stroke-width="0.25" transform="rotate(-90 418.87 422.4)">Th</text>
<text x="429.2" y="422.4" font-size="8.2" text-anchor="end" fill="#231815" stroke="#231815" stroke-width="0.25" transform="rotate(-90 429.2 422.4)">U</text>
<text x="439.53" y="422.4" font-size="8.2" text-anchor="end" fill="#231815" stroke="#231815" stroke-width="0.25" transform="rotate(-90 439.53 422.4)">Nb</text>
<text x="449.87" y="422.4" font-size="8.2" text-anchor="end" fill="#231815" stroke="#231815" stroke-width="0.25" transform="rotate(-90 449.87 422.4)">Ta</text>
<text x="460.2" y="422.4" font-size="8.2" text-anchor="end" fill="#231815" stroke="#231815" stroke-width="0.25" transform="rotate(-90 460.2 422.4)">K</text>
<text x="470.53" y="422.4" font-size="8.2" text-anchor="end" fill="#231815" stroke="#231815" stroke-width="0.25" transform="rotate(-90 470.53 422.4)">La</text>
<text x="480.87" y="422.4" font-size="8.2" text-anchor="end" fill="#231815" stroke="#231815" stroke-width="0.25" transform="rotate(-90 480.87 422.4)">Ce</text>
<text x="491.2" y="422.4" font-size="8.2" text-anchor="end" fill="#231815" stroke="#231815" stroke-width="0.25" transform="rotate(-90 491.2 422.4)">Pb</text>
<text x="501.53" y="422.4" font-size="8.2" text-anchor="end" fill="#231815" stroke="#231815" stroke-width="0.25" transform="rotate(-90 501.53 422.4)">Pr</text>
<text x="511.87" y="422.4" font-size="8.2" text-anchor="end" fill="#231815" stroke="#231815" stroke-width="0.25" transform="rotate(-90 511.87 422.4)">Sr</text>
<text x="522.2" y="422.4" font-size="8.2" text-anchor="end" fill="#231815" stroke="#231815" stroke-width="0.25" transform="rotate(-90 522.2 422.4)">P</text>
<text x="532.53" y="422.4" font-size="8.2" text-anchor="end" fill="#231815" stroke="#231815" stroke-width="0.25" transform="rotate(-90 532.53 422.4)">Nd</text>
<text x="542.87" y="422.4" font-size="8.2" text-anchor="end" fill="#231815" stroke="#231815" stroke-width="0.25" transform="rotate(-90 542.87 422.4)">Zr</text>
<text x="553.2" y="422.4" font-size="8.2" text-anchor="end" fill="#231815" stroke="#231815" stroke-width="0.25" transform="rotate(-90 553.2 422.4)">Hf</text>
<text x="563.53" y="422.4" font-size="8.2" text-anchor="end" fill="#231815" stroke="#231815" stroke-width="0.25" transform="rotate(-90 563.53 422.4)">Sm</text>
<text x="573.87" y="422.4" font-size="8.2" text-anchor="end" fill="#231815" stroke="#231815" stroke-width="0.25" transform="rotate(-90 573.87 422.4)">Eu</text>
<text x="584.2" y="422.4" font-size="8.2" text-anchor="end" fill="#231815" stroke="#231815" stroke-width="0.25" transform="rotate(-90 584.2 422.4)">Ti</text>
<text x="594.53" y="422.4" font-size="8.2" text-anchor="end" fill="#231815" stroke="#231815" stroke-width="0.25" transform="rotate(-90 594.53 422.4)">Gd</text>
<text x="604.87" y="422.4" font-size="8.2" text-anchor="end" fill="#231815" stroke="#231815" stroke-width="0.25" transform="rotate(-90 604.87 422.4)">Tb</text>
<text x="615.2" y="422.4" font-size="8.2" text-anchor="end" fill="#231815" stroke="#231815" stroke-width="0.25" transform="rotate(-90 615.2 422.4)">Dy</text>
<text x="625.53" y="422.4" font-size="8.2" text-anchor="end" fill="#231815" stroke="#231815" stroke-width="0.25" transform="rotate(-90 625.53 422.4)">Y</text>
<text x="635.87" y="422.4" font-size="8.2" text-anchor="end" fill="#231815" stroke="#231815" stroke-width="0.25" transform="rotate(-90 635.87 422.4)">Ho</text>
<text x="646.2" y="422.4" font-size="8.2" text-anchor="end" fill="#231815" stroke="#231815" stroke-width="0.25" transform="rotate(-90 646.2 422.4)">Er</text>
<text x="656.53" y="422.4" font-size="8.2" text-anchor="end" fill="#231815" stroke="#231815" stroke-width="0.25" transform="rotate(-90 656.53 422.4)">Tm</text>
<text x="666.87" y="422.4" font-size="8.2" text-anchor="end" fill="#231815" stroke="#231815" stroke-width="0.25" transform="rotate(-90 666.87 422.4)">Yb</text>
<text x="677.2" y="422.4" font-size="8.2" text-anchor="end" fill="#231815" stroke="#231815" stroke-width="0.25" transform="rotate(-90 677.2 422.4)">Lu</text>
<text x="362.7" y="330.9" font-size="12.35" text-anchor="middle" fill="#231815" stroke="#231815" stroke-width="0.12" transform="rotate(-90 362.7 330.9)">Samples/Primitive Mantle</text>
<text x="667.6" y="320.2" font-size="9.5" text-anchor="end" font-weight="bold" fill="#231815">Ultrapotassic</text>
<text x="667.6" y="329.3" font-size="9.5" text-anchor="end" font-weight="bold" fill="#231815">host rock</text>
<line x1="632.5" y1="332" x2="632.5" y2="338.8" stroke="#231815" stroke-width="1.1"/>
<path d="M632.5 343.6 L630.1 338 L632.5 339.6 L634.9 338 Z" fill="#231815"/>
<rect x="404.5" y="391" width="71.3" height="18.2" fill="#fff" stroke="#231815" stroke-width="1.2"/>
<text x="440.15" y="404.1" font-size="12.3" text-anchor="middle" fill="#231815" stroke="#231815" stroke-width="0.12">Whole rock</text>
<rect x="651.2" y="238" width="23.6" height="22.9" fill="#231815"/>
<text x="663" y="256.8" font-size="22" text-anchor="middle" font-weight="bold" fill="#fff">D</text>
<path d="M52.7 447.4 H332.3 V625.2" fill="none" stroke="#231815" stroke-width="1.2"/>
<path d="M52.7 447.4 V625.2 H332.3" fill="none" stroke="#231815" stroke-width="1.35"/>
<line x1="52.7" y1="595.57" x2="55.7" y2="595.57" stroke="#231815" stroke-width="1.1"/>
<text x="44.4" y="599.07" font-size="9.8" text-anchor="end" fill="#231815" stroke="#231815" stroke-width="0.25">0.716</text>
<line x1="52.7" y1="565.93" x2="55.7" y2="565.93" stroke="#231815" stroke-width="1.1"/>
<text x="44.4" y="569.43" font-size="9.8" text-anchor="end" fill="#231815" stroke="#231815" stroke-width="0.25">0.717</text>
<line x1="52.7" y1="536.3" x2="55.7" y2="536.3" stroke="#231815" stroke-width="1.1"/>
<text x="44.4" y="539.8" font-size="9.8" text-anchor="end" fill="#231815" stroke="#231815" stroke-width="0.25">0.718</text>
<line x1="52.7" y1="506.67" x2="55.7" y2="506.67" stroke="#231815" stroke-width="1.1"/>
<text x="44.4" y="510.17" font-size="9.8" text-anchor="end" fill="#231815" stroke="#231815" stroke-width="0.25">0.719</text>
<line x1="52.7" y1="477.03" x2="55.7" y2="477.03" stroke="#231815" stroke-width="1.1"/>
<text x="44.4" y="480.53" font-size="9.8" text-anchor="end" fill="#231815" stroke="#231815" stroke-width="0.25">0.720</text>
<text x="44.4" y="628.7" font-size="9.8" text-anchor="end" fill="#231815" stroke="#231815" stroke-width="0.25">0.715</text>
<text x="44.4" y="450.9" font-size="9.8" text-anchor="end" fill="#231815" stroke="#231815" stroke-width="0.25">0.721</text>
<line x1="145.6" y1="625.2" x2="145.6" y2="622.2" stroke="#231815" stroke-width="1.1"/>
<text x="145.6" y="639.8" font-size="9.5" text-anchor="middle" fill="#231815" stroke="#231815" stroke-width="0.25">0.5119</text>
<line x1="238.5" y1="625.2" x2="238.5" y2="622.2" stroke="#231815" stroke-width="1.1"/>
<text x="238.5" y="639.8" font-size="9.5" text-anchor="middle" fill="#231815" stroke="#231815" stroke-width="0.25">0.5120</text>
<text x="52.7" y="639.8" font-size="9.5" text-anchor="middle" fill="#231815" stroke="#231815" stroke-width="0.25">0.5118</text>
<text x="331.4" y="639.8" font-size="9.5" text-anchor="middle" fill="#231815" stroke="#231815" stroke-width="0.25">0.5121</text>
<text x="190" y="658.4" font-size="12.8" text-anchor="middle" fill="#231815"><tspan font-size="7.4" dy="-5">143</tspan><tspan dy="5">Nd/</tspan><tspan font-size="7.4" dy="-5">144</tspan><tspan dy="5">Nd</tspan></text>
<text x="9.9" y="534.6" font-size="12.1" text-anchor="middle" fill="#231815" transform="rotate(-90 9.9 534.6)"><tspan font-size="7.1" dy="-4.8">87</tspan><tspan dy="4.8">Sr/</tspan><tspan font-size="7.1" dy="-4.8">86</tspan><tspan dy="4.8">Sr</tspan></text>
<rect x="249.4" y="528.4" width="71" height="18.8" fill="#fff" stroke="#231815" stroke-width="1.2"/>
<text x="284.9" y="541.8" font-size="12.3" text-anchor="middle" fill="#231815" stroke="#231815" stroke-width="0.12">Whole rock</text>
<circle cx="119.8" cy="479.6" r="2.75" fill="none" stroke="#48B955" stroke-width="1.05"/>
<circle cx="133.6" cy="480.9" r="2.75" fill="none" stroke="#48B955" stroke-width="1.05"/>
<circle cx="115" cy="492.6" r="2.75" fill="none" stroke="#48B955" stroke-width="1.05"/>
<circle cx="133.2" cy="488.9" r="2.75" fill="none" stroke="#48B955" stroke-width="1.05"/>
<circle cx="136.6" cy="488.2" r="2.75" fill="none" stroke="#48B955" stroke-width="1.05"/>
<circle cx="123.2" cy="503.2" r="2.75" fill="none" stroke="#48B955" stroke-width="1.05"/>
<circle cx="133.8" cy="506.2" r="2.75" fill="none" stroke="#48B955" stroke-width="1.05"/>
<circle cx="144.8" cy="505.5" r="2.75" fill="none" stroke="#48B955" stroke-width="1.05"/>
<circle cx="151.5" cy="502.4" r="2.75" fill="none" stroke="#48B955" stroke-width="1.05"/>
<circle cx="156" cy="507.2" r="2.75" fill="none" stroke="#48B955" stroke-width="1.05"/>
<circle cx="132.8" cy="513.1" r="2.75" fill="none" stroke="#48B955" stroke-width="1.05"/>
<circle cx="143.1" cy="512.8" r="2.75" fill="none" stroke="#48B955" stroke-width="1.05"/>
<circle cx="146.9" cy="515.5" r="2.75" fill="none" stroke="#48B955" stroke-width="1.05"/>
<circle cx="123.9" cy="506.6" r="3.7" fill="#48B955" stroke="none" stroke-width="1"/>
<circle cx="121.5" cy="515.4" r="3.7" fill="#48B955" stroke="none" stroke-width="1"/>
<circle cx="123.2" cy="540.7" r="3.7" fill="#48B955" stroke="none" stroke-width="1"/>
<circle cx="115.6" cy="549.6" r="3.7" fill="#48B955" stroke="none" stroke-width="1"/>
<circle cx="151.5" cy="572.5" r="3.7" fill="#48B955" stroke="none" stroke-width="1"/>
<circle cx="157.6" cy="577.6" r="3.7" fill="#48B955" stroke="none" stroke-width="1"/>
<circle cx="186.8" cy="584.7" r="2.75" fill="none" stroke="#DB7839" stroke-width="1.05"/>
<circle cx="189.7" cy="587.3" r="2.75" fill="none" stroke="#DB7839" stroke-width="1.05"/>
<circle cx="192.6" cy="589.7" r="2.75" fill="none" stroke="#DB7839" stroke-width="1.05"/>
<circle cx="207.4" cy="589.4" r="2.75" fill="none" stroke="#DB7839" stroke-width="1.05"/>
<circle cx="216.6" cy="575.8" r="2.75" fill="none" stroke="#DB7839" stroke-width="1.05"/>
<circle cx="220.3" cy="585.4" r="2.75" fill="none" stroke="#DB7839" stroke-width="1.05"/>
<circle cx="226.2" cy="585" r="2.75" fill="none" stroke="#DB7839" stroke-width="1.05"/>
<circle cx="230" cy="588.4" r="2.75" fill="none" stroke="#DB7839" stroke-width="1.05"/>
<circle cx="236.1" cy="583.7" r="2.75" fill="none" stroke="#DB7839" stroke-width="1.05"/>
<circle cx="238.7" cy="587.1" r="2.75" fill="none" stroke="#DB7839" stroke-width="1.05"/>
<circle cx="243.8" cy="587.7" r="2.75" fill="none" stroke="#DB7839" stroke-width="1.05"/>
<circle cx="182.1" cy="597.2" r="3.8" fill="#DB7839" stroke="none" stroke-width="1"/>
<circle cx="230" cy="594.2" r="3.8" fill="#DB7839" stroke="none" stroke-width="1"/>
<rect x="106.9" y="597.3" width="7.4" height="7.4" fill="#DB7839"/>
<rect x="144.7" y="589.8" width="7.4" height="7.4" fill="#DB7839"/>
<rect x="208.3" y="602" width="7.4" height="7.4" fill="#DB7839"/>
<rect x="241.2" y="600.1" width="7.4" height="7.4" fill="#DB7839"/>
<rect x="310" y="447.2" width="22.5" height="22.4" fill="#231815"/>
<text x="321.25" y="466" font-size="22" text-anchor="middle" font-weight="bold" fill="#fff">E</text>
<path d="M396.2 448.2 H674.5 V625.3" fill="none" stroke="#231815" stroke-width="1.2"/>
<path d="M396.2 448.2 V625.3 H674.5" fill="none" stroke="#231815" stroke-width="1.35"/>
<line x1="396.2" y1="595.78" x2="399.2" y2="595.78" stroke="#231815" stroke-width="1.1"/>
<text x="388.2" y="599.08" font-size="9.3" text-anchor="end" fill="#231815" stroke="#231815" stroke-width="0.25">0.716</text>
<line x1="396.2" y1="566.27" x2="399.2" y2="566.27" stroke="#231815" stroke-width="1.1"/>
<text x="388.2" y="569.57" font-size="9.3" text-anchor="end" fill="#231815" stroke="#231815" stroke-width="0.25">0.717</text>
<line x1="396.2" y1="536.75" x2="399.2" y2="536.75" stroke="#231815" stroke-width="1.1"/>
<text x="388.2" y="540.05" font-size="9.3" text-anchor="end" fill="#231815" stroke="#231815" stroke-width="0.25">0.718</text>
<line x1="396.2" y1="507.23" x2="399.2" y2="507.23" stroke="#231815" stroke-width="1.1"/>
<text x="388.2" y="510.53" font-size="9.3" text-anchor="end" fill="#231815" stroke="#231815" stroke-width="0.25">0.719</text>
<line x1="396.2" y1="477.72" x2="399.2" y2="477.72" stroke="#231815" stroke-width="1.1"/>
<text x="388.2" y="481.02" font-size="9.3" text-anchor="end" fill="#231815" stroke="#231815" stroke-width="0.25">0.720</text>
<text x="388.2" y="628.6" font-size="9.3" text-anchor="end" fill="#231815" stroke="#231815" stroke-width="0.25">0.715</text>
<text x="388.2" y="451.5" font-size="9.3" text-anchor="end" fill="#231815" stroke="#231815" stroke-width="0.25">0.721</text>
<line x1="421.5" y1="625.3" x2="421.5" y2="622.3" stroke="#231815" stroke-width="1.1"/>
<text x="421.5" y="639.3" font-size="9.3" text-anchor="middle" fill="#231815" stroke="#231815" stroke-width="0.25">10</text>
<line x1="446.8" y1="625.3" x2="446.8" y2="622.3" stroke="#231815" stroke-width="1.1"/>
<text x="446.8" y="639.3" font-size="9.3" text-anchor="middle" fill="#231815" stroke="#231815" stroke-width="0.25">15</text>
<line x1="472.1" y1="625.3" x2="472.1" y2="622.3" stroke="#231815" stroke-width="1.1"/>
<text x="472.1" y="639.3" font-size="9.3" text-anchor="middle" fill="#231815" stroke="#231815" stroke-width="0.25">20</text>
<line x1="497.4" y1="625.3" x2="497.4" y2="622.3" stroke="#231815" stroke-width="1.1"/>
<text x="497.4" y="639.3" font-size="9.3" text-anchor="middle" fill="#231815" stroke="#231815" stroke-width="0.25">25</text>
<line x1="522.7" y1="625.3" x2="522.7" y2="622.3" stroke="#231815" stroke-width="1.1"/>
<text x="522.7" y="639.3" font-size="9.3" text-anchor="middle" fill="#231815" stroke="#231815" stroke-width="0.25">30</text>
<line x1="548" y1="625.3" x2="548" y2="622.3" stroke="#231815" stroke-width="1.1"/>
<text x="548" y="639.3" font-size="9.3" text-anchor="middle" fill="#231815" stroke="#231815" stroke-width="0.25">35</text>
<line x1="573.3" y1="625.3" x2="573.3" y2="622.3" stroke="#231815" stroke-width="1.1"/>
<text x="573.3" y="639.3" font-size="9.3" text-anchor="middle" fill="#231815" stroke="#231815" stroke-width="0.25">40</text>
<line x1="598.6" y1="625.3" x2="598.6" y2="622.3" stroke="#231815" stroke-width="1.1"/>
<text x="598.6" y="639.3" font-size="9.3" text-anchor="middle" fill="#231815" stroke="#231815" stroke-width="0.25">45</text>
<line x1="623.9" y1="625.3" x2="623.9" y2="622.3" stroke="#231815" stroke-width="1.1"/>
<text x="623.9" y="639.3" font-size="9.3" text-anchor="middle" fill="#231815" stroke="#231815" stroke-width="0.25">50</text>
<line x1="649.2" y1="625.3" x2="649.2" y2="622.3" stroke="#231815" stroke-width="1.1"/>
<text x="649.2" y="639.3" font-size="9.3" text-anchor="middle" fill="#231815" stroke="#231815" stroke-width="0.25">55</text>
<text x="396.2" y="639.3" font-size="9.3" text-anchor="middle" fill="#231815" stroke="#231815" stroke-width="0.25">5</text>
<text x="674.5" y="639.3" font-size="9.3" text-anchor="middle" fill="#231815" stroke="#231815" stroke-width="0.25">60</text>
<text x="539.7" y="655.7" font-size="12.9" text-anchor="middle" fill="#231815">(La/Yb)<tspan font-size="7.4" dy="3.3">N</tspan></text>
<text x="356.7" y="535.3" font-size="12.1" text-anchor="middle" fill="#231815" transform="rotate(-90 356.7 535.3)"><tspan font-size="7.1" dy="-4.8">87</tspan><tspan dy="4.8">Sr/</tspan><tspan font-size="7.1" dy="-4.8">86</tspan><tspan dy="4.8">Sr</tspan></text>
<rect x="599" y="598.8" width="71.1" height="18.6" fill="#fff" stroke="#231815" stroke-width="1.2"/>
<text x="634.55" y="612.1" font-size="12.3" text-anchor="middle" fill="#231815" stroke="#231815" stroke-width="0.12">Whole rock</text>
<line x1="423.5" y1="574.5" x2="463.5" y2="508.5" stroke="#48B955" stroke-width="1.6" stroke-dasharray="2.2 2.4"/>
<line x1="414.5" y1="603.2" x2="446" y2="593.8" stroke="#DB7839" stroke-width="1.6" stroke-dasharray="2.2 2.4"/>
<text x="460.8" y="534.4" font-size="8.4" fill="#48B955">R<tspan font-size="5.5" dy="-3">2</tspan><tspan dy="3"> = 0.90</tspan></text>
<text x="461.3" y="592.7" font-size="8.4" fill="#DB7839">R<tspan font-size="5.5" dy="-3">2</tspan><tspan dy="3"> = 0.69</tspan></text>
<circle cx="521.8" cy="507.6" r="2.75" fill="none" stroke="#48B955" stroke-width="1.05"/>
<circle cx="543.8" cy="482.9" r="2.75" fill="none" stroke="#48B955" stroke-width="1.05"/>
<circle cx="554.8" cy="480.4" r="2.75" fill="none" stroke="#48B955" stroke-width="1.05"/>
<circle cx="559" cy="493.5" r="2.75" fill="none" stroke="#48B955" stroke-width="1.05"/>
<circle cx="573.6" cy="489.7" r="2.75" fill="none" stroke="#48B955" stroke-width="1.05"/>
<circle cx="543" cy="504.9" r="2.75" fill="none" stroke="#48B955" stroke-width="1.05"/>
<circle cx="550.4" cy="503.4" r="2.75" fill="none" stroke="#48B955" stroke-width="1.05"/>
<circle cx="555.2" cy="508.1" r="2.75" fill="none" stroke="#48B955" stroke-width="1.05"/>
<circle cx="564.1" cy="504.9" r="2.75" fill="none" stroke="#48B955" stroke-width="1.05"/>
<circle cx="572.6" cy="505.3" r="2.75" fill="none" stroke="#48B955" stroke-width="1.05"/>
<circle cx="574.1" cy="510.2" r="2.75" fill="none" stroke="#48B955" stroke-width="1.05"/>
<circle cx="588.2" cy="506.4" r="2.75" fill="none" stroke="#48B955" stroke-width="1.05"/>
<circle cx="541.5" cy="514" r="2.75" fill="none" stroke="#48B955" stroke-width="1.05"/>
<circle cx="564.7" cy="514" r="2.75" fill="none" stroke="#48B955" stroke-width="1.05"/>
<circle cx="564.7" cy="515.9" r="2.75" fill="none" stroke="#48B955" stroke-width="1.05"/>
<circle cx="597.7" cy="516.5" r="2.75" fill="none" stroke="#48B955" stroke-width="1.05"/>
<circle cx="565.6" cy="546.3" r="2.75" fill="none" stroke="#48B955" stroke-width="1.05"/>
<circle cx="627.1" cy="482" r="2.75" fill="none" stroke="#48B955" stroke-width="1.05"/>
<circle cx="637.2" cy="489.4" r="2.75" fill="none" stroke="#48B955" stroke-width="1.05"/>
<circle cx="560.7" cy="585.4" r="2.75" fill="none" stroke="#DB7839" stroke-width="1.05"/>
<circle cx="583" cy="585.2" r="2.75" fill="none" stroke="#DB7839" stroke-width="1.05"/>
<circle cx="588" cy="587.8" r="2.75" fill="none" stroke="#DB7839" stroke-width="1.05"/>
<circle cx="586.9" cy="590.7" r="2.75" fill="none" stroke="#DB7839" stroke-width="1.05"/>
<circle cx="606" cy="590" r="2.75" fill="none" stroke="#DB7839" stroke-width="1.05"/>
<circle cx="616" cy="584.7" r="2.75" fill="none" stroke="#DB7839" stroke-width="1.05"/>
<circle cx="622.2" cy="576.4" r="2.75" fill="none" stroke="#DB7839" stroke-width="1.05"/>
<circle cx="627" cy="588.9" r="2.75" fill="none" stroke="#DB7839" stroke-width="1.05"/>
<circle cx="634" cy="585.8" r="2.75" fill="none" stroke="#DB7839" stroke-width="1.05"/>
<circle cx="641" cy="585.8" r="2.75" fill="none" stroke="#DB7839" stroke-width="1.05"/>
<circle cx="644.3" cy="587.6" r="2.75" fill="none" stroke="#DB7839" stroke-width="1.05"/>
<circle cx="650.4" cy="588.5" r="2.75" fill="none" stroke="#DB7839" stroke-width="1.05"/>
<circle cx="635.3" cy="584.1" r="2.75" fill="none" stroke="#48B955" stroke-width="1.05"/>
<circle cx="464.1" cy="507.5" r="3.7" fill="#48B955" stroke="none" stroke-width="1"/>
<circle cx="449.5" cy="515.8" r="3.7" fill="#48B955" stroke="none" stroke-width="1"/>
<circle cx="437.9" cy="541.3" r="3.7" fill="#48B955" stroke="none" stroke-width="1"/>
<circle cx="444.2" cy="550.3" r="3.7" fill="#48B955" stroke="none" stroke-width="1"/>
<circle cx="426.9" cy="572.6" r="3.7" fill="#48B955" stroke="none" stroke-width="1"/>
<circle cx="422.5" cy="577.9" r="3.7" fill="#48B955" stroke="none" stroke-width="1"/>
<circle cx="415.9" cy="597.2" r="3.7" fill="#DB7839" stroke="none" stroke-width="1"/>
<circle cx="435" cy="594.5" r="3.7" fill="#DB7839" stroke="none" stroke-width="1"/>
<rect x="444" y="590.5" width="7.2" height="7.2" fill="#DB7839"/>
<rect x="403.5" y="598.1" width="7.2" height="7.2" fill="#DB7839"/>
<rect x="403.5" y="601.7" width="7.2" height="7.2" fill="#DB7839"/>
<rect x="409" y="603.3" width="7.2" height="7.2" fill="#DB7839"/>
<rect x="651" y="447.9" width="23.5" height="22.6" fill="#231815"/>
<text x="662.75" y="466.7" font-size="22" text-anchor="middle" font-weight="bold" fill="#fff">F</text>
<path d="M53.3 663.6 H334 V841.2" fill="none" stroke="#231815" stroke-width="1.2"/>
<path d="M53.3 663.6 V841.2 H334" fill="none" stroke="#231815" stroke-width="1.35"/>
<line x1="53.3" y1="811.6" x2="56.3" y2="811.6" stroke="#231815" stroke-width="1.1"/>
<text x="45.3" y="814.4" font-size="9.6" text-anchor="end" fill="#231815" stroke="#231815" stroke-width="0.25">10</text>
<line x1="53.3" y1="782" x2="56.3" y2="782" stroke="#231815" stroke-width="1.1"/>
<text x="45.3" y="784.8" font-size="9.6" text-anchor="end" fill="#231815" stroke="#231815" stroke-width="0.25">20</text>
<line x1="53.3" y1="752.4" x2="56.3" y2="752.4" stroke="#231815" stroke-width="1.1"/>
<text x="45.3" y="755.2" font-size="9.6" text-anchor="end" fill="#231815" stroke="#231815" stroke-width="0.25">30</text>
<line x1="53.3" y1="722.8" x2="56.3" y2="722.8" stroke="#231815" stroke-width="1.1"/>
<text x="45.3" y="725.6" font-size="9.6" text-anchor="end" fill="#231815" stroke="#231815" stroke-width="0.25">40</text>
<line x1="53.3" y1="693.2" x2="56.3" y2="693.2" stroke="#231815" stroke-width="1.1"/>
<text x="45.3" y="696" font-size="9.6" text-anchor="end" fill="#231815" stroke="#231815" stroke-width="0.25">50</text>
<text x="45.3" y="844" font-size="9.6" text-anchor="end" fill="#231815" stroke="#231815" stroke-width="0.25">0</text>
<text x="45.3" y="666.4" font-size="9.6" text-anchor="end" fill="#231815" stroke="#231815" stroke-width="0.25">60</text>
<line x1="123.47" y1="841.2" x2="123.47" y2="838.2" stroke="#231815" stroke-width="1.1"/>
<text x="123.47" y="854.4" font-size="9.5" text-anchor="middle" fill="#231815" stroke="#231815" stroke-width="0.25">6</text>
<line x1="193.65" y1="841.2" x2="193.65" y2="838.2" stroke="#231815" stroke-width="1.1"/>
<text x="193.65" y="854.4" font-size="9.5" text-anchor="middle" fill="#231815" stroke="#231815" stroke-width="0.25">11</text>
<line x1="263.82" y1="841.2" x2="263.82" y2="838.2" stroke="#231815" stroke-width="1.1"/>
<text x="263.82" y="854.4" font-size="9.5" text-anchor="middle" fill="#231815" stroke="#231815" stroke-width="0.25">16</text>
<text x="53.3" y="854.4" font-size="9.5" text-anchor="middle" fill="#231815" stroke="#231815" stroke-width="0.25">1</text>
<text x="334" y="854.4" font-size="9.5" text-anchor="middle" fill="#231815" stroke="#231815" stroke-width="0.25">21</text>
<text x="195.1" y="872" font-size="12.6" text-anchor="middle" fill="#231815" stroke="#231815" stroke-width="0.12">Nb/Ta</text>
<text x="24.2" y="753" font-size="12.3" text-anchor="middle" fill="#231815" transform="rotate(-90 24.2 753)">(La/Yb)<tspan font-size="7.4" dy="3.3">N</tspan></text>
<rect x="64" y="750.5" width="71" height="18.5" fill="#fff" stroke="#231815" stroke-width="1.2"/>
<text x="99.5" y="763.75" font-size="12.3" text-anchor="middle" fill="#231815" stroke="#231815" stroke-width="0.12">Whole rock</text>
<circle cx="268.8" cy="677.6" r="2.75" fill="none" stroke="#DB7839" stroke-width="1.05"/>
<circle cx="265.2" cy="681.5" r="2.75" fill="none" stroke="#DB7839" stroke-width="1.05"/>
<circle cx="256.5" cy="683.2" r="2.75" fill="none" stroke="#DB7839" stroke-width="1.05"/>
<circle cx="265.6" cy="687.4" r="2.75" fill="none" stroke="#DB7839" stroke-width="1.05"/>
<circle cx="264.6" cy="692" r="2.75" fill="none" stroke="#DB7839" stroke-width="1.05"/>
<circle cx="257.2" cy="694.2" r="2.75" fill="none" stroke="#DB7839" stroke-width="1.05"/>
<circle cx="256.1" cy="698.4" r="2.75" fill="none" stroke="#DB7839" stroke-width="1.05"/>
<circle cx="238.1" cy="703.7" r="2.75" fill="none" stroke="#DB7839" stroke-width="1.05"/>
<circle cx="252.5" cy="710.5" r="2.75" fill="none" stroke="#DB7839" stroke-width="1.05"/>
<circle cx="270.9" cy="710.5" r="2.75" fill="none" stroke="#DB7839" stroke-width="1.05"/>
<circle cx="270.9" cy="713.8" r="2.75" fill="none" stroke="#DB7839" stroke-width="1.05"/>
<circle cx="280" cy="713.8" r="2.75" fill="none" stroke="#DB7839" stroke-width="1.05"/>
<circle cx="244.9" cy="714.3" r="2.75" fill="none" stroke="#DB7839" stroke-width="1.05"/>
<circle cx="233.4" cy="713.8" r="2.75" fill="none" stroke="#DB7839" stroke-width="1.05"/>
<circle cx="238.7" cy="716.8" r="2.75" fill="none" stroke="#DB7839" stroke-width="1.05"/>
<circle cx="238.7" cy="719.6" r="2.75" fill="none" stroke="#DB7839" stroke-width="1.05"/>
<circle cx="263.1" cy="717.9" r="2.75" fill="none" stroke="#DB7839" stroke-width="1.05"/>
<circle cx="273.7" cy="730.1" r="2.75" fill="none" stroke="#DB7839" stroke-width="1.05"/>
<circle cx="254.4" cy="736.9" r="2.75" fill="none" stroke="#DB7839" stroke-width="1.05"/>
<circle cx="294.8" cy="684.6" r="2.75" fill="none" stroke="#48B955" stroke-width="1.05"/>
<circle cx="298.9" cy="685.3" r="2.75" fill="none" stroke="#48B955" stroke-width="1.05"/>
<circle cx="297" cy="686.3" r="2.75" fill="none" stroke="#48B955" stroke-width="1.05"/>
<circle cx="295.3" cy="691" r="2.75" fill="none" stroke="#48B955" stroke-width="1.05"/>
<circle cx="291" cy="708.6" r="2.75" fill="none" stroke="#48B955" stroke-width="1.05"/>
<circle cx="299.1" cy="713.8" r="2.75" fill="none" stroke="#48B955" stroke-width="1.05"/>
<circle cx="247" cy="721.9" r="2.75" fill="none" stroke="#48B955" stroke-width="1.05"/>
<circle cx="209.9" cy="727" r="2.75" fill="none" stroke="#48B955" stroke-width="1.05"/>
<circle cx="293.1" cy="722.3" r="2.75" fill="none" stroke="#48B955" stroke-width="1.05"/>
<circle cx="297.4" cy="723.2" r="2.75" fill="none" stroke="#48B955" stroke-width="1.05"/>
<circle cx="288.9" cy="728" r="2.75" fill="none" stroke="#48B955" stroke-width="1.05"/>
<circle cx="301.2" cy="727" r="2.75" fill="none" stroke="#48B955" stroke-width="1.05"/>
<circle cx="304.1" cy="730.1" r="2.75" fill="none" stroke="#48B955" stroke-width="1.05"/>
<circle cx="293.1" cy="730.1" r="2.75" fill="none" stroke="#48B955" stroke-width="1.05"/>
<circle cx="296.3" cy="733.7" r="2.75" fill="none" stroke="#48B955" stroke-width="1.05"/>
<circle cx="288.9" cy="733.7" r="2.75" fill="none" stroke="#48B955" stroke-width="1.05"/>
<circle cx="284.3" cy="734.4" r="2.75" fill="none" stroke="#48B955" stroke-width="1.05"/>
<circle cx="278.3" cy="735" r="2.75" fill="none" stroke="#48B955" stroke-width="1.05"/>
<circle cx="302.7" cy="733.7" r="2.75" fill="none" stroke="#48B955" stroke-width="1.05"/>
<circle cx="294.2" cy="736.5" r="2.75" fill="none" stroke="#48B955" stroke-width="1.05"/>
<circle cx="276.2" cy="739.7" r="2.75" fill="none" stroke="#48B955" stroke-width="1.05"/>
<circle cx="291" cy="740.1" r="2.75" fill="none" stroke="#48B955" stroke-width="1.05"/>
<circle cx="293.1" cy="740.7" r="2.75" fill="none" stroke="#48B955" stroke-width="1.05"/>
<circle cx="298.4" cy="740.7" r="2.75" fill="none" stroke="#48B955" stroke-width="1.05"/>
<circle cx="265" cy="752.8" r="2.75" fill="none" stroke="#48B955" stroke-width="1.05"/>
<circle cx="178.8" cy="763.1" r="2.75" fill="none" stroke="#48B955" stroke-width="1.05"/>
<circle cx="245.8" cy="786.5" r="3.7" fill="#48B955" stroke="none" stroke-width="1"/>
<circle cx="232.7" cy="801.2" r="3.7" fill="#48B955" stroke="none" stroke-width="1"/>
<circle cx="247.1" cy="807.5" r="3.7" fill="#48B955" stroke="none" stroke-width="1"/>
<circle cx="256.3" cy="810.2" r="3.7" fill="#48B955" stroke="none" stroke-width="1"/>
<circle cx="271.3" cy="794.6" r="3.7" fill="#48B955" stroke="none" stroke-width="1"/>
<circle cx="272.4" cy="797.3" r="3.7" fill="#48B955" stroke="none" stroke-width="1"/>
<rect x="122.8" y="814.9" width="7.2" height="7.2" fill="#DB7839"/>
<rect x="123.8" y="815.7" width="7.2" height="7.2" fill="#DB7839"/>
<rect x="157.2" y="815.4" width="7.2" height="7.2" fill="#DB7839"/>
<rect x="175.6" y="812.3" width="7.2" height="7.2" fill="#DB7839"/>
<rect x="232.2" y="791.8" width="7.2" height="7.2" fill="#DB7839"/>
<rect x="232.2" y="794.2" width="7.2" height="7.2" fill="#DB7839"/>
<circle cx="222.7" cy="814.4" r="3.7" fill="#DB7839" stroke="none" stroke-width="1"/>
<circle cx="238.5" cy="803.1" r="3.7" fill="#DB7839" stroke="none" stroke-width="1"/>
<rect x="310.5" y="664" width="23.5" height="22.8" fill="#231815"/>
<text x="322.25" y="682.8" font-size="22" text-anchor="middle" font-weight="bold" fill="#fff">G</text>
<path d="M398.9 665.6 H678.4 V842" fill="none" stroke="#231815" stroke-width="1.2"/>
<path d="M398.9 665.6 V842 H678.4" fill="none" stroke="#231815" stroke-width="1.35"/>
<line x1="398.9" y1="812.6" x2="401.9" y2="812.6" stroke="#231815" stroke-width="1.1"/>
<text x="390.3" y="815.6" font-size="9.6" text-anchor="end" fill="#231815" stroke="#231815" stroke-width="0.25">10</text>
<line x1="398.9" y1="783.2" x2="401.9" y2="783.2" stroke="#231815" stroke-width="1.1"/>
<text x="390.3" y="786.2" font-size="9.6" text-anchor="end" fill="#231815" stroke="#231815" stroke-width="0.25">20</text>
<line x1="398.9" y1="753.8" x2="401.9" y2="753.8" stroke="#231815" stroke-width="1.1"/>
<text x="390.3" y="756.8" font-size="9.6" text-anchor="end" fill="#231815" stroke="#231815" stroke-width="0.25">30</text>
<line x1="398.9" y1="724.4" x2="401.9" y2="724.4" stroke="#231815" stroke-width="1.1"/>
<text x="390.3" y="727.4" font-size="9.6" text-anchor="end" fill="#231815" stroke="#231815" stroke-width="0.25">40</text>
<line x1="398.9" y1="695" x2="401.9" y2="695" stroke="#231815" stroke-width="1.1"/>
<text x="390.3" y="698" font-size="9.6" text-anchor="end" fill="#231815" stroke="#231815" stroke-width="0.25">50</text>
<text x="390.3" y="845" font-size="9.6" text-anchor="end" fill="#231815" stroke="#231815" stroke-width="0.25">0</text>
<text x="390.3" y="668.6" font-size="9.6" text-anchor="end" fill="#231815" stroke="#231815" stroke-width="0.25">60</text>
<line x1="454.8" y1="842" x2="454.8" y2="839" stroke="#231815" stroke-width="1.1"/>
<text x="454.8" y="857.6" font-size="9.5" text-anchor="middle" fill="#231815" stroke="#231815" stroke-width="0.25">45</text>
<line x1="510.7" y1="842" x2="510.7" y2="839" stroke="#231815" stroke-width="1.1"/>
<text x="510.7" y="857.6" font-size="9.5" text-anchor="middle" fill="#231815" stroke="#231815" stroke-width="0.25">50</text>
<line x1="566.6" y1="842" x2="566.6" y2="839" stroke="#231815" stroke-width="1.1"/>
<text x="566.6" y="857.6" font-size="9.5" text-anchor="middle" fill="#231815" stroke="#231815" stroke-width="0.25">55</text>
<line x1="622.5" y1="842" x2="622.5" y2="839" stroke="#231815" stroke-width="1.1"/>
<text x="622.5" y="857.6" font-size="9.5" text-anchor="middle" fill="#231815" stroke="#231815" stroke-width="0.25">60</text>
<text x="398.9" y="857.6" font-size="9.5" text-anchor="middle" fill="#231815" stroke="#231815" stroke-width="0.25">40</text>
<text x="678.4" y="857.6" font-size="9.5" text-anchor="middle" fill="#231815" stroke="#231815" stroke-width="0.25">65</text>
<text x="540.9" y="873.4" font-size="12.6" text-anchor="middle" fill="#231815">SiO<tspan font-size="7.4" dy="3.4">2</tspan><tspan dy="-3.4"> (wt%)</tspan></text>
<text x="367.4" y="752.4" font-size="12.3" text-anchor="middle" fill="#231815" transform="rotate(-90 367.4 752.4)">(La/Yb)<tspan font-size="7.4" dy="3.3">N</tspan></text>
<rect x="601.4" y="815" width="71.4" height="19.1" fill="#fff" stroke="#231815" stroke-width="1.2"/>
<text x="637.1" y="828.55" font-size="12.3" text-anchor="middle" fill="#231815" stroke="#231815" stroke-width="0.12">Whole rock</text>
<circle cx="572.4" cy="679.3" r="2.75" fill="none" stroke="#DB7839" stroke-width="1.05"/>
<circle cx="575.1" cy="682.8" r="2.75" fill="none" stroke="#DB7839" stroke-width="1.05"/>
<circle cx="579.3" cy="684.8" r="2.75" fill="none" stroke="#DB7839" stroke-width="1.05"/>
<circle cx="579.9" cy="689" r="2.75" fill="none" stroke="#DB7839" stroke-width="1.05"/>
<circle cx="580.9" cy="692.5" r="2.75" fill="none" stroke="#DB7839" stroke-width="1.05"/>
<circle cx="581.5" cy="695.4" r="2.75" fill="none" stroke="#DB7839" stroke-width="1.05"/>
<circle cx="580.4" cy="699.2" r="2.75" fill="none" stroke="#DB7839" stroke-width="1.05"/>
<circle cx="572.9" cy="705" r="2.75" fill="none" stroke="#DB7839" stroke-width="1.05"/>
<circle cx="538.3" cy="712.6" r="2.75" fill="none" stroke="#DB7839" stroke-width="1.05"/>
<circle cx="535" cy="715.8" r="2.75" fill="none" stroke="#DB7839" stroke-width="1.05"/>
<circle cx="573.7" cy="715.8" r="2.75" fill="none" stroke="#DB7839" stroke-width="1.05"/>
<circle cx="597.6" cy="712.1" r="2.75" fill="none" stroke="#DB7839" stroke-width="1.05"/>
<circle cx="590.5" cy="719.8" r="2.75" fill="none" stroke="#DB7839" stroke-width="1.05"/>
<circle cx="619" cy="715.8" r="2.75" fill="none" stroke="#DB7839" stroke-width="1.05"/>
<circle cx="615.7" cy="718.2" r="2.75" fill="none" stroke="#DB7839" stroke-width="1.05"/>
<circle cx="615.4" cy="721.1" r="2.75" fill="none" stroke="#DB7839" stroke-width="1.05"/>
<circle cx="578.8" cy="738.3" r="2.75" fill="none" stroke="#DB7839" stroke-width="1.05"/>
<circle cx="610.1" cy="686.1" r="2.75" fill="none" stroke="#48B955" stroke-width="1.05"/>
<circle cx="608.8" cy="687.7" r="2.75" fill="none" stroke="#48B955" stroke-width="1.05"/>
<circle cx="598.5" cy="692.8" r="2.75" fill="none" stroke="#48B955" stroke-width="1.05"/>
<circle cx="574" cy="709.8" r="2.75" fill="none" stroke="#48B955" stroke-width="1.05"/>
<circle cx="574" cy="716.3" r="2.75" fill="none" stroke="#48B955" stroke-width="1.05"/>
<circle cx="555.8" cy="724.6" r="2.75" fill="none" stroke="#48B955" stroke-width="1.05"/>
<circle cx="573.2" cy="723.8" r="2.75" fill="none" stroke="#48B955" stroke-width="1.05"/>
<circle cx="576.7" cy="723.8" r="2.75" fill="none" stroke="#48B955" stroke-width="1.05"/>
<circle cx="571.3" cy="729.1" r="2.75" fill="none" stroke="#48B955" stroke-width="1.05"/>
<circle cx="579.6" cy="729.1" r="2.75" fill="none" stroke="#48B955" stroke-width="1.05"/>
<circle cx="584.1" cy="728.6" r="2.75" fill="none" stroke="#48B955" stroke-width="1.05"/>
<circle cx="582" cy="732.6" r="2.75" fill="none" stroke="#48B955" stroke-width="1.05"/>
<circle cx="585.2" cy="733.4" r="2.75" fill="none" stroke="#48B955" stroke-width="1.05"/>
<circle cx="586.8" cy="735.8" r="2.75" fill="none" stroke="#48B955" stroke-width="1.05"/>
<circle cx="583.6" cy="737.4" r="2.75" fill="none" stroke="#48B955" stroke-width="1.05"/>
<circle cx="579.6" cy="742.6" r="2.75" fill="none" stroke="#48B955" stroke-width="1.05"/>
<circle cx="587.3" cy="742.6" r="2.75" fill="none" stroke="#48B955" stroke-width="1.05"/>
<circle cx="561.6" cy="741.6" r="2.75" fill="none" stroke="#48B955" stroke-width="1.05"/>
<circle cx="629.1" cy="729.9" r="2.75" fill="none" stroke="#48B955" stroke-width="1.05"/>
<circle cx="577.7" cy="753.8" r="2.75" fill="none" stroke="#48B955" stroke-width="1.05"/>
<circle cx="585.7" cy="764.7" r="2.75" fill="none" stroke="#48B955" stroke-width="1.05"/>
<circle cx="468.4" cy="799.3" r="3.5" fill="#48B955" stroke="none" stroke-width="1"/>
<circle cx="489.8" cy="803" r="3.5" fill="#48B955" stroke="none" stroke-width="1"/>
<circle cx="501.1" cy="796.6" r="3.5" fill="#48B955" stroke="none" stroke-width="1"/>
<circle cx="508.1" cy="788.1" r="3.5" fill="#48B955" stroke="none" stroke-width="1"/>
<circle cx="518.3" cy="809.5" r="3.5" fill="#48B955" stroke="none" stroke-width="1"/>
<circle cx="519" cy="812.4" r="3.5" fill="#48B955" stroke="none" stroke-width="1"/>
<circle cx="498" cy="804.8" r="3.5" fill="#DB7839" stroke="none" stroke-width="1"/>
<circle cx="501.1" cy="815.9" r="3.5" fill="#DB7839" stroke="none" stroke-width="1"/>
<rect x="466.9" y="813.8" width="7" height="7" fill="#DB7839"/>
<rect x="477" y="817" width="7" height="7" fill="#DB7839"/>
<rect x="505.2" y="794" width="7" height="7" fill="#DB7839"/>
<rect x="512" y="817.6" width="7" height="7" fill="#DB7839"/>
<rect x="655.3" y="665.7" width="23.1" height="22.3" fill="#231815"/>
<text x="666.85" y="684.5" font-size="22" text-anchor="middle" font-weight="bold" fill="#fff">H</text>
</svg>
</body></html>
